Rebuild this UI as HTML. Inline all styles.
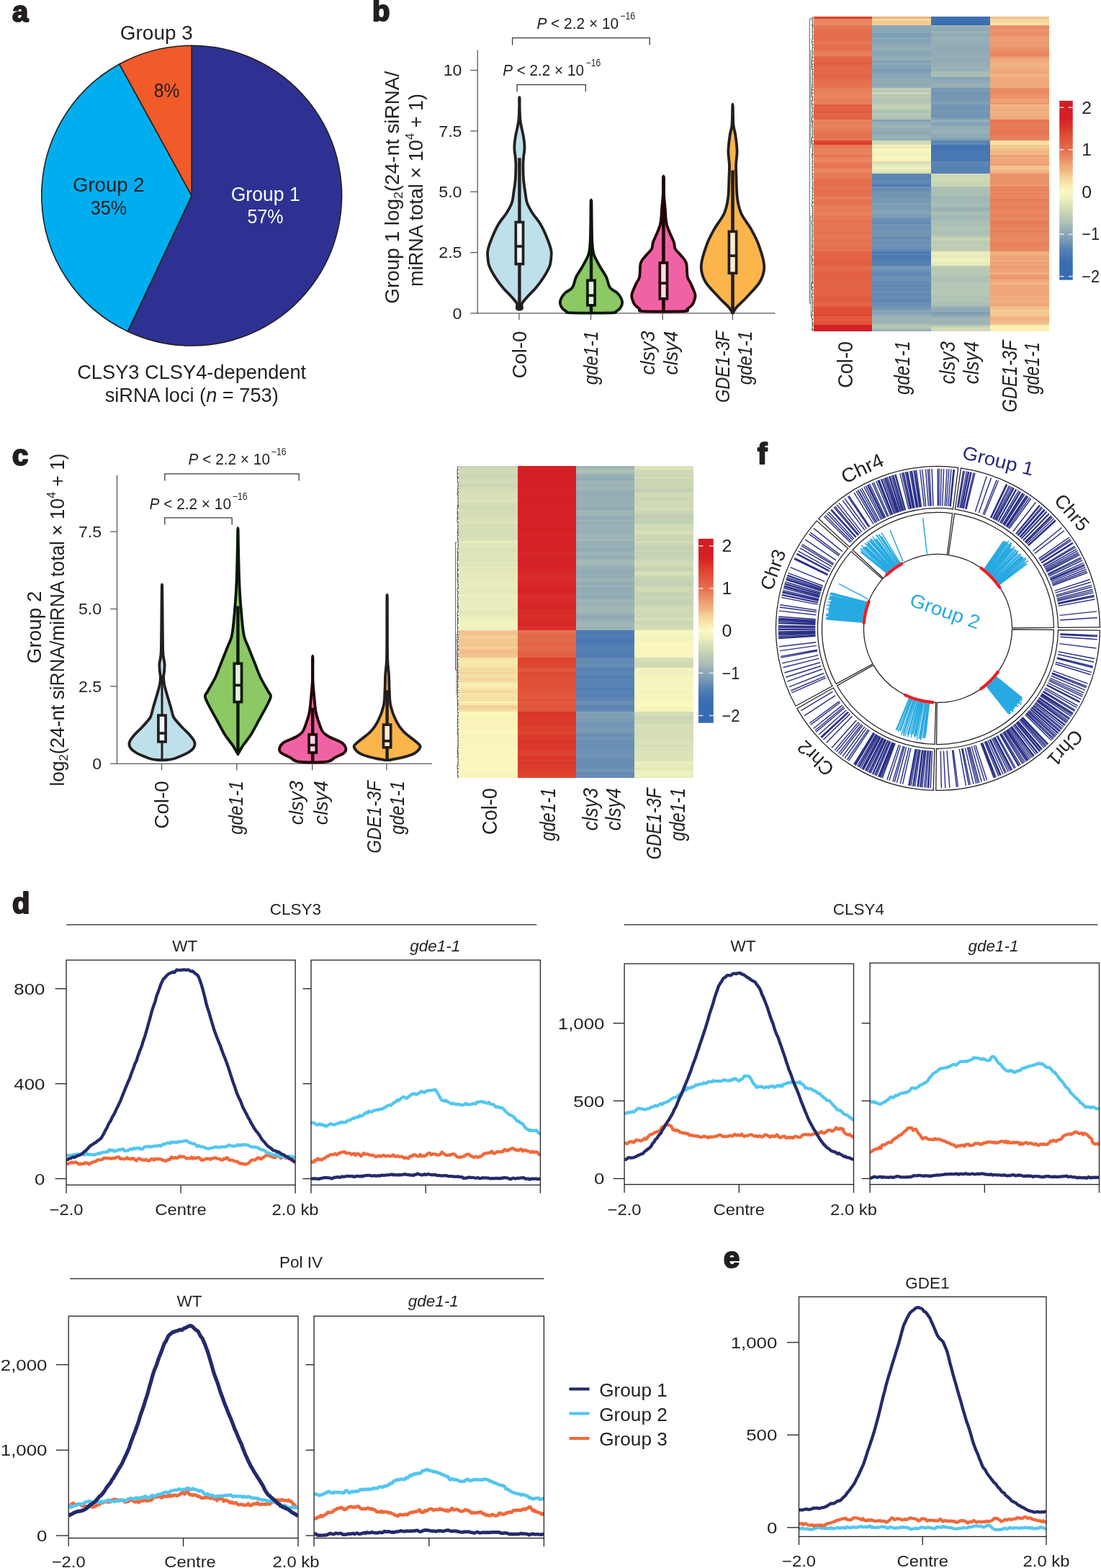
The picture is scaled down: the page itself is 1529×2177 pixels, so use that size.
<!DOCTYPE html>
<html><head><meta charset="utf-8"><title>Figure</title>
<style>
html,body{margin:0;padding:0;background:#fff;}
body{width:1529px;height:2177px;overflow:hidden;}
svg{display:block;}
text{font-family:"Liberation Sans", "DejaVu Sans", sans-serif;}
</style></head><body>
<svg fill="#231f20" width="1529" height="2177" viewBox="0 0 1529 2177">
<rect width="1529" height="2177" fill="#fff"/>
<text x="17" y="29.5" font-size="40" font-weight="bold" stroke="#231f20" stroke-width="2.2" stroke-linejoin="round">a</text>
<text x="517" y="28.5" font-size="40" font-weight="bold" stroke="#231f20" stroke-width="2.2" stroke-linejoin="round">b</text>
<text x="17" y="645.5" font-size="40" font-weight="bold" stroke="#231f20" stroke-width="2.2" stroke-linejoin="round">c</text>
<text x="17" y="1268" font-size="40" font-weight="bold" stroke="#231f20" stroke-width="2.2" stroke-linejoin="round">d</text>
<text x="1005" y="1760" font-size="40" font-weight="bold" stroke="#231f20" stroke-width="2.2" stroke-linejoin="round">e</text>
<text x="1052" y="644" font-size="40" font-weight="bold" stroke="#231f20" stroke-width="2.2" stroke-linejoin="round">f</text>
<path d="M266.2,271.6 L266.2,63.2 A208.4,208.4 0 1 1 177.47,460.17 Z" fill="#2e3192" stroke="#231f20" stroke-width="1.6" stroke-linejoin="round"/>
<path d="M266.2,271.6 L177.47,460.17 A208.4,208.4 0 0 1 165.8,88.98 Z" fill="#00aeef" stroke="#231f20" stroke-width="1.6" stroke-linejoin="round"/>
<path d="M266.2,271.6 L165.8,88.98 A208.4,208.4 0 0 1 266.2,63.2 Z" fill="#f15a29" stroke="#231f20" stroke-width="1.6" stroke-linejoin="round"/>
<text x="217.3" y="54.5" font-size="27" text-anchor="middle" textLength="101" lengthAdjust="spacingAndGlyphs">Group 3</text>
<text x="231.7" y="135.4" font-size="27" text-anchor="middle" textLength="35.7" lengthAdjust="spacingAndGlyphs">8%</text>
<text x="150.8" y="266.3" font-size="27" text-anchor="middle" textLength="99.7" lengthAdjust="spacingAndGlyphs">Group 2</text>
<text x="151" y="298.3" font-size="27" text-anchor="middle" textLength="50.3" lengthAdjust="spacingAndGlyphs">35%</text>
<text x="368.7" y="278.9" font-size="27" text-anchor="middle" fill="#ffffff" textLength="96" lengthAdjust="spacingAndGlyphs">Group 1</text>
<text x="368.5" y="310.2" font-size="27" text-anchor="middle" fill="#ffffff" textLength="50" lengthAdjust="spacingAndGlyphs">57%</text>
<text x="266.2" y="526.2" font-size="27.2" text-anchor="middle" textLength="318" lengthAdjust="spacingAndGlyphs">CLSY3 CLSY4-dependent</text>
<text x="266.2" y="557.8" font-size="27.2" text-anchor="middle">siRNA loci (<tspan font-style="italic">n</tspan> = 753)</text>
<line x1="663.2" y1="69.5" x2="663.2" y2="435.5" stroke="#58595b" stroke-width="1.3" />
<line x1="662.6" y1="434.9" x2="1076.5" y2="434.9" stroke="#58595b" stroke-width="1.3" />
<line x1="653.3" y1="434.9" x2="663.2" y2="434.9" stroke="#58595b" stroke-width="1.3" />
<text x="641.5" y="442.5" font-size="21.5" text-anchor="end" textLength="12.91" lengthAdjust="spacingAndGlyphs">0</text>
<line x1="653.3" y1="350.57" x2="663.2" y2="350.57" stroke="#58595b" stroke-width="1.3" />
<text x="641.5" y="358.18" font-size="21.5" text-anchor="end" textLength="32.28" lengthAdjust="spacingAndGlyphs">2.5</text>
<line x1="653.3" y1="266.25" x2="663.2" y2="266.25" stroke="#58595b" stroke-width="1.3" />
<text x="641.5" y="273.85" font-size="21.5" text-anchor="end" textLength="32.28" lengthAdjust="spacingAndGlyphs">5.0</text>
<line x1="653.3" y1="181.93" x2="663.2" y2="181.93" stroke="#58595b" stroke-width="1.3" />
<text x="641.5" y="189.53" font-size="21.5" text-anchor="end" textLength="32.28" lengthAdjust="spacingAndGlyphs">7.5</text>
<line x1="653.3" y1="97.6" x2="663.2" y2="97.6" stroke="#58595b" stroke-width="1.3" />
<text x="641.5" y="105.2" font-size="21.5" text-anchor="end" textLength="25.82" lengthAdjust="spacingAndGlyphs">10</text>
<line x1="720.9" y1="434.9" x2="720.9" y2="444" stroke="#58595b" stroke-width="1.3" />
<line x1="820.5" y1="434.9" x2="820.5" y2="444" stroke="#58595b" stroke-width="1.3" />
<line x1="920.2" y1="434.9" x2="920.2" y2="444" stroke="#58595b" stroke-width="1.3" />
<line x1="1017.4" y1="434.9" x2="1017.4" y2="444" stroke="#58595b" stroke-width="1.3" />
<path d="M721.65,136.9 C721.74,139.08 721.52,144.73 721.7,150 C721.87,155.27 721.82,161.83 722.7,168.5 C723.58,175.17 726.03,183.88 727,190 C727.97,196.12 728.48,200.53 728.5,205.2 C728.52,209.87 727.45,213.83 727.1,218 C726.75,222.17 726.4,224.87 726.4,230.2 C726.4,235.53 726.6,243.87 727.1,250 C727.6,256.13 728.58,261.72 729.4,267 C730.22,272.28 730.32,276.87 732,281.7 C733.68,286.53 736.43,291.12 739.5,296 C742.57,300.88 747.07,305.33 750.4,311 C753.73,316.67 757,323.87 759.5,330 C762,336.13 764.47,342.8 765.4,347.8 C766.33,352.8 765.47,356.33 765.1,360 C764.73,363.67 764.88,365.63 763.2,369.8 C761.52,373.97 758.12,380.1 755,385 C751.88,389.9 748.25,394.7 744.5,399.2 C740.75,403.7 735.75,408.32 732.5,412 C729.25,415.68 726.3,418.53 725,421.3 C723.7,424.07 725.85,427.38 724.7,428.6 C723.55,429.82 719.25,429.82 718.1,428.6 C716.95,427.38 719.1,424.07 717.8,421.3 C716.5,418.53 713.55,415.68 710.3,412 C707.05,408.32 702.05,403.7 698.3,399.2 C694.55,394.7 690.92,389.9 687.8,385 C684.68,380.1 681.28,373.97 679.6,369.8 C677.92,365.63 678.07,363.67 677.7,360 C677.33,356.33 676.47,352.8 677.4,347.8 C678.33,342.8 680.8,336.13 683.3,330 C685.8,323.87 689.07,316.67 692.4,311 C695.73,305.33 700.23,300.88 703.3,296 C706.37,291.12 709.12,286.53 710.8,281.7 C712.48,276.87 712.58,272.28 713.4,267 C714.22,261.72 715.2,256.13 715.7,250 C716.2,243.87 716.4,235.53 716.4,230.2 C716.4,224.87 716.05,222.17 715.7,218 C715.35,213.83 714.28,209.87 714.3,205.2 C714.32,200.53 714.83,196.12 715.8,190 C716.77,183.88 719.22,175.17 720.1,168.5 C720.98,161.83 720.93,155.27 721.1,150 C721.27,144.73 721.06,139.08 721.15,136.9 C721.24,134.72 721.56,134.72 721.65,136.9 Z" fill="#bee0ea" stroke="#231f20" stroke-width="3.8" stroke-linejoin="round"/>
<line x1="721.4" y1="219.2" x2="721.4" y2="428.6" stroke="#231f20" stroke-width="4.4" stroke-linecap="butt"/>
<rect x="716.3" y="308.45" width="10.2" height="58.1" fill="#f0f9fa" stroke="#231f20" stroke-width="3.7" />
<line x1="716.3" y1="342" x2="726.5" y2="342" stroke="#231f20" stroke-width="3.7" />
<path d="M821.25,280.2 C821.38,283.5 821.36,291.7 821.5,300 C821.64,308.3 821.83,322.5 822.1,330 C822.37,337.5 822.57,340.83 823.1,345 C823.63,349.17 823.63,350.83 825.3,355 C826.97,359.17 830.33,365.08 833.1,370 C835.87,374.92 839.58,379.63 841.9,384.5 C844.22,389.37 844.47,395.52 847,399.2 C849.53,402.88 854.5,404.13 857.1,406.6 C859.7,409.07 861.43,411.55 862.6,414 C863.77,416.45 864.35,418.97 864.1,421.3 C863.85,423.63 862.6,426.12 861.1,428 C859.6,429.88 857.1,431.55 855.1,432.6 C853.1,433.65 859.47,434.02 849.1,434.3 C838.73,434.58 803.27,434.58 792.9,434.3 C782.53,434.02 788.9,433.65 786.9,432.6 C784.9,431.55 782.4,429.88 780.9,428 C779.4,426.12 778.15,423.63 777.9,421.3 C777.65,418.97 778.23,416.45 779.4,414 C780.57,411.55 782.3,409.07 784.9,406.6 C787.5,404.13 792.47,402.88 795,399.2 C797.53,395.52 797.78,389.37 800.1,384.5 C802.42,379.63 806.13,374.92 808.9,370 C811.67,365.08 815.03,359.17 816.7,355 C818.37,350.83 818.37,349.17 818.9,345 C819.43,340.83 819.63,337.5 819.9,330 C820.17,322.5 820.36,308.3 820.5,300 C820.64,291.7 820.62,283.5 820.75,280.2 C820.88,276.9 821.12,276.9 821.25,280.2 Z" fill="#8cc864" stroke="#0b1708" stroke-width="3.8" stroke-linejoin="round"/>
<line x1="821" y1="278" x2="821" y2="434.3" stroke="#0b1708" stroke-width="4.4" stroke-linecap="butt"/>
<rect x="815.9" y="389.35" width="10.2" height="34.5" fill="#e6f3dc" stroke="#0b1708" stroke-width="3.7" />
<line x1="815.9" y1="410.2" x2="826.1" y2="410.2" stroke="#0b1708" stroke-width="3.7" />
<path d="M921.65,247.2 C921.79,251 921.67,263.22 922,270 C922.33,276.78 922.93,280.9 923.6,287.9 C924.27,294.9 923.98,303.98 926,312 C928.02,320.02 933.73,330.38 935.7,336 C937.67,341.62 936.08,342.53 937.8,345.7 C939.52,348.87 943.47,351.78 946,355 C948.53,358.22 951.55,360.12 953,365 C954.45,369.88 953.62,379.47 954.7,384.3 C955.78,389.13 957.73,389.98 959.5,394 C961.27,398.02 964.47,404.73 965.3,408.4 C966.13,412.07 965.13,413.58 964.5,416 C963.87,418.42 963.17,420.73 961.5,422.9 C959.83,425.07 956.5,427.45 954.5,429 C952.5,430.55 959.7,431.67 949.5,432.2 C939.3,432.73 903.5,432.73 893.3,432.2 C883.1,431.67 890.3,430.55 888.3,429 C886.3,427.45 882.97,425.07 881.3,422.9 C879.63,420.73 878.93,418.42 878.3,416 C877.67,413.58 876.67,412.07 877.5,408.4 C878.33,404.73 881.53,398.02 883.3,394 C885.07,389.98 887.02,389.13 888.1,384.3 C889.18,379.47 888.35,369.88 889.8,365 C891.25,360.12 894.27,358.22 896.8,355 C899.33,351.78 903.28,348.87 905,345.7 C906.72,342.53 905.13,341.62 907.1,336 C909.07,330.38 914.78,320.02 916.8,312 C918.82,303.98 918.53,294.9 919.2,287.9 C919.87,280.9 920.47,276.78 920.8,270 C921.12,263.22 921.01,251 921.15,247.2 C921.29,243.4 921.51,243.4 921.65,247.2 Z" fill="#ef63a5" stroke="#220306" stroke-width="3.8" stroke-linejoin="round"/>
<line x1="921.4" y1="245" x2="921.4" y2="432.2" stroke="#220306" stroke-width="4.6" stroke-linecap="butt"/>
<rect x="916.3" y="364.95" width="10.2" height="49.8" fill="#fbdcec" stroke="#220306" stroke-width="3.7" />
<line x1="916.3" y1="393.2" x2="926.5" y2="393.2" stroke="#220306" stroke-width="3.7" />
<path d="M1017.75,147.8 C1017.96,152.07 1017.89,166.72 1018.5,173.4 C1019.11,180.08 1020.55,181.87 1021.4,187.9 C1022.25,193.93 1023.48,202.85 1023.6,209.6 C1023.72,216.35 1022.28,222.37 1022.1,228.4 C1021.92,234.43 1022.2,238.08 1022.5,245.8 C1022.8,253.52 1022.75,266.27 1023.9,274.7 C1025.05,283.13 1026.2,289.15 1029.4,296.4 C1032.6,303.65 1039.07,310.95 1043.1,318.2 C1047.13,325.45 1050.58,331.47 1053.6,339.9 C1056.62,348.33 1060.83,360.37 1061.2,368.8 C1061.57,377.23 1059.78,383.27 1055.8,390.5 C1051.82,397.73 1042.8,406.17 1037.3,412.2 C1031.8,418.23 1025.98,423.07 1022.8,426.7 C1019.62,430.33 1019.2,432.78 1018.2,434 C1017.2,435.22 1017.8,435.22 1016.8,434 C1015.8,432.78 1015.38,430.33 1012.2,426.7 C1009.02,423.07 1003.2,418.23 997.7,412.2 C992.2,406.17 983.18,397.73 979.2,390.5 C975.22,383.27 973.43,377.23 973.8,368.8 C974.17,360.37 978.38,348.33 981.4,339.9 C984.42,331.47 987.87,325.45 991.9,318.2 C995.93,310.95 1002.4,303.65 1005.6,296.4 C1008.8,289.15 1009.95,283.13 1011.1,274.7 C1012.25,266.27 1012.2,253.52 1012.5,245.8 C1012.8,238.08 1013.08,234.43 1012.9,228.4 C1012.72,222.37 1011.28,216.35 1011.4,209.6 C1011.52,202.85 1012.75,193.93 1013.6,187.9 C1014.45,181.87 1015.89,180.08 1016.5,173.4 C1017.11,166.72 1017.04,152.07 1017.25,147.8 C1017.46,143.53 1017.54,143.53 1017.75,147.8 Z" fill="#fbb54b" stroke="#231f20" stroke-width="3.8" stroke-linejoin="round"/>
<line x1="1017.5" y1="236.4" x2="1017.5" y2="434" stroke="#231f20" stroke-width="4.6" stroke-linecap="butt"/>
<rect x="1012.4" y="321.45" width="10.2" height="57.8" fill="#fdecd2" stroke="#231f20" stroke-width="3.7" />
<line x1="1012.4" y1="355.1" x2="1022.6" y2="355.1" stroke="#231f20" stroke-width="3.7" />
<text x="745.4" y="39.8" font-size="22" textLength="113.7" lengthAdjust="spacingAndGlyphs"><tspan font-style="italic">P</tspan> &lt; 2.2 × 10</text>
<text x="861.2" y="27" font-size="14.5" textLength="20.9" lengthAdjust="spacingAndGlyphs">−16</text>
<path d="M711.6,62.5 V52.7 H902.2 V62.5" fill="none" stroke="#3a3a3a" stroke-width="1.3"/>
<text x="698.2" y="104.7" font-size="22" textLength="112.7" lengthAdjust="spacingAndGlyphs"><tspan font-style="italic">P</tspan> &lt; 2.2 × 10</text>
<text x="813.7" y="91.7" font-size="14.5" textLength="20.6" lengthAdjust="spacingAndGlyphs">−16</text>
<path d="M718,127.3 V117.6 H813.3 V127.3" fill="none" stroke="#3a3a3a" stroke-width="1.3"/>
<text transform="translate(553.9 260.3) rotate(-90)" font-size="27" text-anchor="middle" textLength="323" lengthAdjust="spacingAndGlyphs">Group 1 log<tspan font-size="17" dy="5">2</tspan><tspan dy="-5">(24-nt siRNA/</tspan></text>
<text transform="translate(586.9 263.9) rotate(-90)" font-size="27" text-anchor="middle" textLength="268" lengthAdjust="spacingAndGlyphs">miRNA total × 10<tspan font-size="17" dy="-12">4</tspan><tspan dy="12"> + 1)</tspan></text>
<text transform="translate(730.6 459.6) rotate(-90)" font-size="28.5" text-anchor="end" textLength="66" lengthAdjust="spacingAndGlyphs">Col-0</text>
<text transform="translate(829.5 459.6) rotate(-90)" font-size="28" text-anchor="end" font-style="italic" textLength="74.6" lengthAdjust="spacingAndGlyphs">gde1-1</text>
<text transform="translate(908.8 459.6) rotate(-90)" font-size="28" text-anchor="end" font-style="italic" textLength="61" lengthAdjust="spacingAndGlyphs">clsy3</text>
<text transform="translate(940.8 459.6) rotate(-90)" font-size="28" text-anchor="end" font-style="italic" textLength="61" lengthAdjust="spacingAndGlyphs">clsy4</text>
<text transform="translate(1013 459.6) rotate(-90)" font-size="28" text-anchor="end" font-style="italic" textLength="99.4" lengthAdjust="spacingAndGlyphs">GDE1-3F</text>
<text transform="translate(1044.2 459.6) rotate(-90)" font-size="28" text-anchor="end" font-style="italic" textLength="74.6" lengthAdjust="spacingAndGlyphs">gde1-1</text>
<line x1="162.5" y1="659.7" x2="162.5" y2="1060.9" stroke="#58595b" stroke-width="1.3" />
<line x1="161.9" y1="1060.3" x2="600" y2="1060.3" stroke="#58595b" stroke-width="1.3" />
<line x1="153.3" y1="1060.3" x2="162.5" y2="1060.3" stroke="#58595b" stroke-width="1.3" />
<text x="141.2" y="1067.9" font-size="21.5" text-anchor="end" textLength="12.91" lengthAdjust="spacingAndGlyphs">0</text>
<line x1="153.3" y1="952.9" x2="162.5" y2="952.9" stroke="#58595b" stroke-width="1.3" />
<text x="141.2" y="960.5" font-size="21.5" text-anchor="end" textLength="32.28" lengthAdjust="spacingAndGlyphs">2.5</text>
<line x1="153.3" y1="845.5" x2="162.5" y2="845.5" stroke="#58595b" stroke-width="1.3" />
<text x="141.2" y="853.1" font-size="21.5" text-anchor="end" textLength="32.28" lengthAdjust="spacingAndGlyphs">5.0</text>
<line x1="153.3" y1="738.1" x2="162.5" y2="738.1" stroke="#58595b" stroke-width="1.3" />
<text x="141.2" y="745.7" font-size="21.5" text-anchor="end" textLength="32.28" lengthAdjust="spacingAndGlyphs">7.5</text>
<line x1="224.5" y1="1060.3" x2="224.5" y2="1069.5" stroke="#58595b" stroke-width="1.3" />
<line x1="328.9" y1="1060.3" x2="328.9" y2="1069.5" stroke="#58595b" stroke-width="1.3" />
<line x1="433.7" y1="1060.3" x2="433.7" y2="1069.5" stroke="#58595b" stroke-width="1.3" />
<line x1="536.9" y1="1060.3" x2="536.9" y2="1069.5" stroke="#58595b" stroke-width="1.3" />
<path d="M225.25,815.7 C225.39,821.42 225.46,835.95 225.6,850 C225.74,864.05 225.85,889.5 226.1,900 C226.35,910.5 226.68,909.33 227.1,913 C227.52,916.67 228.43,918.83 228.6,922 C228.77,925.17 228.35,929 228.1,932 C227.85,935 227.1,937 227.1,940 C227.1,943 227.27,945.83 228.1,950 C228.93,954.17 230.68,960 232.1,965 C233.52,970 235.27,975.33 236.6,980 C237.93,984.67 239.1,990 240.1,993 C241.1,996 240.43,995.17 242.6,998 C244.77,1000.83 249.68,1006.33 253.1,1010 C256.52,1013.67 260.27,1016.67 263.1,1020 C265.93,1023.33 269.1,1027 270.1,1030 C271.1,1033 270.6,1035.5 269.1,1038 C267.6,1040.5 264.27,1043 261.1,1045 C257.93,1047 253.43,1048.58 250.1,1050 C246.77,1051.42 244.1,1052.67 241.1,1053.5 C238.1,1054.33 235.97,1054.75 232.1,1055 C228.23,1055.25 221.77,1055.25 217.9,1055 C214.03,1054.75 211.9,1054.33 208.9,1053.5 C205.9,1052.67 203.23,1051.42 199.9,1050 C196.57,1048.58 192.07,1047 188.9,1045 C185.73,1043 182.4,1040.5 180.9,1038 C179.4,1035.5 178.9,1033 179.9,1030 C180.9,1027 184.07,1023.33 186.9,1020 C189.73,1016.67 193.48,1013.67 196.9,1010 C200.32,1006.33 205.23,1000.83 207.4,998 C209.57,995.17 208.9,996 209.9,993 C210.9,990 212.07,984.67 213.4,980 C214.73,975.33 216.48,970 217.9,965 C219.32,960 221.07,954.17 221.9,950 C222.73,945.83 222.9,943 222.9,940 C222.9,937 222.15,935 221.9,932 C221.65,929 221.23,925.17 221.4,922 C221.57,918.83 222.48,916.67 222.9,913 C223.32,909.33 223.65,910.5 223.9,900 C224.15,889.5 224.26,864.05 224.4,850 C224.54,835.95 224.61,821.42 224.75,815.7 C224.89,809.98 225.11,809.98 225.25,815.7 Z" fill="#bee0ea" stroke="#231f20" stroke-width="3.8" stroke-linejoin="round"/>
<line x1="225" y1="938" x2="225" y2="1055" stroke="#231f20" stroke-width="3" stroke-linecap="butt"/>
<rect x="219.9" y="993.15" width="10.2" height="36.7" fill="#f0f9fa" stroke="#231f20" stroke-width="3.7" />
<line x1="219.9" y1="1018" x2="230.1" y2="1018" stroke="#231f20" stroke-width="3.7" />
<path d="M330.65,736.1 C330.79,740.08 330.77,749.35 331,760 C331.23,770.65 331.58,788.33 332,800 C332.42,811.67 332.67,818.33 333.5,830 C334.33,841.67 336,860.83 337,870 C338,879.17 338.08,880 339.5,885 C340.92,890 343.17,894.17 345.5,900 C347.83,905.83 350.83,913.33 353.5,920 C356.17,926.67 358.33,933.33 361.5,940 C364.67,946.67 370.08,955.5 372.5,960 C374.92,964.5 376.33,963.67 376,967 C375.67,970.33 373.25,974.5 370.5,980 C367.75,985.5 363.17,993.33 359.5,1000 C355.83,1006.67 352.17,1014.17 348.5,1020 C344.83,1025.83 340.42,1030.67 337.5,1035 C334.58,1039.33 332.28,1044.17 331,1046 C329.72,1047.83 331.08,1047.83 329.8,1046 C328.52,1044.17 326.22,1039.33 323.3,1035 C320.38,1030.67 315.97,1025.83 312.3,1020 C308.63,1014.17 304.97,1006.67 301.3,1000 C297.63,993.33 293.05,985.5 290.3,980 C287.55,974.5 285.13,970.33 284.8,967 C284.47,963.67 285.88,964.5 288.3,960 C290.72,955.5 296.13,946.67 299.3,940 C302.47,933.33 304.63,926.67 307.3,920 C309.97,913.33 312.97,905.83 315.3,900 C317.63,894.17 319.88,890 321.3,885 C322.72,880 322.8,879.17 323.8,870 C324.8,860.83 326.47,841.67 327.3,830 C328.13,818.33 328.38,811.67 328.8,800 C329.22,788.33 329.57,770.65 329.8,760 C330.02,749.35 330.01,740.08 330.15,736.1 C330.29,732.12 330.51,732.12 330.65,736.1 Z" fill="#8cc864" stroke="#0b1708" stroke-width="3.8" stroke-linejoin="round"/>
<line x1="330.4" y1="841.6" x2="330.4" y2="1046" stroke="#0b1708" stroke-width="4.4" stroke-linecap="butt"/>
<rect x="325.3" y="921.25" width="10.2" height="53.3" fill="#e6f3dc" stroke="#0b1708" stroke-width="3.7" />
<line x1="325.3" y1="951.4" x2="335.5" y2="951.4" stroke="#0b1708" stroke-width="3.7" />
<path d="M434.45,914.4 C434.54,919.32 434.32,936.58 434.5,943.9 C434.68,951.22 434.85,951.1 435.5,958.3 C436.15,965.5 437.27,979.92 438.4,987.1 C439.53,994.28 440.68,996.62 442.3,1001.4 C443.92,1006.18 445.63,1012.2 448.1,1015.8 C450.57,1019.4 452.9,1020.6 457.1,1023 C461.3,1025.4 469.52,1027.8 473.3,1030.2 C477.08,1032.6 478.9,1035 479.8,1037.4 C480.7,1039.8 481.12,1042.2 478.7,1044.6 C476.28,1047 469.53,1049.63 465.3,1051.8 C461.07,1053.97 461.67,1056.63 453.3,1057.6 C444.93,1058.57 423.47,1058.57 415.1,1057.6 C406.73,1056.63 407.33,1053.97 403.1,1051.8 C398.87,1049.63 392.12,1047 389.7,1044.6 C387.28,1042.2 387.7,1039.8 388.6,1037.4 C389.5,1035 391.32,1032.6 395.1,1030.2 C398.88,1027.8 407.1,1025.4 411.3,1023 C415.5,1020.6 417.83,1019.4 420.3,1015.8 C422.77,1012.2 424.48,1006.18 426.1,1001.4 C427.72,996.62 428.87,994.28 430,987.1 C431.13,979.92 432.25,965.5 432.9,958.3 C433.55,951.1 433.72,951.22 433.9,943.9 C434.07,936.58 433.86,919.32 433.95,914.4 C434.04,909.48 434.36,909.48 434.45,914.4 Z" fill="#ef63a5" stroke="#220306" stroke-width="3.8" stroke-linejoin="round"/>
<line x1="434.2" y1="982.7" x2="434.2" y2="1057.6" stroke="#220306" stroke-width="4.4" stroke-linecap="butt"/>
<rect x="429.1" y="1019.85" width="10.2" height="25.1" fill="#fbdcec" stroke="#220306" stroke-width="3.7" />
<line x1="429.1" y1="1034.5" x2="439.3" y2="1034.5" stroke="#220306" stroke-width="3.7" />
<path d="M537.85,831 C537.94,837.82 537.84,857.88 537.9,871.9 C537.96,885.92 537.85,904.3 538.2,915.1 C538.55,925.9 539.58,929.5 540,936.7 C540.42,943.9 540.28,951.1 540.7,958.3 C541.12,965.5 540.88,972.72 542.5,979.9 C544.12,987.08 547.4,995.42 550.4,1001.4 C553.4,1007.38 555.88,1011 560.5,1015.8 C565.12,1020.6 574.27,1026.6 578.1,1030.2 C581.93,1033.8 584.45,1034.52 583.5,1037.4 C582.55,1040.28 579.03,1044.62 572.4,1047.5 C565.77,1050.38 550.52,1053.5 543.7,1054.7 C536.88,1055.9 538.32,1055.9 531.5,1054.7 C524.68,1053.5 509.43,1050.38 502.8,1047.5 C496.17,1044.62 492.65,1040.28 491.7,1037.4 C490.75,1034.52 493.27,1033.8 497.1,1030.2 C500.93,1026.6 510.08,1020.6 514.7,1015.8 C519.32,1011 521.8,1007.38 524.8,1001.4 C527.8,995.42 531.08,987.08 532.7,979.9 C534.32,972.72 534.08,965.5 534.5,958.3 C534.92,951.1 534.78,943.9 535.2,936.7 C535.62,929.5 536.65,925.9 537,915.1 C537.35,904.3 537.24,885.92 537.3,871.9 C537.36,857.88 537.26,837.82 537.35,831 C537.44,824.18 537.76,824.18 537.85,831 Z" fill="#fbb54b" stroke="#231f20" stroke-width="3.8" stroke-linejoin="round"/>
<line x1="537.6" y1="958.3" x2="537.6" y2="1054.7" stroke="#231f20" stroke-width="4.4" stroke-linecap="butt"/>
<rect x="532.5" y="1006.15" width="10.2" height="31.6" fill="#fdecd2" stroke="#231f20" stroke-width="3.7" />
<line x1="532.5" y1="1028.8" x2="542.7" y2="1028.8" stroke="#231f20" stroke-width="3.7" />
<text x="261.5" y="644.5" font-size="22" textLength="113.5" lengthAdjust="spacingAndGlyphs"><tspan font-style="italic">P</tspan> &lt; 2.2 × 10</text>
<text x="376.8" y="631.5" font-size="14.5" textLength="20.7" lengthAdjust="spacingAndGlyphs">−16</text>
<path d="M228.8,667.5 V657.8 H415.2 V667.5" fill="none" stroke="#3a3a3a" stroke-width="1.3"/>
<text x="207.5" y="706.5" font-size="22" textLength="113.5" lengthAdjust="spacingAndGlyphs"><tspan font-style="italic">P</tspan> &lt; 2.2 × 10</text>
<text x="322.8" y="693.5" font-size="14.5" textLength="20.7" lengthAdjust="spacingAndGlyphs">−16</text>
<path d="M228.8,728.5 V718.8 H322.2 V728.5" fill="none" stroke="#3a3a3a" stroke-width="1.3"/>
<text transform="translate(56.5 870.9) rotate(-90)" font-size="27" text-anchor="middle" textLength="100.6" lengthAdjust="spacingAndGlyphs">Group 2</text>
<text transform="translate(89.4 860.5) rotate(-90)" font-size="27" text-anchor="middle" textLength="462" lengthAdjust="spacingAndGlyphs">log<tspan font-size="17" dy="5">2</tspan><tspan dy="-5">(24-nt siRNA/miRNA total × 10</tspan><tspan font-size="17" dy="-12">4</tspan><tspan dy="12"> + 1)</tspan></text>
<text transform="translate(233.9 1084.2) rotate(-90)" font-size="28.5" text-anchor="end" textLength="66.5" lengthAdjust="spacingAndGlyphs">Col-0</text>
<text transform="translate(337.3 1084.2) rotate(-90)" font-size="28" text-anchor="end" font-style="italic" textLength="74.5" lengthAdjust="spacingAndGlyphs">gde1-1</text>
<text transform="translate(421 1084.2) rotate(-90)" font-size="28" text-anchor="end" font-style="italic" textLength="61" lengthAdjust="spacingAndGlyphs">clsy3</text>
<text transform="translate(455 1084.2) rotate(-90)" font-size="28" text-anchor="end" font-style="italic" textLength="61" lengthAdjust="spacingAndGlyphs">clsy4</text>
<text transform="translate(529.3 1084.2) rotate(-90)" font-size="28" text-anchor="end" font-style="italic" textLength="100.5" lengthAdjust="spacingAndGlyphs">GDE1-3F</text>
<text transform="translate(561 1084.2) rotate(-90)" font-size="28" text-anchor="end" font-style="italic" textLength="74.5" lengthAdjust="spacingAndGlyphs">gde1-1</text>
<g shape-rendering="crispEdges">
<rect x="1129.5" y="23" width="81.7" height="3.31" fill="#dd412e"/>
<rect x="1129.5" y="25.91" width="81.7" height="3.31" fill="#e9845f"/>
<rect x="1129.5" y="28.82" width="81.7" height="3.31" fill="#e98762"/>
<rect x="1129.5" y="31.73" width="81.7" height="3.31" fill="#ea8963"/>
<rect x="1129.5" y="34.64" width="81.7" height="3.31" fill="#e67856"/>
<rect x="1129.5" y="37.55" width="81.7" height="3.31" fill="#e67655"/>
<rect x="1129.5" y="40.46" width="81.7" height="3.31" fill="#e56e4f"/>
<rect x="1129.5" y="43.37" width="81.7" height="3.31" fill="#e46d4e"/>
<rect x="1129.5" y="46.29" width="81.7" height="3.31" fill="#e46a4c"/>
<rect x="1129.5" y="49.2" width="81.7" height="3.31" fill="#e46c4d"/>
<rect x="1129.5" y="52.11" width="81.7" height="3.31" fill="#e46d4e"/>
<rect x="1129.5" y="55.02" width="81.7" height="3.31" fill="#e46e4e"/>
<rect x="1129.5" y="57.93" width="81.7" height="3.31" fill="#e67957"/>
<rect x="1129.5" y="60.84" width="81.7" height="3.31" fill="#e57050"/>
<rect x="1129.5" y="63.75" width="81.7" height="3.31" fill="#e56e4f"/>
<rect x="1129.5" y="66.66" width="81.7" height="3.31" fill="#e46d4e"/>
<rect x="1129.5" y="69.57" width="81.7" height="3.31" fill="#e67857"/>
<rect x="1129.5" y="72.48" width="81.7" height="3.31" fill="#e87f5c"/>
<rect x="1129.5" y="75.39" width="81.7" height="3.31" fill="#e87e5b"/>
<rect x="1129.5" y="78.3" width="81.7" height="3.31" fill="#e4684a"/>
<rect x="1129.5" y="81.21" width="81.7" height="3.31" fill="#e36446"/>
<rect x="1129.5" y="84.12" width="81.7" height="3.31" fill="#e36346"/>
<rect x="1129.5" y="87.03" width="81.7" height="3.31" fill="#e25f43"/>
<rect x="1129.5" y="89.95" width="81.7" height="3.31" fill="#e36346"/>
<rect x="1129.5" y="92.86" width="81.7" height="3.31" fill="#e4684a"/>
<rect x="1129.5" y="95.77" width="81.7" height="3.31" fill="#e36749"/>
<rect x="1129.5" y="98.68" width="81.7" height="3.31" fill="#e46a4c"/>
<rect x="1129.5" y="101.59" width="81.7" height="6.22" fill="#e36245"/>
<rect x="1129.5" y="107.41" width="81.7" height="3.31" fill="#e36648"/>
<rect x="1129.5" y="110.32" width="81.7" height="3.31" fill="#e46d4e"/>
<rect x="1129.5" y="113.23" width="81.7" height="3.31" fill="#e57151"/>
<rect x="1129.5" y="116.14" width="81.7" height="3.31" fill="#e57252"/>
<rect x="1129.5" y="119.05" width="81.7" height="3.31" fill="#e57151"/>
<rect x="1129.5" y="121.96" width="81.7" height="6.22" fill="#e77d5a"/>
<rect x="1129.5" y="127.78" width="81.7" height="3.31" fill="#e8805d"/>
<rect x="1129.5" y="130.69" width="81.7" height="6.22" fill="#e98661"/>
<rect x="1129.5" y="136.52" width="81.7" height="3.31" fill="#e77c59"/>
<rect x="1129.5" y="139.43" width="81.7" height="3.31" fill="#e8825e"/>
<rect x="1129.5" y="142.34" width="81.7" height="3.31" fill="#e87f5c"/>
<rect x="1129.5" y="145.25" width="81.7" height="3.31" fill="#e25d41"/>
<rect x="1129.5" y="148.16" width="81.7" height="3.31" fill="#e36447"/>
<rect x="1129.5" y="151.07" width="81.7" height="3.31" fill="#e26245"/>
<rect x="1129.5" y="153.98" width="81.7" height="3.31" fill="#e15a3f"/>
<rect x="1129.5" y="156.89" width="81.7" height="3.31" fill="#e36548"/>
<rect x="1129.5" y="159.8" width="81.7" height="3.31" fill="#e36447"/>
<rect x="1129.5" y="162.71" width="81.7" height="3.31" fill="#e36245"/>
<rect x="1129.5" y="165.62" width="81.7" height="3.31" fill="#e9845f"/>
<rect x="1129.5" y="168.53" width="81.7" height="6.22" fill="#e77d5b"/>
<rect x="1129.5" y="174.35" width="81.7" height="3.31" fill="#e98661"/>
<rect x="1129.5" y="177.27" width="81.7" height="3.31" fill="#e77d5a"/>
<rect x="1129.5" y="180.18" width="81.7" height="3.31" fill="#e67957"/>
<rect x="1129.5" y="183.09" width="81.7" height="3.31" fill="#e67554"/>
<rect x="1129.5" y="186" width="81.7" height="3.31" fill="#e57050"/>
<rect x="1129.5" y="188.91" width="81.7" height="3.31" fill="#e57353"/>
<rect x="1129.5" y="191.82" width="81.7" height="3.31" fill="#e67755"/>
<rect x="1129.5" y="194.73" width="81.7" height="3.31" fill="#dd442e"/>
<rect x="1129.5" y="197.64" width="81.7" height="3.31" fill="#dc3f2d"/>
<rect x="1129.5" y="200.55" width="81.7" height="3.31" fill="#e77b59"/>
<rect x="1129.5" y="203.46" width="81.7" height="3.31" fill="#e77c5a"/>
<rect x="1129.5" y="206.37" width="81.7" height="3.31" fill="#e8825e"/>
<rect x="1129.5" y="209.28" width="81.7" height="3.31" fill="#e9835f"/>
<rect x="1129.5" y="212.19" width="81.7" height="3.31" fill="#e8815e"/>
<rect x="1129.5" y="215.1" width="81.7" height="3.31" fill="#e67655"/>
<rect x="1129.5" y="218.01" width="81.7" height="3.31" fill="#e8835f"/>
<rect x="1129.5" y="220.93" width="81.7" height="3.31" fill="#e98762"/>
<rect x="1129.5" y="223.84" width="81.7" height="3.31" fill="#e87f5c"/>
<rect x="1129.5" y="226.75" width="81.7" height="3.31" fill="#e57353"/>
<rect x="1129.5" y="229.66" width="81.7" height="3.31" fill="#e57252"/>
<rect x="1129.5" y="232.57" width="81.7" height="3.31" fill="#e8805d"/>
<rect x="1129.5" y="235.48" width="81.7" height="3.31" fill="#ea8b65"/>
<rect x="1129.5" y="238.39" width="81.7" height="3.31" fill="#e8815d"/>
<rect x="1129.5" y="241.3" width="81.7" height="3.31" fill="#e77a58"/>
<rect x="1129.5" y="244.21" width="81.7" height="3.31" fill="#e77d5a"/>
<rect x="1129.5" y="247.12" width="81.7" height="3.31" fill="#e57251"/>
<rect x="1129.5" y="250.03" width="81.7" height="3.31" fill="#e46c4d"/>
<rect x="1129.5" y="252.94" width="81.7" height="3.31" fill="#e46e4e"/>
<rect x="1129.5" y="255.85" width="81.7" height="3.31" fill="#e56e4f"/>
<rect x="1129.5" y="258.76" width="81.7" height="3.31" fill="#e67454"/>
<rect x="1129.5" y="261.67" width="81.7" height="3.31" fill="#e56f4f"/>
<rect x="1129.5" y="264.59" width="81.7" height="3.31" fill="#e57050"/>
<rect x="1129.5" y="267.5" width="81.7" height="3.31" fill="#e57151"/>
<rect x="1129.5" y="270.41" width="81.7" height="3.31" fill="#e57252"/>
<rect x="1129.5" y="273.32" width="81.7" height="3.31" fill="#e77c5a"/>
<rect x="1129.5" y="276.23" width="81.7" height="3.31" fill="#e67453"/>
<rect x="1129.5" y="279.14" width="81.7" height="3.31" fill="#e57151"/>
<rect x="1129.5" y="282.05" width="81.7" height="3.31" fill="#e57252"/>
<rect x="1129.5" y="284.96" width="81.7" height="6.22" fill="#e87e5b"/>
<rect x="1129.5" y="290.78" width="81.7" height="3.31" fill="#e67856"/>
<rect x="1129.5" y="293.69" width="81.7" height="3.31" fill="#e8805d"/>
<rect x="1129.5" y="296.6" width="81.7" height="3.31" fill="#e77e5b"/>
<rect x="1129.5" y="299.51" width="81.7" height="3.31" fill="#e67655"/>
<rect x="1129.5" y="302.42" width="81.7" height="3.31" fill="#e77d5b"/>
<rect x="1129.5" y="305.33" width="81.7" height="3.31" fill="#e57353"/>
<rect x="1129.5" y="308.25" width="81.7" height="3.31" fill="#e57352"/>
<rect x="1129.5" y="311.16" width="81.7" height="3.31" fill="#e67655"/>
<rect x="1129.5" y="314.07" width="81.7" height="3.31" fill="#e67554"/>
<rect x="1129.5" y="316.98" width="81.7" height="3.31" fill="#e57453"/>
<rect x="1129.5" y="319.89" width="81.7" height="3.31" fill="#e67554"/>
<rect x="1129.5" y="322.8" width="81.7" height="3.31" fill="#e57151"/>
<rect x="1129.5" y="325.71" width="81.7" height="3.31" fill="#e67756"/>
<rect x="1129.5" y="328.62" width="81.7" height="3.31" fill="#e67755"/>
<rect x="1129.5" y="331.53" width="81.7" height="3.31" fill="#e57151"/>
<rect x="1129.5" y="334.44" width="81.7" height="3.31" fill="#e57352"/>
<rect x="1129.5" y="337.35" width="81.7" height="3.31" fill="#e67857"/>
<rect x="1129.5" y="340.26" width="81.7" height="3.31" fill="#e57252"/>
<rect x="1129.5" y="343.17" width="81.7" height="3.31" fill="#e46e4e"/>
<rect x="1129.5" y="346.08" width="81.7" height="3.31" fill="#e57352"/>
<rect x="1129.5" y="348.99" width="81.7" height="3.31" fill="#e36547"/>
<rect x="1129.5" y="351.91" width="81.7" height="9.13" fill="#e36346"/>
<rect x="1129.5" y="360.64" width="81.7" height="3.31" fill="#e25d41"/>
<rect x="1129.5" y="363.55" width="81.7" height="3.31" fill="#e36245"/>
<rect x="1129.5" y="366.46" width="81.7" height="3.31" fill="#e25d41"/>
<rect x="1129.5" y="369.37" width="81.7" height="3.31" fill="#e4694b"/>
<rect x="1129.5" y="372.28" width="81.7" height="3.31" fill="#e46c4d"/>
<rect x="1129.5" y="375.19" width="81.7" height="3.31" fill="#e36649"/>
<rect x="1129.5" y="378.1" width="81.7" height="3.31" fill="#e26145"/>
<rect x="1129.5" y="381.01" width="81.7" height="3.31" fill="#e26043"/>
<rect x="1129.5" y="383.92" width="81.7" height="3.31" fill="#e26144"/>
<rect x="1129.5" y="386.83" width="81.7" height="3.31" fill="#e36346"/>
<rect x="1129.5" y="389.74" width="81.7" height="3.31" fill="#e36446"/>
<rect x="1129.5" y="392.65" width="81.7" height="3.31" fill="#e36245"/>
<rect x="1129.5" y="395.57" width="81.7" height="3.31" fill="#e36547"/>
<rect x="1129.5" y="398.48" width="81.7" height="3.31" fill="#e36447"/>
<rect x="1129.5" y="401.39" width="81.7" height="3.31" fill="#e36346"/>
<rect x="1129.5" y="404.3" width="81.7" height="3.31" fill="#e36447"/>
<rect x="1129.5" y="407.21" width="81.7" height="3.31" fill="#e36245"/>
<rect x="1129.5" y="410.12" width="81.7" height="3.31" fill="#e26145"/>
<rect x="1129.5" y="413.03" width="81.7" height="3.31" fill="#e15a3f"/>
<rect x="1129.5" y="415.94" width="81.7" height="3.31" fill="#e25e42"/>
<rect x="1129.5" y="418.85" width="81.7" height="3.31" fill="#e36447"/>
<rect x="1129.5" y="421.76" width="81.7" height="3.31" fill="#e36749"/>
<rect x="1129.5" y="424.67" width="81.7" height="3.31" fill="#e05138"/>
<rect x="1129.5" y="427.58" width="81.7" height="3.31" fill="#df4c34"/>
<rect x="1129.5" y="430.49" width="81.7" height="3.31" fill="#e05037"/>
<rect x="1129.5" y="433.4" width="81.7" height="3.31" fill="#df4e35"/>
<rect x="1129.5" y="436.31" width="81.7" height="3.31" fill="#de452f"/>
<rect x="1129.5" y="439.23" width="81.7" height="3.31" fill="#e1583e"/>
<rect x="1129.5" y="442.14" width="81.7" height="3.31" fill="#e15b40"/>
<rect x="1129.5" y="445.05" width="81.7" height="3.31" fill="#e0553b"/>
<rect x="1129.5" y="447.96" width="81.7" height="3.31" fill="#e05138"/>
<rect x="1129.5" y="450.87" width="81.7" height="3.31" fill="#d52026"/>
<rect x="1129.5" y="453.78" width="81.7" height="3.31" fill="#d52126"/>
<rect x="1129.5" y="456.69" width="81.7" height="2.91" fill="#d52026"/>
<rect x="1210.8" y="23" width="82.4" height="3.31" fill="#f1b081"/>
<rect x="1210.8" y="25.91" width="82.4" height="3.31" fill="#f6da9e"/>
<rect x="1210.8" y="28.82" width="82.4" height="3.31" fill="#f4c790"/>
<rect x="1210.8" y="31.73" width="82.4" height="3.31" fill="#f4cc94"/>
<rect x="1210.8" y="34.64" width="82.4" height="3.31" fill="#8ea9b6"/>
<rect x="1210.8" y="37.55" width="82.4" height="3.31" fill="#8ca8b6"/>
<rect x="1210.8" y="40.46" width="82.4" height="6.22" fill="#8ba7b6"/>
<rect x="1210.8" y="46.29" width="82.4" height="3.31" fill="#7a9bb5"/>
<rect x="1210.8" y="49.2" width="82.4" height="3.31" fill="#7f9fb5"/>
<rect x="1210.8" y="52.11" width="82.4" height="3.31" fill="#8ba7b6"/>
<rect x="1210.8" y="55.02" width="82.4" height="3.31" fill="#84a2b6"/>
<rect x="1210.8" y="57.93" width="82.4" height="3.31" fill="#87a5b6"/>
<rect x="1210.8" y="60.84" width="82.4" height="3.31" fill="#8faab6"/>
<rect x="1210.8" y="63.75" width="82.4" height="3.31" fill="#92acb6"/>
<rect x="1210.8" y="66.66" width="82.4" height="3.31" fill="#97b0b6"/>
<rect x="1210.8" y="69.57" width="82.4" height="3.31" fill="#89a6b6"/>
<rect x="1210.8" y="72.48" width="82.4" height="6.22" fill="#88a5b6"/>
<rect x="1210.8" y="78.3" width="82.4" height="3.31" fill="#90abb6"/>
<rect x="1210.8" y="81.21" width="82.4" height="3.31" fill="#95aeb6"/>
<rect x="1210.8" y="84.12" width="82.4" height="3.31" fill="#82a1b6"/>
<rect x="1210.8" y="87.03" width="82.4" height="3.31" fill="#8eaab6"/>
<rect x="1210.8" y="89.95" width="82.4" height="3.31" fill="#86a4b6"/>
<rect x="1210.8" y="92.86" width="82.4" height="3.31" fill="#84a2b6"/>
<rect x="1210.8" y="95.77" width="82.4" height="3.31" fill="#7b9bb5"/>
<rect x="1210.8" y="98.68" width="82.4" height="3.31" fill="#809fb5"/>
<rect x="1210.8" y="101.59" width="82.4" height="3.31" fill="#8aa6b6"/>
<rect x="1210.8" y="104.5" width="82.4" height="3.31" fill="#86a4b6"/>
<rect x="1210.8" y="107.41" width="82.4" height="3.31" fill="#8ea9b6"/>
<rect x="1210.8" y="110.32" width="82.4" height="3.31" fill="#91acb6"/>
<rect x="1210.8" y="113.23" width="82.4" height="3.31" fill="#8fabb6"/>
<rect x="1210.8" y="116.14" width="82.4" height="3.31" fill="#8da9b6"/>
<rect x="1210.8" y="119.05" width="82.4" height="3.31" fill="#94aeb6"/>
<rect x="1210.8" y="121.96" width="82.4" height="3.31" fill="#c0ceb4"/>
<rect x="1210.8" y="124.87" width="82.4" height="3.31" fill="#b6c7b5"/>
<rect x="1210.8" y="127.78" width="82.4" height="3.31" fill="#c9d5b4"/>
<rect x="1210.8" y="130.69" width="82.4" height="3.31" fill="#b5c6b5"/>
<rect x="1210.8" y="133.61" width="82.4" height="3.31" fill="#bacab4"/>
<rect x="1210.8" y="136.52" width="82.4" height="6.22" fill="#b3c5b5"/>
<rect x="1210.8" y="142.34" width="82.4" height="3.31" fill="#b7c8b5"/>
<rect x="1210.8" y="145.25" width="82.4" height="3.31" fill="#c2cfb4"/>
<rect x="1210.8" y="148.16" width="82.4" height="3.31" fill="#c4d1b4"/>
<rect x="1210.8" y="151.07" width="82.4" height="3.31" fill="#b4c6b5"/>
<rect x="1210.8" y="153.98" width="82.4" height="3.31" fill="#acbfb5"/>
<rect x="1210.8" y="156.89" width="82.4" height="3.31" fill="#b8c8b5"/>
<rect x="1210.8" y="159.8" width="82.4" height="3.31" fill="#b2c4b5"/>
<rect x="1210.8" y="162.71" width="82.4" height="3.31" fill="#aec1b5"/>
<rect x="1210.8" y="165.62" width="82.4" height="3.31" fill="#84a2b6"/>
<rect x="1210.8" y="168.53" width="82.4" height="3.31" fill="#92acb6"/>
<rect x="1210.8" y="171.44" width="82.4" height="3.31" fill="#96afb6"/>
<rect x="1210.8" y="174.35" width="82.4" height="3.31" fill="#9bb3b5"/>
<rect x="1210.8" y="177.27" width="82.4" height="6.22" fill="#92adb6"/>
<rect x="1210.8" y="183.09" width="82.4" height="3.31" fill="#8ca8b6"/>
<rect x="1210.8" y="186" width="82.4" height="3.31" fill="#93adb6"/>
<rect x="1210.8" y="188.91" width="82.4" height="3.31" fill="#9ab3b6"/>
<rect x="1210.8" y="191.82" width="82.4" height="3.31" fill="#92adb6"/>
<rect x="1210.8" y="194.73" width="82.4" height="3.31" fill="#cfd9b6"/>
<rect x="1210.8" y="197.64" width="82.4" height="3.31" fill="#d0dab6"/>
<rect x="1210.8" y="200.55" width="82.4" height="3.31" fill="#fbf8be"/>
<rect x="1210.8" y="203.46" width="82.4" height="3.31" fill="#e9ecbd"/>
<rect x="1210.8" y="206.37" width="82.4" height="3.31" fill="#f9f7be"/>
<rect x="1210.8" y="209.28" width="82.4" height="3.31" fill="#f7f5be"/>
<rect x="1210.8" y="212.19" width="82.4" height="3.31" fill="#f1f2be"/>
<rect x="1210.8" y="215.1" width="82.4" height="3.31" fill="#f6f5be"/>
<rect x="1210.8" y="218.01" width="82.4" height="3.31" fill="#f8f6be"/>
<rect x="1210.8" y="220.93" width="82.4" height="3.31" fill="#faf0b5"/>
<rect x="1210.8" y="223.84" width="82.4" height="3.31" fill="#d8e0b8"/>
<rect x="1210.8" y="226.75" width="82.4" height="3.31" fill="#e2e7bb"/>
<rect x="1210.8" y="229.66" width="82.4" height="3.31" fill="#ebeebd"/>
<rect x="1210.8" y="232.57" width="82.4" height="3.31" fill="#f0f1be"/>
<rect x="1210.8" y="235.48" width="82.4" height="3.31" fill="#e4e8bb"/>
<rect x="1210.8" y="238.39" width="82.4" height="3.31" fill="#d8e0b8"/>
<rect x="1210.8" y="241.3" width="82.4" height="3.31" fill="#5e86b4"/>
<rect x="1210.8" y="244.21" width="82.4" height="3.31" fill="#5c85b4"/>
<rect x="1210.8" y="247.12" width="82.4" height="3.31" fill="#5b85b4"/>
<rect x="1210.8" y="250.03" width="82.4" height="3.31" fill="#6289b4"/>
<rect x="1210.8" y="252.94" width="82.4" height="3.31" fill="#5c85b4"/>
<rect x="1210.8" y="255.85" width="82.4" height="3.31" fill="#4f7cb3"/>
<rect x="1210.8" y="258.76" width="82.4" height="3.31" fill="#6c91b5"/>
<rect x="1210.8" y="261.67" width="82.4" height="3.31" fill="#658bb4"/>
<rect x="1210.8" y="264.59" width="82.4" height="3.31" fill="#7195b5"/>
<rect x="1210.8" y="267.5" width="82.4" height="3.31" fill="#7597b5"/>
<rect x="1210.8" y="270.41" width="82.4" height="3.31" fill="#7295b5"/>
<rect x="1210.8" y="273.32" width="82.4" height="3.31" fill="#7396b5"/>
<rect x="1210.8" y="276.23" width="82.4" height="3.31" fill="#799ab5"/>
<rect x="1210.8" y="279.14" width="82.4" height="3.31" fill="#7899b5"/>
<rect x="1210.8" y="282.05" width="82.4" height="3.31" fill="#7f9fb5"/>
<rect x="1210.8" y="284.96" width="82.4" height="3.31" fill="#7a9bb5"/>
<rect x="1210.8" y="287.87" width="82.4" height="3.31" fill="#7f9eb5"/>
<rect x="1210.8" y="290.78" width="82.4" height="3.31" fill="#84a2b6"/>
<rect x="1210.8" y="293.69" width="82.4" height="3.31" fill="#88a5b6"/>
<rect x="1210.8" y="296.6" width="82.4" height="3.31" fill="#7b9cb5"/>
<rect x="1210.8" y="299.51" width="82.4" height="3.31" fill="#7e9eb5"/>
<rect x="1210.8" y="302.42" width="82.4" height="3.31" fill="#6f92b5"/>
<rect x="1210.8" y="305.33" width="82.4" height="3.31" fill="#6b90b5"/>
<rect x="1210.8" y="308.25" width="82.4" height="3.31" fill="#638ab4"/>
<rect x="1210.8" y="311.16" width="82.4" height="3.31" fill="#7295b5"/>
<rect x="1210.8" y="314.07" width="82.4" height="3.31" fill="#6c91b5"/>
<rect x="1210.8" y="316.98" width="82.4" height="3.31" fill="#7094b5"/>
<rect x="1210.8" y="319.89" width="82.4" height="3.31" fill="#7194b5"/>
<rect x="1210.8" y="322.8" width="82.4" height="3.31" fill="#7396b5"/>
<rect x="1210.8" y="325.71" width="82.4" height="3.31" fill="#7094b5"/>
<rect x="1210.8" y="328.62" width="82.4" height="3.31" fill="#658cb4"/>
<rect x="1210.8" y="331.53" width="82.4" height="3.31" fill="#7194b5"/>
<rect x="1210.8" y="334.44" width="82.4" height="6.22" fill="#6d91b5"/>
<rect x="1210.8" y="340.26" width="82.4" height="3.31" fill="#7094b5"/>
<rect x="1210.8" y="343.17" width="82.4" height="3.31" fill="#6b90b5"/>
<rect x="1210.8" y="346.08" width="82.4" height="3.31" fill="#6188b4"/>
<rect x="1210.8" y="348.99" width="82.4" height="3.31" fill="#4d7bb3"/>
<rect x="1210.8" y="351.91" width="82.4" height="3.31" fill="#5580b3"/>
<rect x="1210.8" y="354.82" width="82.4" height="6.22" fill="#4c7ab3"/>
<rect x="1210.8" y="360.64" width="82.4" height="3.31" fill="#5480b3"/>
<rect x="1210.8" y="363.55" width="82.4" height="3.31" fill="#5782b4"/>
<rect x="1210.8" y="366.46" width="82.4" height="3.31" fill="#5580b3"/>
<rect x="1210.8" y="369.37" width="82.4" height="3.31" fill="#7597b5"/>
<rect x="1210.8" y="372.28" width="82.4" height="3.31" fill="#7396b5"/>
<rect x="1210.8" y="375.19" width="82.4" height="3.31" fill="#698fb4"/>
<rect x="1210.8" y="378.1" width="82.4" height="3.31" fill="#6289b4"/>
<rect x="1210.8" y="381.01" width="82.4" height="3.31" fill="#638ab4"/>
<rect x="1210.8" y="383.92" width="82.4" height="3.31" fill="#6e92b5"/>
<rect x="1210.8" y="386.83" width="82.4" height="3.31" fill="#6a8fb5"/>
<rect x="1210.8" y="389.74" width="82.4" height="3.31" fill="#668cb4"/>
<rect x="1210.8" y="392.65" width="82.4" height="3.31" fill="#658bb4"/>
<rect x="1210.8" y="395.57" width="82.4" height="3.31" fill="#5f87b4"/>
<rect x="1210.8" y="398.48" width="82.4" height="3.31" fill="#658cb4"/>
<rect x="1210.8" y="401.39" width="82.4" height="3.31" fill="#6289b4"/>
<rect x="1210.8" y="404.3" width="82.4" height="3.31" fill="#6a8fb4"/>
<rect x="1210.8" y="407.21" width="82.4" height="3.31" fill="#5d86b4"/>
<rect x="1210.8" y="410.12" width="82.4" height="3.31" fill="#678db4"/>
<rect x="1210.8" y="413.03" width="82.4" height="3.31" fill="#668cb4"/>
<rect x="1210.8" y="415.94" width="82.4" height="3.31" fill="#5e86b4"/>
<rect x="1210.8" y="418.85" width="82.4" height="3.31" fill="#698fb4"/>
<rect x="1210.8" y="421.76" width="82.4" height="3.31" fill="#6a8fb4"/>
<rect x="1210.8" y="424.67" width="82.4" height="3.31" fill="#7396b5"/>
<rect x="1210.8" y="427.58" width="82.4" height="3.31" fill="#7798b5"/>
<rect x="1210.8" y="430.49" width="82.4" height="3.31" fill="#87a5b6"/>
<rect x="1210.8" y="433.4" width="82.4" height="3.31" fill="#87a4b6"/>
<rect x="1210.8" y="436.31" width="82.4" height="3.31" fill="#94aeb6"/>
<rect x="1210.8" y="439.23" width="82.4" height="3.31" fill="#9bb3b6"/>
<rect x="1210.8" y="442.14" width="82.4" height="3.31" fill="#9eb5b5"/>
<rect x="1210.8" y="445.05" width="82.4" height="3.31" fill="#9cb3b5"/>
<rect x="1210.8" y="447.96" width="82.4" height="3.31" fill="#a5bab5"/>
<rect x="1210.8" y="450.87" width="82.4" height="3.31" fill="#b5c6b5"/>
<rect x="1210.8" y="453.78" width="82.4" height="3.31" fill="#b2c4b5"/>
<rect x="1210.8" y="456.69" width="82.4" height="2.91" fill="#97b0b6"/>
<rect x="1292.8" y="23" width="82.3" height="3.31" fill="#3f71b2"/>
<rect x="1292.8" y="25.91" width="82.3" height="3.31" fill="#4072b2"/>
<rect x="1292.8" y="28.82" width="82.3" height="3.31" fill="#3c6fb2"/>
<rect x="1292.8" y="31.73" width="82.3" height="3.31" fill="#3a6eb2"/>
<rect x="1292.8" y="34.64" width="82.3" height="3.31" fill="#97b0b6"/>
<rect x="1292.8" y="37.55" width="82.3" height="3.31" fill="#8da9b6"/>
<rect x="1292.8" y="40.46" width="82.3" height="3.31" fill="#90abb6"/>
<rect x="1292.8" y="43.37" width="82.3" height="3.31" fill="#99b2b6"/>
<rect x="1292.8" y="46.29" width="82.3" height="3.31" fill="#91acb6"/>
<rect x="1292.8" y="49.2" width="82.3" height="3.31" fill="#93adb6"/>
<rect x="1292.8" y="52.11" width="82.3" height="3.31" fill="#99b2b6"/>
<rect x="1292.8" y="55.02" width="82.3" height="6.22" fill="#94aeb6"/>
<rect x="1292.8" y="60.84" width="82.3" height="3.31" fill="#96afb6"/>
<rect x="1292.8" y="63.75" width="82.3" height="3.31" fill="#8fabb6"/>
<rect x="1292.8" y="66.66" width="82.3" height="3.31" fill="#8faab6"/>
<rect x="1292.8" y="69.57" width="82.3" height="3.31" fill="#91abb6"/>
<rect x="1292.8" y="72.48" width="82.3" height="3.31" fill="#93adb6"/>
<rect x="1292.8" y="75.39" width="82.3" height="3.31" fill="#92acb6"/>
<rect x="1292.8" y="78.3" width="82.3" height="3.31" fill="#96afb6"/>
<rect x="1292.8" y="81.21" width="82.3" height="6.22" fill="#92acb6"/>
<rect x="1292.8" y="87.03" width="82.3" height="6.22" fill="#97b0b6"/>
<rect x="1292.8" y="92.86" width="82.3" height="3.31" fill="#9bb3b6"/>
<rect x="1292.8" y="95.77" width="82.3" height="3.31" fill="#98b1b6"/>
<rect x="1292.8" y="98.68" width="82.3" height="3.31" fill="#a8bdb5"/>
<rect x="1292.8" y="101.59" width="82.3" height="3.31" fill="#a9bdb5"/>
<rect x="1292.8" y="104.5" width="82.3" height="3.31" fill="#a7bcb5"/>
<rect x="1292.8" y="107.41" width="82.3" height="3.31" fill="#85a3b6"/>
<rect x="1292.8" y="110.32" width="82.3" height="3.31" fill="#8da9b6"/>
<rect x="1292.8" y="113.23" width="82.3" height="3.31" fill="#90abb6"/>
<rect x="1292.8" y="116.14" width="82.3" height="3.31" fill="#98b1b6"/>
<rect x="1292.8" y="119.05" width="82.3" height="3.31" fill="#96afb6"/>
<rect x="1292.8" y="121.96" width="82.3" height="3.31" fill="#799ab5"/>
<rect x="1292.8" y="124.87" width="82.3" height="3.31" fill="#7a9bb5"/>
<rect x="1292.8" y="127.78" width="82.3" height="3.31" fill="#6e92b5"/>
<rect x="1292.8" y="130.69" width="82.3" height="3.31" fill="#7798b5"/>
<rect x="1292.8" y="133.61" width="82.3" height="3.31" fill="#7899b5"/>
<rect x="1292.8" y="136.52" width="82.3" height="3.31" fill="#7396b5"/>
<rect x="1292.8" y="139.43" width="82.3" height="3.31" fill="#7b9bb5"/>
<rect x="1292.8" y="142.34" width="82.3" height="3.31" fill="#82a0b6"/>
<rect x="1292.8" y="145.25" width="82.3" height="3.31" fill="#7597b5"/>
<rect x="1292.8" y="148.16" width="82.3" height="3.31" fill="#7194b5"/>
<rect x="1292.8" y="151.07" width="82.3" height="3.31" fill="#7597b5"/>
<rect x="1292.8" y="153.98" width="82.3" height="3.31" fill="#7698b5"/>
<rect x="1292.8" y="156.89" width="82.3" height="3.31" fill="#7396b5"/>
<rect x="1292.8" y="159.8" width="82.3" height="3.31" fill="#6e92b5"/>
<rect x="1292.8" y="162.71" width="82.3" height="3.31" fill="#7f9eb5"/>
<rect x="1292.8" y="165.62" width="82.3" height="3.31" fill="#95afb6"/>
<rect x="1292.8" y="168.53" width="82.3" height="3.31" fill="#8ba7b6"/>
<rect x="1292.8" y="171.44" width="82.3" height="3.31" fill="#83a1b6"/>
<rect x="1292.8" y="174.35" width="82.3" height="3.31" fill="#91abb6"/>
<rect x="1292.8" y="177.27" width="82.3" height="3.31" fill="#93adb6"/>
<rect x="1292.8" y="180.18" width="82.3" height="3.31" fill="#99b2b6"/>
<rect x="1292.8" y="183.09" width="82.3" height="3.31" fill="#97b0b6"/>
<rect x="1292.8" y="186" width="82.3" height="3.31" fill="#8ea9b6"/>
<rect x="1292.8" y="188.91" width="82.3" height="3.31" fill="#8eaab6"/>
<rect x="1292.8" y="191.82" width="82.3" height="3.31" fill="#809fb5"/>
<rect x="1292.8" y="194.73" width="82.3" height="3.31" fill="#5c85b4"/>
<rect x="1292.8" y="197.64" width="82.3" height="3.31" fill="#6088b4"/>
<rect x="1292.8" y="200.55" width="82.3" height="3.31" fill="#4676b3"/>
<rect x="1292.8" y="203.46" width="82.3" height="3.31" fill="#4274b2"/>
<rect x="1292.8" y="206.37" width="82.3" height="3.31" fill="#4474b3"/>
<rect x="1292.8" y="209.28" width="82.3" height="3.31" fill="#4777b3"/>
<rect x="1292.8" y="212.19" width="82.3" height="3.31" fill="#4978b3"/>
<rect x="1292.8" y="215.1" width="82.3" height="3.31" fill="#4b79b3"/>
<rect x="1292.8" y="218.01" width="82.3" height="3.31" fill="#4a79b3"/>
<rect x="1292.8" y="220.93" width="82.3" height="3.31" fill="#4777b3"/>
<rect x="1292.8" y="223.84" width="82.3" height="3.31" fill="#5d86b4"/>
<rect x="1292.8" y="226.75" width="82.3" height="3.31" fill="#5b85b4"/>
<rect x="1292.8" y="229.66" width="82.3" height="3.31" fill="#5681b4"/>
<rect x="1292.8" y="232.57" width="82.3" height="3.31" fill="#5480b3"/>
<rect x="1292.8" y="235.48" width="82.3" height="3.31" fill="#5681b4"/>
<rect x="1292.8" y="238.39" width="82.3" height="3.31" fill="#5781b4"/>
<rect x="1292.8" y="241.3" width="82.3" height="6.22" fill="#cdd8b5"/>
<rect x="1292.8" y="247.12" width="82.3" height="3.31" fill="#ced9b6"/>
<rect x="1292.8" y="250.03" width="82.3" height="3.31" fill="#cdd8b5"/>
<rect x="1292.8" y="252.94" width="82.3" height="3.31" fill="#c8d4b4"/>
<rect x="1292.8" y="255.85" width="82.3" height="3.31" fill="#ccd7b5"/>
<rect x="1292.8" y="258.76" width="82.3" height="3.31" fill="#aec1b5"/>
<rect x="1292.8" y="261.67" width="82.3" height="3.31" fill="#afc1b5"/>
<rect x="1292.8" y="264.59" width="82.3" height="3.31" fill="#acbfb5"/>
<rect x="1292.8" y="267.5" width="82.3" height="3.31" fill="#adc0b5"/>
<rect x="1292.8" y="270.41" width="82.3" height="3.31" fill="#a7bcb5"/>
<rect x="1292.8" y="273.32" width="82.3" height="3.31" fill="#9fb6b5"/>
<rect x="1292.8" y="276.23" width="82.3" height="3.31" fill="#a4bab5"/>
<rect x="1292.8" y="279.14" width="82.3" height="3.31" fill="#a2b8b5"/>
<rect x="1292.8" y="282.05" width="82.3" height="3.31" fill="#a9beb5"/>
<rect x="1292.8" y="284.96" width="82.3" height="3.31" fill="#a4bab5"/>
<rect x="1292.8" y="287.87" width="82.3" height="3.31" fill="#9ab2b6"/>
<rect x="1292.8" y="290.78" width="82.3" height="3.31" fill="#9cb4b5"/>
<rect x="1292.8" y="293.69" width="82.3" height="3.31" fill="#aabeb5"/>
<rect x="1292.8" y="296.6" width="82.3" height="3.31" fill="#a8bdb5"/>
<rect x="1292.8" y="299.51" width="82.3" height="6.22" fill="#a2b8b5"/>
<rect x="1292.8" y="305.33" width="82.3" height="3.31" fill="#a8bdb5"/>
<rect x="1292.8" y="308.25" width="82.3" height="3.31" fill="#abbfb5"/>
<rect x="1292.8" y="311.16" width="82.3" height="3.31" fill="#acbfb5"/>
<rect x="1292.8" y="314.07" width="82.3" height="6.22" fill="#b2c4b5"/>
<rect x="1292.8" y="319.89" width="82.3" height="3.31" fill="#aec1b5"/>
<rect x="1292.8" y="322.8" width="82.3" height="3.31" fill="#afc2b5"/>
<rect x="1292.8" y="325.71" width="82.3" height="3.31" fill="#b5c6b5"/>
<rect x="1292.8" y="328.62" width="82.3" height="6.22" fill="#c7d3b4"/>
<rect x="1292.8" y="334.44" width="82.3" height="3.31" fill="#bdccb4"/>
<rect x="1292.8" y="337.35" width="82.3" height="3.31" fill="#bccbb4"/>
<rect x="1292.8" y="340.26" width="82.3" height="3.31" fill="#bfceb4"/>
<rect x="1292.8" y="343.17" width="82.3" height="3.31" fill="#bcccb4"/>
<rect x="1292.8" y="346.08" width="82.3" height="3.31" fill="#c2cfb4"/>
<rect x="1292.8" y="348.99" width="82.3" height="3.31" fill="#e9ecbd"/>
<rect x="1292.8" y="351.91" width="82.3" height="3.31" fill="#eaedbd"/>
<rect x="1292.8" y="354.82" width="82.3" height="3.31" fill="#e6eabc"/>
<rect x="1292.8" y="357.73" width="82.3" height="6.22" fill="#f0f1be"/>
<rect x="1292.8" y="363.55" width="82.3" height="3.31" fill="#e9ecbd"/>
<rect x="1292.8" y="366.46" width="82.3" height="3.31" fill="#e7ebbc"/>
<rect x="1292.8" y="369.37" width="82.3" height="3.31" fill="#bfceb4"/>
<rect x="1292.8" y="372.28" width="82.3" height="3.31" fill="#b7c7b5"/>
<rect x="1292.8" y="375.19" width="82.3" height="3.31" fill="#b8c8b5"/>
<rect x="1292.8" y="378.1" width="82.3" height="3.31" fill="#b9c9b4"/>
<rect x="1292.8" y="381.01" width="82.3" height="3.31" fill="#b5c6b5"/>
<rect x="1292.8" y="383.92" width="82.3" height="3.31" fill="#adc0b5"/>
<rect x="1292.8" y="386.83" width="82.3" height="3.31" fill="#afc2b5"/>
<rect x="1292.8" y="389.74" width="82.3" height="3.31" fill="#b1c3b5"/>
<rect x="1292.8" y="392.65" width="82.3" height="3.31" fill="#b6c7b5"/>
<rect x="1292.8" y="395.57" width="82.3" height="3.31" fill="#b7c8b5"/>
<rect x="1292.8" y="398.48" width="82.3" height="3.31" fill="#b4c5b5"/>
<rect x="1292.8" y="401.39" width="82.3" height="3.31" fill="#b7c7b5"/>
<rect x="1292.8" y="404.3" width="82.3" height="3.31" fill="#b6c7b5"/>
<rect x="1292.8" y="407.21" width="82.3" height="3.31" fill="#b5c6b5"/>
<rect x="1292.8" y="410.12" width="82.3" height="3.31" fill="#b3c4b5"/>
<rect x="1292.8" y="413.03" width="82.3" height="3.31" fill="#b0c3b5"/>
<rect x="1292.8" y="415.94" width="82.3" height="3.31" fill="#b4c5b5"/>
<rect x="1292.8" y="418.85" width="82.3" height="3.31" fill="#adc0b5"/>
<rect x="1292.8" y="421.76" width="82.3" height="3.31" fill="#abbfb5"/>
<rect x="1292.8" y="424.67" width="82.3" height="3.31" fill="#99b1b6"/>
<rect x="1292.8" y="427.58" width="82.3" height="3.31" fill="#8ca8b6"/>
<rect x="1292.8" y="430.49" width="82.3" height="3.31" fill="#90abb6"/>
<rect x="1292.8" y="433.4" width="82.3" height="3.31" fill="#809fb5"/>
<rect x="1292.8" y="436.31" width="82.3" height="3.31" fill="#87a4b6"/>
<rect x="1292.8" y="439.23" width="82.3" height="3.31" fill="#98b0b6"/>
<rect x="1292.8" y="442.14" width="82.3" height="3.31" fill="#a0b7b5"/>
<rect x="1292.8" y="445.05" width="82.3" height="3.31" fill="#9fb6b5"/>
<rect x="1292.8" y="447.96" width="82.3" height="3.31" fill="#9cb4b5"/>
<rect x="1292.8" y="450.87" width="82.3" height="3.31" fill="#b9c9b5"/>
<rect x="1292.8" y="453.78" width="82.3" height="3.31" fill="#d1dbb6"/>
<rect x="1292.8" y="456.69" width="82.3" height="2.91" fill="#d2dbb7"/>
<rect x="1374.7" y="23" width="82.2" height="3.31" fill="#f3c28d"/>
<rect x="1374.7" y="25.91" width="82.2" height="6.22" fill="#f6d89c"/>
<rect x="1374.7" y="31.73" width="82.2" height="3.31" fill="#f8e4a9"/>
<rect x="1374.7" y="34.64" width="82.2" height="3.31" fill="#eb8f68"/>
<rect x="1374.7" y="37.55" width="82.2" height="3.31" fill="#ea8964"/>
<rect x="1374.7" y="40.46" width="82.2" height="3.31" fill="#ec966e"/>
<rect x="1374.7" y="43.37" width="82.2" height="3.31" fill="#eb936b"/>
<rect x="1374.7" y="46.29" width="82.2" height="3.31" fill="#ea8d66"/>
<rect x="1374.7" y="49.2" width="82.2" height="3.31" fill="#ec976f"/>
<rect x="1374.7" y="52.11" width="82.2" height="3.31" fill="#ee9e74"/>
<rect x="1374.7" y="55.02" width="82.2" height="3.31" fill="#ed9d73"/>
<rect x="1374.7" y="57.93" width="82.2" height="3.31" fill="#ed9a70"/>
<rect x="1374.7" y="60.84" width="82.2" height="3.31" fill="#ed9d73"/>
<rect x="1374.7" y="63.75" width="82.2" height="3.31" fill="#ec966d"/>
<rect x="1374.7" y="66.66" width="82.2" height="3.31" fill="#eb9069"/>
<rect x="1374.7" y="69.57" width="82.2" height="3.31" fill="#ea8b65"/>
<rect x="1374.7" y="72.48" width="82.2" height="3.31" fill="#e98863"/>
<rect x="1374.7" y="75.39" width="82.2" height="3.31" fill="#e8825e"/>
<rect x="1374.7" y="78.3" width="82.2" height="3.31" fill="#ed9a70"/>
<rect x="1374.7" y="81.21" width="82.2" height="3.31" fill="#f0a87b"/>
<rect x="1374.7" y="84.12" width="82.2" height="3.31" fill="#f0aa7d"/>
<rect x="1374.7" y="87.03" width="82.2" height="3.31" fill="#f1b081"/>
<rect x="1374.7" y="89.95" width="82.2" height="3.31" fill="#f1b383"/>
<rect x="1374.7" y="92.86" width="82.2" height="3.31" fill="#f1ae80"/>
<rect x="1374.7" y="95.77" width="82.2" height="3.31" fill="#f0ab7d"/>
<rect x="1374.7" y="98.68" width="82.2" height="3.31" fill="#efa67a"/>
<rect x="1374.7" y="101.59" width="82.2" height="3.31" fill="#f1b181"/>
<rect x="1374.7" y="104.5" width="82.2" height="3.31" fill="#f1b484"/>
<rect x="1374.7" y="107.41" width="82.2" height="3.31" fill="#f0ab7e"/>
<rect x="1374.7" y="110.32" width="82.2" height="6.22" fill="#f0a97c"/>
<rect x="1374.7" y="116.14" width="82.2" height="3.31" fill="#efa77b"/>
<rect x="1374.7" y="119.05" width="82.2" height="3.31" fill="#f0aa7d"/>
<rect x="1374.7" y="121.96" width="82.2" height="3.31" fill="#ea8d66"/>
<rect x="1374.7" y="124.87" width="82.2" height="3.31" fill="#ea8a65"/>
<rect x="1374.7" y="127.78" width="82.2" height="3.31" fill="#ea8c66"/>
<rect x="1374.7" y="130.69" width="82.2" height="3.31" fill="#eb926a"/>
<rect x="1374.7" y="133.61" width="82.2" height="3.31" fill="#eb916a"/>
<rect x="1374.7" y="136.52" width="82.2" height="3.31" fill="#efa378"/>
<rect x="1374.7" y="139.43" width="82.2" height="3.31" fill="#eea075"/>
<rect x="1374.7" y="142.34" width="82.2" height="3.31" fill="#ec986f"/>
<rect x="1374.7" y="145.25" width="82.2" height="3.31" fill="#f2b887"/>
<rect x="1374.7" y="148.16" width="82.2" height="3.31" fill="#f1af80"/>
<rect x="1374.7" y="151.07" width="82.2" height="3.31" fill="#f0aa7d"/>
<rect x="1374.7" y="153.98" width="82.2" height="3.31" fill="#f1b383"/>
<rect x="1374.7" y="156.89" width="82.2" height="3.31" fill="#f1b081"/>
<rect x="1374.7" y="159.8" width="82.2" height="3.31" fill="#f1ae80"/>
<rect x="1374.7" y="162.71" width="82.2" height="3.31" fill="#f0a87b"/>
<rect x="1374.7" y="165.62" width="82.2" height="3.31" fill="#e67554"/>
<rect x="1374.7" y="168.53" width="82.2" height="3.31" fill="#e67655"/>
<rect x="1374.7" y="171.44" width="82.2" height="3.31" fill="#e77c5a"/>
<rect x="1374.7" y="174.35" width="82.2" height="3.31" fill="#e77b59"/>
<rect x="1374.7" y="177.27" width="82.2" height="3.31" fill="#e77a58"/>
<rect x="1374.7" y="180.18" width="82.2" height="6.22" fill="#e67554"/>
<rect x="1374.7" y="186" width="82.2" height="3.31" fill="#e77a58"/>
<rect x="1374.7" y="188.91" width="82.2" height="3.31" fill="#e8815e"/>
<rect x="1374.7" y="191.82" width="82.2" height="3.31" fill="#e87f5c"/>
<rect x="1374.7" y="194.73" width="82.2" height="3.31" fill="#f7dea3"/>
<rect x="1374.7" y="197.64" width="82.2" height="3.31" fill="#f7e0a5"/>
<rect x="1374.7" y="200.55" width="82.2" height="6.22" fill="#f4c891"/>
<rect x="1374.7" y="206.37" width="82.2" height="3.31" fill="#f3c08c"/>
<rect x="1374.7" y="209.28" width="82.2" height="3.31" fill="#f2b685"/>
<rect x="1374.7" y="212.19" width="82.2" height="3.31" fill="#f2bd8a"/>
<rect x="1374.7" y="215.1" width="82.2" height="3.31" fill="#ee9e74"/>
<rect x="1374.7" y="218.01" width="82.2" height="3.31" fill="#f1ae80"/>
<rect x="1374.7" y="220.93" width="82.2" height="6.22" fill="#efa579"/>
<rect x="1374.7" y="226.75" width="82.2" height="3.31" fill="#ee9d73"/>
<rect x="1374.7" y="229.66" width="82.2" height="3.31" fill="#f3c48f"/>
<rect x="1374.7" y="232.57" width="82.2" height="3.31" fill="#f4c690"/>
<rect x="1374.7" y="235.48" width="82.2" height="3.31" fill="#f2b987"/>
<rect x="1374.7" y="238.39" width="82.2" height="3.31" fill="#f1ae80"/>
<rect x="1374.7" y="241.3" width="82.2" height="3.31" fill="#eb9069"/>
<rect x="1374.7" y="244.21" width="82.2" height="3.31" fill="#ec956c"/>
<rect x="1374.7" y="247.12" width="82.2" height="3.31" fill="#eb916a"/>
<rect x="1374.7" y="250.03" width="82.2" height="3.31" fill="#ec936b"/>
<rect x="1374.7" y="252.94" width="82.2" height="3.31" fill="#eb926b"/>
<rect x="1374.7" y="255.85" width="82.2" height="3.31" fill="#ec956d"/>
<rect x="1374.7" y="258.76" width="82.2" height="3.31" fill="#e8835f"/>
<rect x="1374.7" y="261.67" width="82.2" height="3.31" fill="#e8825e"/>
<rect x="1374.7" y="264.59" width="82.2" height="3.31" fill="#ea8964"/>
<rect x="1374.7" y="267.5" width="82.2" height="3.31" fill="#e8825e"/>
<rect x="1374.7" y="270.41" width="82.2" height="3.31" fill="#ea8963"/>
<rect x="1374.7" y="273.32" width="82.2" height="3.31" fill="#e98762"/>
<rect x="1374.7" y="276.23" width="82.2" height="3.31" fill="#e77c5a"/>
<rect x="1374.7" y="279.14" width="82.2" height="3.31" fill="#e8825e"/>
<rect x="1374.7" y="282.05" width="82.2" height="3.31" fill="#e98460"/>
<rect x="1374.7" y="284.96" width="82.2" height="3.31" fill="#e87f5c"/>
<rect x="1374.7" y="287.87" width="82.2" height="3.31" fill="#e8825e"/>
<rect x="1374.7" y="290.78" width="82.2" height="3.31" fill="#e98863"/>
<rect x="1374.7" y="293.69" width="82.2" height="3.31" fill="#e98661"/>
<rect x="1374.7" y="296.6" width="82.2" height="3.31" fill="#e9835f"/>
<rect x="1374.7" y="299.51" width="82.2" height="3.31" fill="#e8815e"/>
<rect x="1374.7" y="302.42" width="82.2" height="3.31" fill="#e98762"/>
<rect x="1374.7" y="305.33" width="82.2" height="3.31" fill="#e87f5b"/>
<rect x="1374.7" y="308.25" width="82.2" height="3.31" fill="#e77a58"/>
<rect x="1374.7" y="311.16" width="82.2" height="3.31" fill="#e8805c"/>
<rect x="1374.7" y="314.07" width="82.2" height="3.31" fill="#e8815e"/>
<rect x="1374.7" y="316.98" width="82.2" height="3.31" fill="#e98661"/>
<rect x="1374.7" y="319.89" width="82.2" height="3.31" fill="#e87f5c"/>
<rect x="1374.7" y="322.8" width="82.2" height="3.31" fill="#e98661"/>
<rect x="1374.7" y="325.71" width="82.2" height="3.31" fill="#e8835f"/>
<rect x="1374.7" y="328.62" width="82.2" height="3.31" fill="#e98762"/>
<rect x="1374.7" y="331.53" width="82.2" height="3.31" fill="#ea8a64"/>
<rect x="1374.7" y="334.44" width="82.2" height="3.31" fill="#e98560"/>
<rect x="1374.7" y="337.35" width="82.2" height="3.31" fill="#e87f5c"/>
<rect x="1374.7" y="340.26" width="82.2" height="3.31" fill="#e8825e"/>
<rect x="1374.7" y="343.17" width="82.2" height="3.31" fill="#e98762"/>
<rect x="1374.7" y="346.08" width="82.2" height="3.31" fill="#e8835f"/>
<rect x="1374.7" y="348.99" width="82.2" height="3.31" fill="#f1af80"/>
<rect x="1374.7" y="351.91" width="82.2" height="3.31" fill="#f1ae80"/>
<rect x="1374.7" y="354.82" width="82.2" height="3.31" fill="#efa479"/>
<rect x="1374.7" y="357.73" width="82.2" height="3.31" fill="#eea277"/>
<rect x="1374.7" y="360.64" width="82.2" height="3.31" fill="#f0ad7f"/>
<rect x="1374.7" y="363.55" width="82.2" height="3.31" fill="#ee9e74"/>
<rect x="1374.7" y="366.46" width="82.2" height="3.31" fill="#efa77a"/>
<rect x="1374.7" y="369.37" width="82.2" height="3.31" fill="#ec986f"/>
<rect x="1374.7" y="372.28" width="82.2" height="3.31" fill="#eea176"/>
<rect x="1374.7" y="375.19" width="82.2" height="3.31" fill="#efa277"/>
<rect x="1374.7" y="378.1" width="82.2" height="3.31" fill="#f1af81"/>
<rect x="1374.7" y="381.01" width="82.2" height="3.31" fill="#ed9d73"/>
<rect x="1374.7" y="383.92" width="82.2" height="3.31" fill="#ec966d"/>
<rect x="1374.7" y="386.83" width="82.2" height="3.31" fill="#efa479"/>
<rect x="1374.7" y="389.74" width="82.2" height="3.31" fill="#f1af80"/>
<rect x="1374.7" y="392.65" width="82.2" height="3.31" fill="#f2b685"/>
<rect x="1374.7" y="395.57" width="82.2" height="3.31" fill="#efa479"/>
<rect x="1374.7" y="398.48" width="82.2" height="3.31" fill="#efa77b"/>
<rect x="1374.7" y="401.39" width="82.2" height="3.31" fill="#efa67a"/>
<rect x="1374.7" y="404.3" width="82.2" height="3.31" fill="#efa77a"/>
<rect x="1374.7" y="407.21" width="82.2" height="3.31" fill="#efa67a"/>
<rect x="1374.7" y="410.12" width="82.2" height="3.31" fill="#f0ac7f"/>
<rect x="1374.7" y="413.03" width="82.2" height="3.31" fill="#f0a87b"/>
<rect x="1374.7" y="415.94" width="82.2" height="3.31" fill="#f1b081"/>
<rect x="1374.7" y="418.85" width="82.2" height="3.31" fill="#f0ab7d"/>
<rect x="1374.7" y="421.76" width="82.2" height="3.31" fill="#efa579"/>
<rect x="1374.7" y="424.67" width="82.2" height="3.31" fill="#f3be8a"/>
<rect x="1374.7" y="427.58" width="82.2" height="3.31" fill="#f3c28d"/>
<rect x="1374.7" y="430.49" width="82.2" height="3.31" fill="#f4cb93"/>
<rect x="1374.7" y="433.4" width="82.2" height="3.31" fill="#f3c58f"/>
<rect x="1374.7" y="436.31" width="82.2" height="3.31" fill="#f4c891"/>
<rect x="1374.7" y="439.23" width="82.2" height="3.31" fill="#f1b584"/>
<rect x="1374.7" y="442.14" width="82.2" height="3.31" fill="#f1b283"/>
<rect x="1374.7" y="445.05" width="82.2" height="3.31" fill="#f2ba88"/>
<rect x="1374.7" y="447.96" width="82.2" height="3.31" fill="#f3c28d"/>
<rect x="1374.7" y="450.87" width="82.2" height="3.31" fill="#f9ecb1"/>
<rect x="1374.7" y="453.78" width="82.2" height="3.31" fill="#faefb5"/>
<rect x="1374.7" y="456.69" width="82.2" height="2.91" fill="#f9eeb3"/>
</g>
<linearGradient id="cbg1" x1="0" y1="0" x2="0" y2="1"><stop offset="0" stop-color="#d41d26"/><stop offset="0.03" stop-color="#d41e26"/><stop offset="0.05" stop-color="#d51e26"/><stop offset="0.07" stop-color="#d51f26"/><stop offset="0.1" stop-color="#d52026"/><stop offset="0.12" stop-color="#d72928"/><stop offset="0.15" stop-color="#da372b"/><stop offset="0.17" stop-color="#de442f"/><stop offset="0.2" stop-color="#e05037"/><stop offset="0.23" stop-color="#e15b40"/><stop offset="0.25" stop-color="#e36649"/><stop offset="0.28" stop-color="#e57252"/><stop offset="0.3" stop-color="#e8815e"/><stop offset="0.33" stop-color="#eb9069"/><stop offset="0.35" stop-color="#ee9f75"/><stop offset="0.38" stop-color="#f1af80"/><stop offset="0.4" stop-color="#f3bf8b"/><stop offset="0.42" stop-color="#f5cf96"/><stop offset="0.45" stop-color="#f7dda2"/><stop offset="0.47" stop-color="#f9e9ae"/><stop offset="0.5" stop-color="#faf4ba"/><stop offset="0.53" stop-color="#f5f4be"/><stop offset="0.55" stop-color="#ebeebd"/><stop offset="0.57" stop-color="#e0e6ba"/><stop offset="0.6" stop-color="#d4ddb7"/><stop offset="0.62" stop-color="#c9d5b4"/><stop offset="0.65" stop-color="#bccbb4"/><stop offset="0.68" stop-color="#afc2b5"/><stop offset="0.7" stop-color="#a3b9b5"/><stop offset="0.72" stop-color="#96afb6"/><stop offset="0.75" stop-color="#89a5b6"/><stop offset="0.78" stop-color="#799ab5"/><stop offset="0.8" stop-color="#698eb4"/><stop offset="0.82" stop-color="#5a84b4"/><stop offset="0.85" stop-color="#4d7bb3"/><stop offset="0.88" stop-color="#4072b2"/><stop offset="0.9" stop-color="#396db2"/><stop offset="0.93" stop-color="#396db2"/><stop offset="0.95" stop-color="#386cb1"/><stop offset="0.97" stop-color="#376bb1"/><stop offset="1" stop-color="#366ab1"/></linearGradient>
<rect x="1471.2" y="139.9" width="18.6" height="248.8" fill="url(#cbg1)"/>
<line x1="1471.5" y1="149.2" x2="1489.8" y2="149.2" stroke="#ffffff" stroke-opacity="0.8" stroke-width="1.5" stroke-dasharray="6 6.3"/>
<text x="1502.2" y="157.5" font-size="23" textLength="13.81" lengthAdjust="spacingAndGlyphs">2</text>
<line x1="1471.5" y1="207.85" x2="1489.8" y2="207.85" stroke="#ffffff" stroke-opacity="0.8" stroke-width="1.5" stroke-dasharray="6 6.3"/>
<text x="1502.2" y="216.15" font-size="23" textLength="13.81" lengthAdjust="spacingAndGlyphs">1</text>
<line x1="1471.5" y1="266.5" x2="1489.8" y2="266.5" stroke="#ffffff" stroke-opacity="0.8" stroke-width="1.5" stroke-dasharray="6 6.3"/>
<text x="1502.2" y="274.8" font-size="23" textLength="13.81" lengthAdjust="spacingAndGlyphs">0</text>
<line x1="1471.5" y1="325.15" x2="1489.8" y2="325.15" stroke="#ffffff" stroke-opacity="0.8" stroke-width="1.5" stroke-dasharray="6 6.3"/>
<text x="1502.2" y="333.45" font-size="23" textLength="24.91" lengthAdjust="spacingAndGlyphs">−1</text>
<line x1="1471.5" y1="383.8" x2="1489.8" y2="383.8" stroke="#ffffff" stroke-opacity="0.8" stroke-width="1.5" stroke-dasharray="6 6.3"/>
<text x="1502.2" y="392.1" font-size="23" textLength="24.91" lengthAdjust="spacingAndGlyphs">−2</text>
<g shape-rendering="crispEdges">
<rect x="637" y="647.2" width="82.2" height="3.29" fill="#c9d5b4"/>
<rect x="637" y="650.09" width="82.2" height="3.29" fill="#cdd8b5"/>
<rect x="637" y="652.98" width="82.2" height="3.29" fill="#d1dbb6"/>
<rect x="637" y="655.86" width="82.2" height="3.29" fill="#cfd9b6"/>
<rect x="637" y="658.75" width="82.2" height="3.29" fill="#cad6b5"/>
<rect x="637" y="661.64" width="82.2" height="3.29" fill="#cdd7b5"/>
<rect x="637" y="664.53" width="82.2" height="3.29" fill="#d0dab6"/>
<rect x="637" y="667.42" width="82.2" height="3.29" fill="#d4ddb7"/>
<rect x="637" y="670.3" width="82.2" height="3.29" fill="#cfd9b6"/>
<rect x="637" y="673.19" width="82.2" height="3.29" fill="#cbd6b5"/>
<rect x="637" y="676.08" width="82.2" height="3.29" fill="#d1dab6"/>
<rect x="637" y="678.97" width="82.2" height="3.29" fill="#d3dcb7"/>
<rect x="637" y="681.86" width="82.2" height="3.29" fill="#d9e0b8"/>
<rect x="637" y="684.74" width="82.2" height="3.29" fill="#dae1b9"/>
<rect x="637" y="687.63" width="82.2" height="3.29" fill="#d7dfb8"/>
<rect x="637" y="690.52" width="82.2" height="3.29" fill="#d4ddb7"/>
<rect x="637" y="693.41" width="82.2" height="3.29" fill="#dee4ba"/>
<rect x="637" y="696.3" width="82.2" height="3.29" fill="#d9e0b8"/>
<rect x="637" y="699.18" width="82.2" height="3.29" fill="#d4ddb7"/>
<rect x="637" y="702.07" width="82.2" height="3.29" fill="#d1dab6"/>
<rect x="637" y="704.96" width="82.2" height="3.29" fill="#d3dcb7"/>
<rect x="637" y="707.85" width="82.2" height="3.29" fill="#d5deb7"/>
<rect x="637" y="710.74" width="82.2" height="3.29" fill="#d5ddb7"/>
<rect x="637" y="713.62" width="82.2" height="3.29" fill="#d5deb8"/>
<rect x="637" y="716.51" width="82.2" height="3.29" fill="#d7dfb8"/>
<rect x="637" y="719.4" width="82.2" height="3.29" fill="#dae1b9"/>
<rect x="637" y="722.29" width="82.2" height="3.29" fill="#dde4ba"/>
<rect x="637" y="725.18" width="82.2" height="3.29" fill="#dce3b9"/>
<rect x="637" y="728.06" width="82.2" height="3.29" fill="#d4ddb7"/>
<rect x="637" y="730.95" width="82.2" height="3.29" fill="#d9e1b8"/>
<rect x="637" y="733.84" width="82.2" height="3.29" fill="#d4ddb7"/>
<rect x="637" y="736.73" width="82.2" height="3.29" fill="#d6deb8"/>
<rect x="637" y="739.62" width="82.2" height="3.29" fill="#d3dcb7"/>
<rect x="637" y="742.5" width="82.2" height="3.29" fill="#d6dfb8"/>
<rect x="637" y="745.39" width="82.2" height="3.29" fill="#d6deb8"/>
<rect x="637" y="748.28" width="82.2" height="3.29" fill="#d9e1b9"/>
<rect x="637" y="751.17" width="82.2" height="3.29" fill="#e6eabc"/>
<rect x="637" y="754.06" width="82.2" height="3.29" fill="#e2e7bb"/>
<rect x="637" y="756.94" width="82.2" height="3.29" fill="#e3e8bb"/>
<rect x="637" y="759.83" width="82.2" height="6.18" fill="#dbe2b9"/>
<rect x="637" y="765.61" width="82.2" height="3.29" fill="#dfe5ba"/>
<rect x="637" y="768.5" width="82.2" height="3.29" fill="#dee4ba"/>
<rect x="637" y="771.38" width="82.2" height="6.18" fill="#e0e6ba"/>
<rect x="637" y="777.16" width="82.2" height="3.29" fill="#dce3b9"/>
<rect x="637" y="780.05" width="82.2" height="3.29" fill="#e0e6ba"/>
<rect x="637" y="782.94" width="82.2" height="3.29" fill="#dde4ba"/>
<rect x="637" y="785.82" width="82.2" height="3.29" fill="#e5eabc"/>
<rect x="637" y="788.71" width="82.2" height="3.29" fill="#e2e7bb"/>
<rect x="637" y="791.6" width="82.2" height="3.29" fill="#e4e9bb"/>
<rect x="637" y="794.49" width="82.2" height="3.29" fill="#e3e8bb"/>
<rect x="637" y="797.38" width="82.2" height="3.29" fill="#e6eabc"/>
<rect x="637" y="800.26" width="82.2" height="3.29" fill="#e2e7bb"/>
<rect x="637" y="803.15" width="82.2" height="3.29" fill="#e6eabc"/>
<rect x="637" y="806.04" width="82.2" height="3.29" fill="#e5e9bc"/>
<rect x="637" y="808.93" width="82.2" height="6.18" fill="#e9ecbd"/>
<rect x="637" y="814.7" width="82.2" height="3.29" fill="#e7ebbc"/>
<rect x="637" y="817.59" width="82.2" height="3.29" fill="#e4e8bb"/>
<rect x="637" y="820.48" width="82.2" height="3.29" fill="#e7ebbc"/>
<rect x="637" y="823.37" width="82.2" height="3.29" fill="#e8ecbc"/>
<rect x="637" y="826.26" width="82.2" height="3.29" fill="#edefbe"/>
<rect x="637" y="829.14" width="82.2" height="3.29" fill="#e9ecbd"/>
<rect x="637" y="832.03" width="82.2" height="3.29" fill="#eaedbd"/>
<rect x="637" y="834.92" width="82.2" height="3.29" fill="#ebedbd"/>
<rect x="637" y="837.81" width="82.2" height="9.06" fill="#eaedbd"/>
<rect x="637" y="846.47" width="82.2" height="3.29" fill="#e7ebbc"/>
<rect x="637" y="849.36" width="82.2" height="3.29" fill="#e4e9bb"/>
<rect x="637" y="852.25" width="82.2" height="3.29" fill="#e5eabc"/>
<rect x="637" y="855.14" width="82.2" height="3.29" fill="#eaedbd"/>
<rect x="637" y="858.02" width="82.2" height="3.29" fill="#eff1be"/>
<rect x="637" y="860.91" width="82.2" height="3.29" fill="#f0f1be"/>
<rect x="637" y="863.8" width="82.2" height="9.06" fill="#f1f2be"/>
<rect x="637" y="872.46" width="82.2" height="3.29" fill="#f0f1be"/>
<rect x="637" y="875.35" width="82.2" height="3.29" fill="#f4c791"/>
<rect x="637" y="878.24" width="82.2" height="3.29" fill="#f3c08c"/>
<rect x="637" y="881.13" width="82.2" height="3.29" fill="#f4c992"/>
<rect x="637" y="884.02" width="82.2" height="3.29" fill="#f5d197"/>
<rect x="637" y="886.9" width="82.2" height="3.29" fill="#f3c48f"/>
<rect x="637" y="889.79" width="82.2" height="3.29" fill="#f4c891"/>
<rect x="637" y="892.68" width="82.2" height="3.29" fill="#f4c690"/>
<rect x="637" y="895.57" width="82.2" height="3.29" fill="#f3c58f"/>
<rect x="637" y="898.46" width="82.2" height="3.29" fill="#f5d197"/>
<rect x="637" y="901.34" width="82.2" height="3.29" fill="#f3c18d"/>
<rect x="637" y="904.23" width="82.2" height="3.29" fill="#f2bd8a"/>
<rect x="637" y="907.12" width="82.2" height="3.29" fill="#f3c48f"/>
<rect x="637" y="910.01" width="82.2" height="3.29" fill="#f4c58f"/>
<rect x="637" y="912.9" width="82.2" height="3.29" fill="#f8e4a9"/>
<rect x="637" y="915.78" width="82.2" height="6.18" fill="#f9e9ae"/>
<rect x="637" y="921.56" width="82.2" height="3.29" fill="#f8e7ac"/>
<rect x="637" y="924.45" width="82.2" height="3.29" fill="#f8e4a8"/>
<rect x="637" y="927.34" width="82.2" height="3.29" fill="#f6d99d"/>
<rect x="637" y="930.22" width="82.2" height="3.29" fill="#f7dda1"/>
<rect x="637" y="933.11" width="82.2" height="3.29" fill="#f6d59a"/>
<rect x="637" y="936" width="82.2" height="3.29" fill="#f7e1a6"/>
<rect x="637" y="938.89" width="82.2" height="3.29" fill="#f7dca0"/>
<rect x="637" y="941.78" width="82.2" height="3.29" fill="#f6d79b"/>
<rect x="637" y="944.66" width="82.2" height="3.29" fill="#f7dea3"/>
<rect x="637" y="947.55" width="82.2" height="3.29" fill="#f9edb2"/>
<rect x="637" y="950.44" width="82.2" height="3.29" fill="#faefb4"/>
<rect x="637" y="953.33" width="82.2" height="3.29" fill="#f8e8ad"/>
<rect x="637" y="956.22" width="82.2" height="3.29" fill="#f8e2a6"/>
<rect x="637" y="959.1" width="82.2" height="3.29" fill="#f6d79b"/>
<rect x="637" y="961.99" width="82.2" height="6.18" fill="#f8e3a8"/>
<rect x="637" y="967.77" width="82.2" height="3.29" fill="#f7dea3"/>
<rect x="637" y="970.66" width="82.2" height="3.29" fill="#f7e1a6"/>
<rect x="637" y="973.54" width="82.2" height="3.29" fill="#faf3b9"/>
<rect x="637" y="976.43" width="82.2" height="3.29" fill="#f8e6ab"/>
<rect x="637" y="979.32" width="82.2" height="3.29" fill="#f5d298"/>
<rect x="637" y="982.21" width="82.2" height="3.29" fill="#f5d198"/>
<rect x="637" y="985.1" width="82.2" height="3.29" fill="#f7e1a5"/>
<rect x="637" y="987.98" width="82.2" height="3.29" fill="#faf8be"/>
<rect x="637" y="990.87" width="82.2" height="3.29" fill="#fbf8be"/>
<rect x="637" y="993.76" width="82.2" height="3.29" fill="#faf1b7"/>
<rect x="637" y="996.65" width="82.2" height="3.29" fill="#faf3b8"/>
<rect x="637" y="999.54" width="82.2" height="3.29" fill="#faf5bb"/>
<rect x="637" y="1002.42" width="82.2" height="3.29" fill="#faf2b8"/>
<rect x="637" y="1005.31" width="82.2" height="3.29" fill="#fbf5bb"/>
<rect x="637" y="1008.2" width="82.2" height="3.29" fill="#faf1b7"/>
<rect x="637" y="1011.09" width="82.2" height="3.29" fill="#fbf6bc"/>
<rect x="637" y="1013.98" width="82.2" height="3.29" fill="#fbf8be"/>
<rect x="637" y="1016.86" width="82.2" height="3.29" fill="#fbf6bc"/>
<rect x="637" y="1019.75" width="82.2" height="3.29" fill="#faf3b9"/>
<rect x="637" y="1022.64" width="82.2" height="3.29" fill="#faf4b9"/>
<rect x="637" y="1025.53" width="82.2" height="3.29" fill="#faf5bb"/>
<rect x="637" y="1028.42" width="82.2" height="11.95" fill="#f8f6be"/>
<rect x="637" y="1039.97" width="82.2" height="3.29" fill="#fbf8be"/>
<rect x="637" y="1042.86" width="82.2" height="3.29" fill="#faf7be"/>
<rect x="637" y="1045.74" width="82.2" height="3.29" fill="#fbf6bc"/>
<rect x="637" y="1048.63" width="82.2" height="3.29" fill="#fbf7bd"/>
<rect x="637" y="1051.52" width="82.2" height="6.18" fill="#fbf8be"/>
<rect x="637" y="1057.3" width="82.2" height="3.29" fill="#fbf7bd"/>
<rect x="637" y="1060.18" width="82.2" height="3.29" fill="#fbf5bb"/>
<rect x="637" y="1063.07" width="82.2" height="6.18" fill="#fbf8be"/>
<rect x="637" y="1068.85" width="82.2" height="3.29" fill="#f8f6be"/>
<rect x="637" y="1071.74" width="82.2" height="3.29" fill="#fbf6bc"/>
<rect x="637" y="1074.62" width="82.2" height="3.29" fill="#faf3b9"/>
<rect x="637" y="1077.51" width="82.2" height="2.89" fill="#fbf6bc"/>
<rect x="718.8" y="647.2" width="81.6" height="3.29" fill="#d51f26"/>
<rect x="718.8" y="650.09" width="81.6" height="3.29" fill="#d52026"/>
<rect x="718.8" y="652.98" width="81.6" height="14.84" fill="#d51f26"/>
<rect x="718.8" y="667.42" width="81.6" height="3.29" fill="#d52026"/>
<rect x="718.8" y="670.3" width="81.6" height="6.18" fill="#d51f26"/>
<rect x="718.8" y="676.08" width="81.6" height="9.06" fill="#d52026"/>
<rect x="718.8" y="684.74" width="81.6" height="11.95" fill="#d51f26"/>
<rect x="718.8" y="696.3" width="81.6" height="11.95" fill="#d52026"/>
<rect x="718.8" y="707.85" width="81.6" height="6.18" fill="#d52226"/>
<rect x="718.8" y="713.62" width="81.6" height="3.29" fill="#d52026"/>
<rect x="718.8" y="716.51" width="81.6" height="3.29" fill="#d51f26"/>
<rect x="718.8" y="719.4" width="81.6" height="3.29" fill="#d52026"/>
<rect x="718.8" y="722.29" width="81.6" height="3.29" fill="#d52126"/>
<rect x="718.8" y="725.18" width="81.6" height="11.95" fill="#d52026"/>
<rect x="718.8" y="736.73" width="81.6" height="3.29" fill="#d52126"/>
<rect x="718.8" y="739.62" width="81.6" height="6.18" fill="#d62427"/>
<rect x="718.8" y="745.39" width="81.6" height="14.84" fill="#d52026"/>
<rect x="718.8" y="759.83" width="81.6" height="3.29" fill="#d62227"/>
<rect x="718.8" y="762.72" width="81.6" height="3.29" fill="#d52226"/>
<rect x="718.8" y="765.61" width="81.6" height="3.29" fill="#d62627"/>
<rect x="718.8" y="768.5" width="81.6" height="3.29" fill="#d72928"/>
<rect x="718.8" y="771.38" width="81.6" height="3.29" fill="#d62427"/>
<rect x="718.8" y="774.27" width="81.6" height="11.95" fill="#d52026"/>
<rect x="718.8" y="785.82" width="81.6" height="6.18" fill="#d62327"/>
<rect x="718.8" y="791.6" width="81.6" height="3.29" fill="#d62527"/>
<rect x="718.8" y="794.49" width="81.6" height="3.29" fill="#d72828"/>
<rect x="718.8" y="797.38" width="81.6" height="3.29" fill="#d82c29"/>
<rect x="718.8" y="800.26" width="81.6" height="3.29" fill="#d82d29"/>
<rect x="718.8" y="803.15" width="81.6" height="3.29" fill="#d72a28"/>
<rect x="718.8" y="806.04" width="81.6" height="3.29" fill="#d72728"/>
<rect x="718.8" y="808.93" width="81.6" height="3.29" fill="#d72828"/>
<rect x="718.8" y="811.82" width="81.6" height="3.29" fill="#d62327"/>
<rect x="718.8" y="814.7" width="81.6" height="3.29" fill="#d62427"/>
<rect x="718.8" y="817.59" width="81.6" height="3.29" fill="#d62327"/>
<rect x="718.8" y="820.48" width="81.6" height="3.29" fill="#d52126"/>
<rect x="718.8" y="823.37" width="81.6" height="3.29" fill="#d72728"/>
<rect x="718.8" y="826.26" width="81.6" height="3.29" fill="#d82d29"/>
<rect x="718.8" y="829.14" width="81.6" height="3.29" fill="#d72928"/>
<rect x="718.8" y="832.03" width="81.6" height="3.29" fill="#d82b29"/>
<rect x="718.8" y="834.92" width="81.6" height="6.18" fill="#d62627"/>
<rect x="718.8" y="840.7" width="81.6" height="3.29" fill="#d62527"/>
<rect x="718.8" y="843.58" width="81.6" height="3.29" fill="#d62427"/>
<rect x="718.8" y="846.47" width="81.6" height="3.29" fill="#d82e29"/>
<rect x="718.8" y="849.36" width="81.6" height="3.29" fill="#d72a28"/>
<rect x="718.8" y="852.25" width="81.6" height="3.29" fill="#d82c29"/>
<rect x="718.8" y="855.14" width="81.6" height="6.18" fill="#d82e29"/>
<rect x="718.8" y="860.91" width="81.6" height="3.29" fill="#d82b29"/>
<rect x="718.8" y="863.8" width="81.6" height="3.29" fill="#d72928"/>
<rect x="718.8" y="866.69" width="81.6" height="3.29" fill="#d72728"/>
<rect x="718.8" y="869.58" width="81.6" height="3.29" fill="#d92f2a"/>
<rect x="718.8" y="872.46" width="81.6" height="3.29" fill="#d9302a"/>
<rect x="718.8" y="875.35" width="81.6" height="3.29" fill="#e67454"/>
<rect x="718.8" y="878.24" width="81.6" height="3.29" fill="#e56e4f"/>
<rect x="718.8" y="881.13" width="81.6" height="3.29" fill="#e4684a"/>
<rect x="718.8" y="884.02" width="81.6" height="3.29" fill="#e46b4c"/>
<rect x="718.8" y="886.9" width="81.6" height="3.29" fill="#e36849"/>
<rect x="718.8" y="889.79" width="81.6" height="3.29" fill="#e36648"/>
<rect x="718.8" y="892.68" width="81.6" height="3.29" fill="#e26245"/>
<rect x="718.8" y="895.57" width="81.6" height="3.29" fill="#e36749"/>
<rect x="718.8" y="898.46" width="81.6" height="3.29" fill="#e46b4c"/>
<rect x="718.8" y="901.34" width="81.6" height="3.29" fill="#e46c4d"/>
<rect x="718.8" y="904.23" width="81.6" height="3.29" fill="#e26245"/>
<rect x="718.8" y="907.12" width="81.6" height="3.29" fill="#e25f43"/>
<rect x="718.8" y="910.01" width="81.6" height="3.29" fill="#e36346"/>
<rect x="718.8" y="912.9" width="81.6" height="3.29" fill="#dd432e"/>
<rect x="718.8" y="915.78" width="81.6" height="6.18" fill="#de442f"/>
<rect x="718.8" y="921.56" width="81.6" height="3.29" fill="#de462f"/>
<rect x="718.8" y="924.45" width="81.6" height="3.29" fill="#de4730"/>
<rect x="718.8" y="927.34" width="81.6" height="6.18" fill="#e1573d"/>
<rect x="718.8" y="933.11" width="81.6" height="3.29" fill="#df4d34"/>
<rect x="718.8" y="936" width="81.6" height="3.29" fill="#df4c34"/>
<rect x="718.8" y="938.89" width="81.6" height="3.29" fill="#df4e35"/>
<rect x="718.8" y="941.78" width="81.6" height="6.18" fill="#e05037"/>
<rect x="718.8" y="947.55" width="81.6" height="3.29" fill="#df4f36"/>
<rect x="718.8" y="950.44" width="81.6" height="3.29" fill="#e05339"/>
<rect x="718.8" y="953.33" width="81.6" height="3.29" fill="#e05138"/>
<rect x="718.8" y="956.22" width="81.6" height="3.29" fill="#e05037"/>
<rect x="718.8" y="959.1" width="81.6" height="3.29" fill="#e0543a"/>
<rect x="718.8" y="961.99" width="81.6" height="3.29" fill="#e1563c"/>
<rect x="718.8" y="964.88" width="81.6" height="3.29" fill="#e1583d"/>
<rect x="718.8" y="967.77" width="81.6" height="3.29" fill="#e15a3e"/>
<rect x="718.8" y="970.66" width="81.6" height="3.29" fill="#e05238"/>
<rect x="718.8" y="973.54" width="81.6" height="3.29" fill="#e25c40"/>
<rect x="718.8" y="976.43" width="81.6" height="3.29" fill="#e1583d"/>
<rect x="718.8" y="979.32" width="81.6" height="6.18" fill="#e1573d"/>
<rect x="718.8" y="985.1" width="81.6" height="3.29" fill="#e0543a"/>
<rect x="718.8" y="987.98" width="81.6" height="3.29" fill="#da362b"/>
<rect x="718.8" y="990.87" width="81.6" height="3.29" fill="#db372c"/>
<rect x="718.8" y="993.76" width="81.6" height="3.29" fill="#db392c"/>
<rect x="718.8" y="996.65" width="81.6" height="3.29" fill="#dc3c2d"/>
<rect x="718.8" y="999.54" width="81.6" height="3.29" fill="#db3b2c"/>
<rect x="718.8" y="1002.42" width="81.6" height="3.29" fill="#da362b"/>
<rect x="718.8" y="1005.31" width="81.6" height="3.29" fill="#db392c"/>
<rect x="718.8" y="1008.2" width="81.6" height="3.29" fill="#dc3e2d"/>
<rect x="718.8" y="1011.09" width="81.6" height="3.29" fill="#dd412e"/>
<rect x="718.8" y="1013.98" width="81.6" height="3.29" fill="#dd422e"/>
<rect x="718.8" y="1016.86" width="81.6" height="3.29" fill="#de442f"/>
<rect x="718.8" y="1019.75" width="81.6" height="3.29" fill="#db3b2c"/>
<rect x="718.8" y="1022.64" width="81.6" height="3.29" fill="#db392c"/>
<rect x="718.8" y="1025.53" width="81.6" height="3.29" fill="#db3a2c"/>
<rect x="718.8" y="1028.42" width="81.6" height="3.29" fill="#da332b"/>
<rect x="718.8" y="1031.3" width="81.6" height="3.29" fill="#db392c"/>
<rect x="718.8" y="1034.19" width="81.6" height="3.29" fill="#da362b"/>
<rect x="718.8" y="1037.08" width="81.6" height="3.29" fill="#da342b"/>
<rect x="718.8" y="1039.97" width="81.6" height="3.29" fill="#dc3d2d"/>
<rect x="718.8" y="1042.86" width="81.6" height="6.18" fill="#dd422e"/>
<rect x="718.8" y="1048.63" width="81.6" height="3.29" fill="#db3a2c"/>
<rect x="718.8" y="1051.52" width="81.6" height="3.29" fill="#da342b"/>
<rect x="718.8" y="1054.41" width="81.6" height="3.29" fill="#dc3c2d"/>
<rect x="718.8" y="1057.3" width="81.6" height="3.29" fill="#da362b"/>
<rect x="718.8" y="1060.18" width="81.6" height="3.29" fill="#db392c"/>
<rect x="718.8" y="1063.07" width="81.6" height="3.29" fill="#db3b2c"/>
<rect x="718.8" y="1065.96" width="81.6" height="3.29" fill="#dc3d2d"/>
<rect x="718.8" y="1068.85" width="81.6" height="3.29" fill="#dc3c2d"/>
<rect x="718.8" y="1071.74" width="81.6" height="6.18" fill="#dd432e"/>
<rect x="718.8" y="1077.51" width="81.6" height="2.89" fill="#dd442e"/>
<rect x="800" y="647.2" width="81.7" height="3.29" fill="#9bb3b6"/>
<rect x="800" y="650.09" width="81.7" height="3.29" fill="#a6bbb5"/>
<rect x="800" y="652.98" width="81.7" height="3.29" fill="#b0c3b5"/>
<rect x="800" y="655.86" width="81.7" height="3.29" fill="#a3b9b5"/>
<rect x="800" y="658.75" width="81.7" height="3.29" fill="#94aeb6"/>
<rect x="800" y="661.64" width="81.7" height="3.29" fill="#93adb6"/>
<rect x="800" y="664.53" width="81.7" height="3.29" fill="#90abb6"/>
<rect x="800" y="667.42" width="81.7" height="6.18" fill="#9fb6b5"/>
<rect x="800" y="673.19" width="81.7" height="3.29" fill="#98b1b6"/>
<rect x="800" y="676.08" width="81.7" height="3.29" fill="#9db5b5"/>
<rect x="800" y="678.97" width="81.7" height="3.29" fill="#9eb5b5"/>
<rect x="800" y="681.86" width="81.7" height="3.29" fill="#92acb6"/>
<rect x="800" y="684.74" width="81.7" height="3.29" fill="#91acb6"/>
<rect x="800" y="687.63" width="81.7" height="3.29" fill="#93adb6"/>
<rect x="800" y="690.52" width="81.7" height="3.29" fill="#95afb6"/>
<rect x="800" y="693.41" width="81.7" height="3.29" fill="#97b0b6"/>
<rect x="800" y="696.3" width="81.7" height="3.29" fill="#96afb6"/>
<rect x="800" y="699.18" width="81.7" height="3.29" fill="#98b1b6"/>
<rect x="800" y="702.07" width="81.7" height="3.29" fill="#94aeb6"/>
<rect x="800" y="704.96" width="81.7" height="3.29" fill="#91abb6"/>
<rect x="800" y="707.85" width="81.7" height="3.29" fill="#9db5b5"/>
<rect x="800" y="710.74" width="81.7" height="3.29" fill="#9db4b5"/>
<rect x="800" y="713.62" width="81.7" height="3.29" fill="#9db5b5"/>
<rect x="800" y="716.51" width="81.7" height="3.29" fill="#91acb6"/>
<rect x="800" y="719.4" width="81.7" height="3.29" fill="#93adb6"/>
<rect x="800" y="722.29" width="81.7" height="3.29" fill="#9ab3b6"/>
<rect x="800" y="725.18" width="81.7" height="3.29" fill="#92acb6"/>
<rect x="800" y="728.06" width="81.7" height="3.29" fill="#9bb3b5"/>
<rect x="800" y="730.95" width="81.7" height="3.29" fill="#97b0b6"/>
<rect x="800" y="733.84" width="81.7" height="3.29" fill="#9ab2b6"/>
<rect x="800" y="736.73" width="81.7" height="3.29" fill="#98b1b6"/>
<rect x="800" y="739.62" width="81.7" height="3.29" fill="#99b2b6"/>
<rect x="800" y="742.5" width="81.7" height="3.29" fill="#a0b7b5"/>
<rect x="800" y="745.39" width="81.7" height="3.29" fill="#9ab2b6"/>
<rect x="800" y="748.28" width="81.7" height="3.29" fill="#a3b9b5"/>
<rect x="800" y="751.17" width="81.7" height="3.29" fill="#99b2b6"/>
<rect x="800" y="754.06" width="81.7" height="3.29" fill="#93adb6"/>
<rect x="800" y="756.94" width="81.7" height="3.29" fill="#9ab2b6"/>
<rect x="800" y="759.83" width="81.7" height="3.29" fill="#92adb6"/>
<rect x="800" y="762.72" width="81.7" height="3.29" fill="#93adb6"/>
<rect x="800" y="765.61" width="81.7" height="3.29" fill="#9bb3b6"/>
<rect x="800" y="768.5" width="81.7" height="3.29" fill="#a1b7b5"/>
<rect x="800" y="771.38" width="81.7" height="3.29" fill="#92acb6"/>
<rect x="800" y="774.27" width="81.7" height="3.29" fill="#98b1b6"/>
<rect x="800" y="777.16" width="81.7" height="3.29" fill="#a3b9b5"/>
<rect x="800" y="780.05" width="81.7" height="3.29" fill="#a5bbb5"/>
<rect x="800" y="782.94" width="81.7" height="3.29" fill="#9eb5b5"/>
<rect x="800" y="785.82" width="81.7" height="3.29" fill="#98b1b6"/>
<rect x="800" y="788.71" width="81.7" height="3.29" fill="#96afb6"/>
<rect x="800" y="791.6" width="81.7" height="3.29" fill="#90abb6"/>
<rect x="800" y="794.49" width="81.7" height="3.29" fill="#92acb6"/>
<rect x="800" y="797.38" width="81.7" height="3.29" fill="#94aeb6"/>
<rect x="800" y="800.26" width="81.7" height="3.29" fill="#95aeb6"/>
<rect x="800" y="803.15" width="81.7" height="3.29" fill="#9db5b5"/>
<rect x="800" y="806.04" width="81.7" height="3.29" fill="#9ab2b6"/>
<rect x="800" y="808.93" width="81.7" height="3.29" fill="#90abb6"/>
<rect x="800" y="811.82" width="81.7" height="3.29" fill="#9ab2b6"/>
<rect x="800" y="814.7" width="81.7" height="3.29" fill="#93adb6"/>
<rect x="800" y="817.59" width="81.7" height="3.29" fill="#92adb6"/>
<rect x="800" y="820.48" width="81.7" height="6.18" fill="#94aeb6"/>
<rect x="800" y="826.26" width="81.7" height="3.29" fill="#90abb6"/>
<rect x="800" y="829.14" width="81.7" height="3.29" fill="#92acb6"/>
<rect x="800" y="832.03" width="81.7" height="3.29" fill="#a2b8b5"/>
<rect x="800" y="834.92" width="81.7" height="3.29" fill="#9ab2b6"/>
<rect x="800" y="837.81" width="81.7" height="3.29" fill="#98b1b6"/>
<rect x="800" y="840.7" width="81.7" height="3.29" fill="#9fb6b5"/>
<rect x="800" y="843.58" width="81.7" height="3.29" fill="#a0b7b5"/>
<rect x="800" y="846.47" width="81.7" height="3.29" fill="#a1b7b5"/>
<rect x="800" y="849.36" width="81.7" height="3.29" fill="#a2b8b5"/>
<rect x="800" y="852.25" width="81.7" height="3.29" fill="#92acb6"/>
<rect x="800" y="855.14" width="81.7" height="3.29" fill="#8faab6"/>
<rect x="800" y="858.02" width="81.7" height="3.29" fill="#94aeb6"/>
<rect x="800" y="860.91" width="81.7" height="3.29" fill="#99b1b6"/>
<rect x="800" y="863.8" width="81.7" height="3.29" fill="#a0b7b5"/>
<rect x="800" y="866.69" width="81.7" height="3.29" fill="#9fb6b5"/>
<rect x="800" y="869.58" width="81.7" height="3.29" fill="#9bb3b6"/>
<rect x="800" y="872.46" width="81.7" height="3.29" fill="#9ab2b6"/>
<rect x="800" y="875.35" width="81.7" height="3.29" fill="#4c7ab3"/>
<rect x="800" y="878.24" width="81.7" height="3.29" fill="#4d7bb3"/>
<rect x="800" y="881.13" width="81.7" height="3.29" fill="#507db3"/>
<rect x="800" y="884.02" width="81.7" height="3.29" fill="#4d7bb3"/>
<rect x="800" y="886.9" width="81.7" height="3.29" fill="#4978b3"/>
<rect x="800" y="889.79" width="81.7" height="3.29" fill="#4777b3"/>
<rect x="800" y="892.68" width="81.7" height="3.29" fill="#4e7cb3"/>
<rect x="800" y="895.57" width="81.7" height="3.29" fill="#537fb3"/>
<rect x="800" y="898.46" width="81.7" height="9.06" fill="#5480b3"/>
<rect x="800" y="907.12" width="81.7" height="3.29" fill="#517db3"/>
<rect x="800" y="910.01" width="81.7" height="3.29" fill="#527eb3"/>
<rect x="800" y="912.9" width="81.7" height="3.29" fill="#658bb4"/>
<rect x="800" y="915.78" width="81.7" height="3.29" fill="#648bb4"/>
<rect x="800" y="918.67" width="81.7" height="3.29" fill="#6289b4"/>
<rect x="800" y="921.56" width="81.7" height="3.29" fill="#678db4"/>
<rect x="800" y="924.45" width="81.7" height="3.29" fill="#648bb4"/>
<rect x="800" y="927.34" width="81.7" height="3.29" fill="#5782b4"/>
<rect x="800" y="930.22" width="81.7" height="3.29" fill="#5a83b4"/>
<rect x="800" y="933.11" width="81.7" height="3.29" fill="#5f87b4"/>
<rect x="800" y="936" width="81.7" height="3.29" fill="#5983b4"/>
<rect x="800" y="938.89" width="81.7" height="3.29" fill="#5580b3"/>
<rect x="800" y="941.78" width="81.7" height="3.29" fill="#5a84b4"/>
<rect x="800" y="944.66" width="81.7" height="3.29" fill="#5580b3"/>
<rect x="800" y="947.55" width="81.7" height="3.29" fill="#5983b4"/>
<rect x="800" y="950.44" width="81.7" height="3.29" fill="#5681b4"/>
<rect x="800" y="953.33" width="81.7" height="3.29" fill="#5782b4"/>
<rect x="800" y="956.22" width="81.7" height="3.29" fill="#507db3"/>
<rect x="800" y="959.1" width="81.7" height="3.29" fill="#5782b4"/>
<rect x="800" y="961.99" width="81.7" height="3.29" fill="#5681b4"/>
<rect x="800" y="964.88" width="81.7" height="3.29" fill="#537fb3"/>
<rect x="800" y="967.77" width="81.7" height="3.29" fill="#5e87b4"/>
<rect x="800" y="970.66" width="81.7" height="3.29" fill="#5f87b4"/>
<rect x="800" y="973.54" width="81.7" height="3.29" fill="#6d91b5"/>
<rect x="800" y="976.43" width="81.7" height="3.29" fill="#658cb4"/>
<rect x="800" y="979.32" width="81.7" height="3.29" fill="#5e86b4"/>
<rect x="800" y="982.21" width="81.7" height="3.29" fill="#5c85b4"/>
<rect x="800" y="985.1" width="81.7" height="3.29" fill="#6289b4"/>
<rect x="800" y="987.98" width="81.7" height="3.29" fill="#82a1b6"/>
<rect x="800" y="990.87" width="81.7" height="6.18" fill="#81a0b6"/>
<rect x="800" y="996.65" width="81.7" height="3.29" fill="#799ab5"/>
<rect x="800" y="999.54" width="81.7" height="3.29" fill="#7a9bb5"/>
<rect x="800" y="1002.42" width="81.7" height="3.29" fill="#7798b5"/>
<rect x="800" y="1005.31" width="81.7" height="3.29" fill="#7194b5"/>
<rect x="800" y="1008.2" width="81.7" height="3.29" fill="#7899b5"/>
<rect x="800" y="1011.09" width="81.7" height="3.29" fill="#7b9bb5"/>
<rect x="800" y="1013.98" width="81.7" height="3.29" fill="#799ab5"/>
<rect x="800" y="1016.86" width="81.7" height="3.29" fill="#7295b5"/>
<rect x="800" y="1019.75" width="81.7" height="3.29" fill="#698eb4"/>
<rect x="800" y="1022.64" width="81.7" height="3.29" fill="#7094b5"/>
<rect x="800" y="1025.53" width="81.7" height="3.29" fill="#7194b5"/>
<rect x="800" y="1028.42" width="81.7" height="3.29" fill="#698eb4"/>
<rect x="800" y="1031.3" width="81.7" height="3.29" fill="#6c91b5"/>
<rect x="800" y="1034.19" width="81.7" height="3.29" fill="#678db4"/>
<rect x="800" y="1037.08" width="81.7" height="3.29" fill="#6b90b5"/>
<rect x="800" y="1039.97" width="81.7" height="3.29" fill="#6d92b5"/>
<rect x="800" y="1042.86" width="81.7" height="9.06" fill="#7093b5"/>
<rect x="800" y="1051.52" width="81.7" height="6.18" fill="#688eb4"/>
<rect x="800" y="1057.3" width="81.7" height="6.18" fill="#678db4"/>
<rect x="800" y="1063.07" width="81.7" height="3.29" fill="#6a8fb4"/>
<rect x="800" y="1065.96" width="81.7" height="3.29" fill="#6c91b5"/>
<rect x="800" y="1068.85" width="81.7" height="3.29" fill="#7395b5"/>
<rect x="800" y="1071.74" width="81.7" height="3.29" fill="#6188b4"/>
<rect x="800" y="1074.62" width="81.7" height="3.29" fill="#658cb4"/>
<rect x="800" y="1077.51" width="81.7" height="2.89" fill="#658bb4"/>
<rect x="881.3" y="647.2" width="81.2" height="3.29" fill="#dae1b9"/>
<rect x="881.3" y="650.09" width="81.2" height="3.29" fill="#d9e1b9"/>
<rect x="881.3" y="652.98" width="81.2" height="3.29" fill="#cbd6b5"/>
<rect x="881.3" y="655.86" width="81.2" height="3.29" fill="#ced9b6"/>
<rect x="881.3" y="658.75" width="81.2" height="3.29" fill="#cbd6b5"/>
<rect x="881.3" y="661.64" width="81.2" height="3.29" fill="#d2dbb7"/>
<rect x="881.3" y="664.53" width="81.2" height="3.29" fill="#cad5b5"/>
<rect x="881.3" y="667.42" width="81.2" height="6.18" fill="#cbd6b5"/>
<rect x="881.3" y="673.19" width="81.2" height="3.29" fill="#ccd7b5"/>
<rect x="881.3" y="676.08" width="81.2" height="3.29" fill="#c9d5b4"/>
<rect x="881.3" y="678.97" width="81.2" height="3.29" fill="#c0ceb4"/>
<rect x="881.3" y="681.86" width="81.2" height="3.29" fill="#c9d5b4"/>
<rect x="881.3" y="684.74" width="81.2" height="3.29" fill="#d1dab6"/>
<rect x="881.3" y="687.63" width="81.2" height="3.29" fill="#cfd9b6"/>
<rect x="881.3" y="690.52" width="81.2" height="3.29" fill="#c9d4b4"/>
<rect x="881.3" y="693.41" width="81.2" height="3.29" fill="#ccd7b5"/>
<rect x="881.3" y="696.3" width="81.2" height="3.29" fill="#d0dab6"/>
<rect x="881.3" y="699.18" width="81.2" height="6.18" fill="#ced8b5"/>
<rect x="881.3" y="704.96" width="81.2" height="3.29" fill="#d5deb7"/>
<rect x="881.3" y="707.85" width="81.2" height="3.29" fill="#ccd7b5"/>
<rect x="881.3" y="710.74" width="81.2" height="3.29" fill="#c9d5b4"/>
<rect x="881.3" y="713.62" width="81.2" height="3.29" fill="#c0ceb4"/>
<rect x="881.3" y="716.51" width="81.2" height="3.29" fill="#c2d0b4"/>
<rect x="881.3" y="719.4" width="81.2" height="3.29" fill="#c3d0b4"/>
<rect x="881.3" y="722.29" width="81.2" height="3.29" fill="#c2d0b4"/>
<rect x="881.3" y="725.18" width="81.2" height="3.29" fill="#c3d1b4"/>
<rect x="881.3" y="728.06" width="81.2" height="3.29" fill="#d2dbb7"/>
<rect x="881.3" y="730.95" width="81.2" height="3.29" fill="#cfd9b6"/>
<rect x="881.3" y="733.84" width="81.2" height="3.29" fill="#ced8b5"/>
<rect x="881.3" y="736.73" width="81.2" height="3.29" fill="#d9e1b9"/>
<rect x="881.3" y="739.62" width="81.2" height="3.29" fill="#d4ddb7"/>
<rect x="881.3" y="742.5" width="81.2" height="3.29" fill="#c7d4b4"/>
<rect x="881.3" y="745.39" width="81.2" height="3.29" fill="#ccd7b5"/>
<rect x="881.3" y="748.28" width="81.2" height="3.29" fill="#c8d4b4"/>
<rect x="881.3" y="751.17" width="81.2" height="3.29" fill="#d3dcb7"/>
<rect x="881.3" y="754.06" width="81.2" height="3.29" fill="#cad5b4"/>
<rect x="881.3" y="756.94" width="81.2" height="3.29" fill="#c8d4b4"/>
<rect x="881.3" y="759.83" width="81.2" height="3.29" fill="#c1cfb4"/>
<rect x="881.3" y="762.72" width="81.2" height="3.29" fill="#c8d4b4"/>
<rect x="881.3" y="765.61" width="81.2" height="3.29" fill="#c4d1b4"/>
<rect x="881.3" y="768.5" width="81.2" height="3.29" fill="#c8d4b4"/>
<rect x="881.3" y="771.38" width="81.2" height="3.29" fill="#c9d4b4"/>
<rect x="881.3" y="774.27" width="81.2" height="3.29" fill="#c7d4b4"/>
<rect x="881.3" y="777.16" width="81.2" height="3.29" fill="#cfd9b6"/>
<rect x="881.3" y="780.05" width="81.2" height="3.29" fill="#d4dcb7"/>
<rect x="881.3" y="782.94" width="81.2" height="3.29" fill="#d1dbb6"/>
<rect x="881.3" y="785.82" width="81.2" height="3.29" fill="#cbd6b5"/>
<rect x="881.3" y="788.71" width="81.2" height="3.29" fill="#c6d2b4"/>
<rect x="881.3" y="791.6" width="81.2" height="3.29" fill="#cbd6b5"/>
<rect x="881.3" y="794.49" width="81.2" height="3.29" fill="#d9e1b8"/>
<rect x="881.3" y="797.38" width="81.2" height="3.29" fill="#d1dbb6"/>
<rect x="881.3" y="800.26" width="81.2" height="3.29" fill="#cbd6b5"/>
<rect x="881.3" y="803.15" width="81.2" height="3.29" fill="#c8d4b4"/>
<rect x="881.3" y="806.04" width="81.2" height="3.29" fill="#c4d1b4"/>
<rect x="881.3" y="808.93" width="81.2" height="3.29" fill="#c3d0b4"/>
<rect x="881.3" y="811.82" width="81.2" height="3.29" fill="#c7d3b4"/>
<rect x="881.3" y="814.7" width="81.2" height="3.29" fill="#d2dbb7"/>
<rect x="881.3" y="817.59" width="81.2" height="3.29" fill="#d0dab6"/>
<rect x="881.3" y="820.48" width="81.2" height="3.29" fill="#ccd7b5"/>
<rect x="881.3" y="823.37" width="81.2" height="3.29" fill="#c3d1b4"/>
<rect x="881.3" y="826.26" width="81.2" height="3.29" fill="#c9d5b4"/>
<rect x="881.3" y="829.14" width="81.2" height="3.29" fill="#cbd6b5"/>
<rect x="881.3" y="832.03" width="81.2" height="3.29" fill="#c5d2b4"/>
<rect x="881.3" y="834.92" width="81.2" height="3.29" fill="#c3d0b4"/>
<rect x="881.3" y="837.81" width="81.2" height="3.29" fill="#c7d4b4"/>
<rect x="881.3" y="840.7" width="81.2" height="3.29" fill="#d0dab6"/>
<rect x="881.3" y="843.58" width="81.2" height="3.29" fill="#d2dbb7"/>
<rect x="881.3" y="846.47" width="81.2" height="3.29" fill="#d1dbb6"/>
<rect x="881.3" y="849.36" width="81.2" height="3.29" fill="#ced8b5"/>
<rect x="881.3" y="852.25" width="81.2" height="3.29" fill="#cfd9b6"/>
<rect x="881.3" y="855.14" width="81.2" height="3.29" fill="#ced9b6"/>
<rect x="881.3" y="858.02" width="81.2" height="3.29" fill="#dae1b9"/>
<rect x="881.3" y="860.91" width="81.2" height="3.29" fill="#ced8b6"/>
<rect x="881.3" y="863.8" width="81.2" height="3.29" fill="#ccd7b5"/>
<rect x="881.3" y="866.69" width="81.2" height="3.29" fill="#d3dcb7"/>
<rect x="881.3" y="869.58" width="81.2" height="3.29" fill="#cfd9b6"/>
<rect x="881.3" y="872.46" width="81.2" height="3.29" fill="#d6deb8"/>
<rect x="881.3" y="875.35" width="81.2" height="3.29" fill="#f9f7be"/>
<rect x="881.3" y="878.24" width="81.2" height="3.29" fill="#f8f6be"/>
<rect x="881.3" y="881.13" width="81.2" height="3.29" fill="#f7f5be"/>
<rect x="881.3" y="884.02" width="81.2" height="3.29" fill="#f3f3be"/>
<rect x="881.3" y="886.9" width="81.2" height="3.29" fill="#f2f2be"/>
<rect x="881.3" y="889.79" width="81.2" height="3.29" fill="#faf8be"/>
<rect x="881.3" y="892.68" width="81.2" height="6.18" fill="#fbf8be"/>
<rect x="881.3" y="898.46" width="81.2" height="3.29" fill="#fbf7bd"/>
<rect x="881.3" y="901.34" width="81.2" height="3.29" fill="#fbf8be"/>
<rect x="881.3" y="904.23" width="81.2" height="3.29" fill="#fbf7bd"/>
<rect x="881.3" y="907.12" width="81.2" height="3.29" fill="#f9f7be"/>
<rect x="881.3" y="910.01" width="81.2" height="3.29" fill="#f7f6be"/>
<rect x="881.3" y="912.9" width="81.2" height="3.29" fill="#d7dfb8"/>
<rect x="881.3" y="915.78" width="81.2" height="3.29" fill="#d4ddb7"/>
<rect x="881.3" y="918.67" width="81.2" height="3.29" fill="#cfd9b6"/>
<rect x="881.3" y="921.56" width="81.2" height="3.29" fill="#d0dab6"/>
<rect x="881.3" y="924.45" width="81.2" height="3.29" fill="#cfd9b6"/>
<rect x="881.3" y="927.34" width="81.2" height="3.29" fill="#f4f4be"/>
<rect x="881.3" y="930.22" width="81.2" height="3.29" fill="#f2f2be"/>
<rect x="881.3" y="933.11" width="81.2" height="3.29" fill="#f0f1be"/>
<rect x="881.3" y="936" width="81.2" height="3.29" fill="#f1f2be"/>
<rect x="881.3" y="938.89" width="81.2" height="3.29" fill="#f7f5be"/>
<rect x="881.3" y="941.78" width="81.2" height="3.29" fill="#f5f5be"/>
<rect x="881.3" y="944.66" width="81.2" height="9.06" fill="#f5f4be"/>
<rect x="881.3" y="953.33" width="81.2" height="3.29" fill="#f7f6be"/>
<rect x="881.3" y="956.22" width="81.2" height="3.29" fill="#faf7be"/>
<rect x="881.3" y="959.1" width="81.2" height="3.29" fill="#f3f3be"/>
<rect x="881.3" y="961.99" width="81.2" height="3.29" fill="#f7f6be"/>
<rect x="881.3" y="964.88" width="81.2" height="3.29" fill="#f6f5be"/>
<rect x="881.3" y="967.77" width="81.2" height="3.29" fill="#f4f4be"/>
<rect x="881.3" y="970.66" width="81.2" height="3.29" fill="#fbf8be"/>
<rect x="881.3" y="973.54" width="81.2" height="3.29" fill="#f7f6be"/>
<rect x="881.3" y="976.43" width="81.2" height="3.29" fill="#fbf7bd"/>
<rect x="881.3" y="979.32" width="81.2" height="3.29" fill="#fbf8be"/>
<rect x="881.3" y="982.21" width="81.2" height="3.29" fill="#f5f4be"/>
<rect x="881.3" y="985.1" width="81.2" height="3.29" fill="#f6f5be"/>
<rect x="881.3" y="987.98" width="81.2" height="3.29" fill="#d6deb8"/>
<rect x="881.3" y="990.87" width="81.2" height="3.29" fill="#d4ddb7"/>
<rect x="881.3" y="993.76" width="81.2" height="3.29" fill="#c9d5b4"/>
<rect x="881.3" y="996.65" width="81.2" height="3.29" fill="#ccd7b5"/>
<rect x="881.3" y="999.54" width="81.2" height="3.29" fill="#cfd9b6"/>
<rect x="881.3" y="1002.42" width="81.2" height="3.29" fill="#cdd8b5"/>
<rect x="881.3" y="1005.31" width="81.2" height="3.29" fill="#dae1b9"/>
<rect x="881.3" y="1008.2" width="81.2" height="3.29" fill="#d7dfb8"/>
<rect x="881.3" y="1011.09" width="81.2" height="6.18" fill="#d6deb8"/>
<rect x="881.3" y="1016.86" width="81.2" height="3.29" fill="#d4ddb7"/>
<rect x="881.3" y="1019.75" width="81.2" height="3.29" fill="#d3dcb7"/>
<rect x="881.3" y="1022.64" width="81.2" height="3.29" fill="#d7dfb8"/>
<rect x="881.3" y="1025.53" width="81.2" height="3.29" fill="#dae2b9"/>
<rect x="881.3" y="1028.42" width="81.2" height="3.29" fill="#d9e1b8"/>
<rect x="881.3" y="1031.3" width="81.2" height="3.29" fill="#dae2b9"/>
<rect x="881.3" y="1034.19" width="81.2" height="3.29" fill="#d6deb8"/>
<rect x="881.3" y="1037.08" width="81.2" height="3.29" fill="#dce3b9"/>
<rect x="881.3" y="1039.97" width="81.2" height="3.29" fill="#dae1b9"/>
<rect x="881.3" y="1042.86" width="81.2" height="3.29" fill="#dee4ba"/>
<rect x="881.3" y="1045.74" width="81.2" height="3.29" fill="#dbe2b9"/>
<rect x="881.3" y="1048.63" width="81.2" height="3.29" fill="#dce2b9"/>
<rect x="881.3" y="1051.52" width="81.2" height="3.29" fill="#e0e5ba"/>
<rect x="881.3" y="1054.41" width="81.2" height="3.29" fill="#dce3b9"/>
<rect x="881.3" y="1057.3" width="81.2" height="3.29" fill="#ebedbd"/>
<rect x="881.3" y="1060.18" width="81.2" height="3.29" fill="#e8ebbc"/>
<rect x="881.3" y="1063.07" width="81.2" height="3.29" fill="#e6eabc"/>
<rect x="881.3" y="1065.96" width="81.2" height="3.29" fill="#e3e8bb"/>
<rect x="881.3" y="1068.85" width="81.2" height="3.29" fill="#eceebd"/>
<rect x="881.3" y="1071.74" width="81.2" height="3.29" fill="#f0f1be"/>
<rect x="881.3" y="1074.62" width="81.2" height="3.29" fill="#eef0be"/>
<rect x="881.3" y="1077.51" width="81.2" height="2.89" fill="#e6eabc"/>
</g>
<linearGradient id="cbg2" x1="0" y1="0" x2="0" y2="1"><stop offset="0" stop-color="#d41d26"/><stop offset="0.03" stop-color="#d41e26"/><stop offset="0.05" stop-color="#d51e26"/><stop offset="0.07" stop-color="#d51f26"/><stop offset="0.1" stop-color="#d52026"/><stop offset="0.12" stop-color="#d72928"/><stop offset="0.15" stop-color="#da372b"/><stop offset="0.17" stop-color="#de452f"/><stop offset="0.2" stop-color="#e05137"/><stop offset="0.23" stop-color="#e25c41"/><stop offset="0.25" stop-color="#e4684a"/><stop offset="0.28" stop-color="#e67454"/><stop offset="0.3" stop-color="#e98460"/><stop offset="0.33" stop-color="#ec936c"/><stop offset="0.35" stop-color="#efa378"/><stop offset="0.38" stop-color="#f1b383"/><stop offset="0.4" stop-color="#f3c48e"/><stop offset="0.42" stop-color="#f6d49a"/><stop offset="0.45" stop-color="#f7e1a6"/><stop offset="0.47" stop-color="#f9edb2"/><stop offset="0.5" stop-color="#fbf8be"/><stop offset="0.53" stop-color="#f1f2be"/><stop offset="0.55" stop-color="#e7eabc"/><stop offset="0.57" stop-color="#dbe2b9"/><stop offset="0.6" stop-color="#cfd9b6"/><stop offset="0.62" stop-color="#c3d0b4"/><stop offset="0.65" stop-color="#b6c7b5"/><stop offset="0.68" stop-color="#a9bdb5"/><stop offset="0.7" stop-color="#9cb3b5"/><stop offset="0.72" stop-color="#8faab6"/><stop offset="0.75" stop-color="#7f9eb5"/><stop offset="0.78" stop-color="#6f92b5"/><stop offset="0.8" stop-color="#5e87b4"/><stop offset="0.82" stop-color="#517eb3"/><stop offset="0.85" stop-color="#4475b3"/><stop offset="0.88" stop-color="#3a6eb2"/><stop offset="0.9" stop-color="#396db2"/><stop offset="0.93" stop-color="#386cb1"/><stop offset="0.95" stop-color="#376bb1"/><stop offset="0.97" stop-color="#366ab1"/><stop offset="1" stop-color="#3569b0"/></linearGradient>
<rect x="970" y="748" width="20.8" height="255.7" fill="url(#cbg2)"/>
<line x1="970.3" y1="758" x2="990.8" y2="758" stroke="#ffffff" stroke-opacity="0.8" stroke-width="1.5" stroke-dasharray="6 8.5"/>
<text x="1002.5" y="766.3" font-size="23" textLength="13.81" lengthAdjust="spacingAndGlyphs">2</text>
<line x1="970.3" y1="816.88" x2="990.8" y2="816.88" stroke="#ffffff" stroke-opacity="0.8" stroke-width="1.5" stroke-dasharray="6 8.5"/>
<text x="1002.5" y="825.17" font-size="23" textLength="13.81" lengthAdjust="spacingAndGlyphs">1</text>
<line x1="970.3" y1="875.75" x2="990.8" y2="875.75" stroke="#ffffff" stroke-opacity="0.8" stroke-width="1.5" stroke-dasharray="6 8.5"/>
<text x="1002.5" y="884.05" font-size="23" textLength="13.81" lengthAdjust="spacingAndGlyphs">0</text>
<line x1="970.3" y1="934.62" x2="990.8" y2="934.62" stroke="#ffffff" stroke-opacity="0.8" stroke-width="1.5" stroke-dasharray="6 8.5"/>
<text x="1002.5" y="942.92" font-size="23" textLength="24.91" lengthAdjust="spacingAndGlyphs">−1</text>
<line x1="970.3" y1="993.5" x2="990.8" y2="993.5" stroke="#ffffff" stroke-opacity="0.8" stroke-width="1.5" stroke-dasharray="6 8.5"/>
<text x="1002.5" y="1001.8" font-size="23" textLength="24.91" lengthAdjust="spacingAndGlyphs">−2</text>
<path d="M1129.3,24 H1128.05 V26.57 H1129.3 M1129.3,26.57 H1127.98 V29.74 H1129.3 M1129.3,29.74 H1128.62 V34.05 H1129.3 M1129.3,34.05 H1127.7 V35.61 H1129.3 M1129.3,35.61 H1128.42 V38.28 H1129.3 M1129.3,38.28 H1128.14 V44.26 H1129.3 M1129.3,44.26 H1128.13 V49.52 H1129.3 M1129.3,49.52 H1128.52 V53.9 H1129.3 M1129.3,53.9 H1127.66 V58.25 H1129.3 M1129.3,58.25 H1127.81 V62.11 H1129.3 M1129.3,62.11 H1128.62 V66.63 H1129.3 M1129.3,66.63 H1127.99 V71.54 H1129.3 M1129.3,71.54 H1128.66 V74.4 H1129.3 M1129.3,74.4 H1128.13 V79.79 H1129.3 M1129.3,79.79 H1127.65 V84.53 H1129.3 M1129.3,84.53 H1127.59 V89.24 H1129.3 M1129.3,89.24 H1127.74 V92.52 H1129.3 M1129.3,92.52 H1127.58 V96.02 H1129.3 M1129.3,96.02 H1128.58 V101.47 H1129.3 M1129.3,101.47 H1128.44 V103.59 H1129.3 M1129.3,103.59 H1128.18 V109.43 H1129.3 M1129.3,109.43 H1128.34 V113.75 H1129.3 M1129.3,113.75 H1128.24 V117.53 H1129.3 M1129.3,117.53 H1128 V120.61 H1129.3 M1129.3,120.61 H1127.61 V124.74 H1129.3 M1129.3,124.74 H1127.59 V129.31 H1129.3 M1129.3,129.31 H1127.51 V134.66 H1129.3 M1129.3,134.66 H1128.5 V139.19 H1129.3 M1129.3,139.19 H1127.54 V144.56 H1129.3 M1129.3,144.56 H1128.02 V150.13 H1129.3 M1129.3,150.13 H1128.45 V154.84 H1129.3 M1129.3,154.84 H1128.01 V160.08 H1129.3 M1129.3,160.08 H1128.62 V162.87 H1129.3 M1129.3,162.87 H1127.51 V168.21 H1129.3 M1129.3,168.21 H1127.74 V170.11 H1129.3 M1129.3,170.11 H1128.52 V173.45 H1129.3 M1129.3,173.45 H1127.78 V176.28 H1129.3 M1129.3,176.28 H1128.65 V181.7 H1129.3 M1129.3,181.7 H1128.65 V185.97 H1129.3 M1129.3,185.97 H1128.3 V190.7 H1129.3 M1129.3,190.7 H1127.52 V196.17 H1129.3 M1129.3,196.17 H1127.5 V199.94 H1129.3 M1129.3,199.94 H1128.61 V202.83 H1129.3 M1129.3,202.83 H1128.66 V207.03 H1129.3 M1129.3,207.03 H1128.21 V209.42 H1129.3 M1129.3,209.42 H1128.51 V213.67 H1129.3 M1129.3,213.67 H1127.66 V215.36 H1129.3 M1129.3,215.36 H1127.55 V218.27 H1129.3 M1129.3,218.27 H1128.25 V223.81 H1129.3 M1129.3,223.81 H1128.08 V227.38 H1129.3 M1129.3,227.38 H1127.99 V231.78 H1129.3 M1129.3,231.78 H1127.96 V235.79 H1129.3 M1129.3,235.79 H1128.09 V241.53 H1129.3 M1129.3,241.53 H1127.84 V244.97 H1129.3 M1129.3,244.97 H1128.34 V247.54 H1129.3 M1129.3,247.54 H1128.07 V253.44 H1129.3 M1129.3,253.44 H1128.69 V257.4 H1129.3 M1129.3,257.4 H1128 V260.77 H1129.3 M1129.3,260.77 H1127.96 V262.36 H1129.3 M1129.3,262.36 H1128.63 V266.71 H1129.3 M1129.3,266.71 H1128.14 V271.03 H1129.3 M1129.3,271.03 H1128.28 V275.59 H1129.3 M1129.3,275.59 H1127.81 V280.27 H1129.3 M1129.3,280.27 H1128.63 V281.87 H1129.3 M1129.3,281.87 H1127.54 V286.41 H1129.3 M1129.3,286.41 H1128.15 V289.04 H1129.3 M1129.3,289.04 H1128.32 V293.21 H1129.3 M1129.3,293.21 H1128.32 V296.34 H1129.3 M1129.3,296.34 H1127.99 V299.51 H1129.3 M1129.3,299.51 H1128.25 V302.36 H1129.3 M1129.3,302.36 H1128.67 V307.33 H1129.3 M1129.3,307.33 H1127.82 V311.39 H1129.3 M1129.3,311.39 H1128.43 V314.29 H1129.3 M1129.3,314.29 H1128.41 V319.41 H1129.3 M1129.3,319.41 H1128.18 V321.75 H1129.3 M1129.3,321.75 H1128.58 V326.39 H1129.3 M1129.3,326.39 H1128.3 V329.34 H1129.3 M1129.3,329.34 H1128.17 V334.59 H1129.3 M1129.3,334.59 H1128.5 V339.94 H1129.3 M1129.3,339.94 H1127.92 V342.96 H1129.3 M1129.3,342.96 H1128.16 V348.44 H1129.3 M1129.3,348.44 H1128.55 V350.95 H1129.3 M1129.3,350.95 H1128.47 V354.83 H1129.3 M1129.3,354.83 H1127.69 V359.96 H1129.3 M1129.3,359.96 H1128.37 V362.29 H1129.3 M1129.3,362.29 H1127.93 V367.42 H1129.3 M1129.3,367.42 H1128.29 V372.55 H1129.3 M1129.3,372.55 H1128.35 V374.64 H1129.3 M1129.3,374.64 H1128.37 V379.71 H1129.3 M1129.3,379.71 H1128.2 V382.77 H1129.3 M1129.3,382.77 H1128.21 V386.16 H1129.3 M1129.3,386.16 H1128.51 V391.8 H1129.3 M1129.3,391.8 H1127.57 V393.32 H1129.3 M1129.3,393.32 H1127.52 V398.78 H1129.3 M1129.3,398.78 H1127.56 V402.23 H1129.3 M1129.3,402.23 H1128.43 V407.91 H1129.3 M1129.3,407.91 H1127.7 V412.76 H1129.3 M1129.3,412.76 H1128.08 V417.24 H1129.3 M1129.3,417.24 H1128.29 V420.05 H1129.3 M1129.3,420.05 H1128.62 V422.57 H1129.3 M1129.3,422.57 H1128.36 V426.72 H1129.3 M1129.3,426.72 H1128.65 V431.86 H1129.3 M1129.3,431.86 H1127.87 V437.43 H1129.3 M1129.3,437.43 H1127.62 V443.09 H1129.3 M1129.3,443.09 H1128.01 V448.64 H1129.3 M1129.3,448.64 H1127.81 V450.2 H1129.3 M1129.3,450.2 H1128.34 V452.47 H1129.3 M1129.3,452.47 H1128.07 V456.95 H1129.3 M1129.3,456.95 H1127.57 V459 H1129.3" fill="none" stroke="#2a2a2a" stroke-width="0.8"/>
<path d="M1127.3,26 H1124.4 V421 H1127.3" fill="none" stroke="#555" stroke-width="0.9"/>
<path d="M1127.3,70 H1126 V205 H1127.3" fill="none" stroke="#777" stroke-width="0.9"/>
<path d="M1127.3,300 H1126.2 V440 H1127.3" fill="none" stroke="#777" stroke-width="0.9"/>
<path d="M636.8,648 H635.31 V652.3 H636.8 M636.8,652.3 H635.07 V657.38 H636.8 M636.8,657.38 H635.09 V662.21 H636.8 M636.8,662.21 H635.64 V663.84 H636.8 M636.8,663.84 H635.42 V669.59 H636.8 M636.8,669.59 H636.06 V675.14 H636.8 M636.8,675.14 H635.9 V678.75 H636.8 M636.8,678.75 H635.51 V682.7 H636.8 M636.8,682.7 H635.94 V684.26 H636.8 M636.8,684.26 H635.1 V687.02 H636.8 M636.8,687.02 H636.01 V691.96 H636.8 M636.8,691.96 H636.03 V697.05 H636.8 M636.8,697.05 H636.05 V701.33 H636.8 M636.8,701.33 H635.15 V702.83 H636.8 M636.8,702.83 H635.94 V705.28 H636.8 M636.8,705.28 H635.15 V711.2 H636.8 M636.8,711.2 H635.05 V714 H636.8 M636.8,714 H635.39 V717.93 H636.8 M636.8,717.93 H635.07 V720.35 H636.8 M636.8,720.35 H635.04 V724.96 H636.8 M636.8,724.96 H635.84 V730.48 H636.8 M636.8,730.48 H636 V733.6 H636.8 M636.8,733.6 H636.12 V735.76 H636.8 M636.8,735.76 H635.48 V738.61 H636.8 M636.8,738.61 H635.39 V740.13 H636.8 M636.8,740.13 H635.83 V743.15 H636.8 M636.8,743.15 H635.62 V748.33 H636.8 M636.8,748.33 H635.62 V751.25 H636.8 M636.8,751.25 H636.13 V755.93 H636.8 M636.8,755.93 H636.17 V761.81 H636.8 M636.8,761.81 H635.19 V766.69 H636.8 M636.8,766.69 H635.25 V768.27 H636.8 M636.8,768.27 H635.51 V771.42 H636.8 M636.8,771.42 H636.14 V772.96 H636.8 M636.8,772.96 H635.05 V775.27 H636.8 M636.8,775.27 H635.29 V777.66 H636.8 M636.8,777.66 H635.07 V783.34 H636.8 M636.8,783.34 H635.77 V786.39 H636.8 M636.8,786.39 H635.27 V790.25 H636.8 M636.8,790.25 H635.3 V792.24 H636.8 M636.8,792.24 H635.17 V797.32 H636.8 M636.8,797.32 H635.07 V798.99 H636.8 M636.8,798.99 H635.79 V800.9 H636.8 M636.8,800.9 H635.1 V805.15 H636.8 M636.8,805.15 H635.09 V808.18 H636.8 M636.8,808.18 H635.83 V812.13 H636.8 M636.8,812.13 H635.99 V815.06 H636.8 M636.8,815.06 H636.02 V816.91 H636.8 M636.8,816.91 H635 V821.51 H636.8 M636.8,821.51 H636.14 V823.74 H636.8 M636.8,823.74 H635.56 V829.68 H636.8 M636.8,829.68 H635.92 V833 H636.8 M636.8,833 H635.21 V837.18 H636.8 M636.8,837.18 H635.69 V840.73 H636.8 M636.8,840.73 H635.1 V842.48 H636.8 M636.8,842.48 H635.61 V844.12 H636.8 M636.8,844.12 H636.04 V849.4 H636.8 M636.8,849.4 H635.06 V854.19 H636.8 M636.8,854.19 H635.25 V858.53 H636.8 M636.8,858.53 H635.68 V860.51 H636.8 M636.8,860.51 H635.19 V862.68 H636.8 M636.8,862.68 H635.66 V865.51 H636.8 M636.8,865.51 H635.18 V871.5 H636.8 M636.8,871.5 H635.66 V877.39 H636.8 M636.8,877.39 H635.32 V881.09 H636.8 M636.8,881.09 H635.85 V884.75 H636.8 M636.8,884.75 H636.02 V888.06 H636.8 M636.8,888.06 H635.01 V891.26 H636.8 M636.8,891.26 H635.45 V897.08 H636.8 M636.8,897.08 H635.79 V900.83 H636.8 M636.8,900.83 H635.87 V902.73 H636.8 M636.8,902.73 H635.16 V907.75 H636.8 M636.8,907.75 H635.26 V910.87 H636.8 M636.8,910.87 H635.37 V915.86 H636.8 M636.8,915.86 H635.29 V920.35 H636.8 M636.8,920.35 H635.35 V923.48 H636.8 M636.8,923.48 H635.62 V926.25 H636.8 M636.8,926.25 H635.37 V931.21 H636.8 M636.8,931.21 H635.07 V934.03 H636.8 M636.8,934.03 H635.5 V938.46 H636.8 M636.8,938.46 H635.54 V940.01 H636.8 M636.8,940.01 H635.39 V942.64 H636.8 M636.8,942.64 H635.22 V946.22 H636.8 M636.8,946.22 H635.24 V950.63 H636.8 M636.8,950.63 H635.43 V953.7 H636.8 M636.8,953.7 H635.21 V958.52 H636.8 M636.8,958.52 H635.19 V961.59 H636.8 M636.8,961.59 H635.37 V967.01 H636.8 M636.8,967.01 H635.05 V972.9 H636.8 M636.8,972.9 H635.56 V976.73 H636.8 M636.8,976.73 H635.2 V978.98 H636.8 M636.8,978.98 H635.63 V984.7 H636.8 M636.8,984.7 H635.34 V989.31 H636.8 M636.8,989.31 H635.99 V994.1 H636.8 M636.8,994.1 H635.5 V999.11 H636.8 M636.8,999.11 H635.7 V1003.6 H636.8 M636.8,1003.6 H635.27 V1007.91 H636.8 M636.8,1007.91 H635.34 V1012.28 H636.8 M636.8,1012.28 H636.01 V1013.9 H636.8 M636.8,1013.9 H635.42 V1017.39 H636.8 M636.8,1017.39 H635.38 V1019.87 H636.8 M636.8,1019.87 H636.15 V1024.21 H636.8 M636.8,1024.21 H635.93 V1027.83 H636.8 M636.8,1027.83 H636.04 V1029.58 H636.8 M636.8,1029.58 H635.98 V1032.5 H636.8 M636.8,1032.5 H636.16 V1034.87 H636.8 M636.8,1034.87 H635.74 V1038.47 H636.8 M636.8,1038.47 H635.49 V1042.72 H636.8 M636.8,1042.72 H635.12 V1045.29 H636.8 M636.8,1045.29 H635.71 V1046.79 H636.8 M636.8,1046.79 H635.71 V1049.55 H636.8 M636.8,1049.55 H635.2 V1051.57 H636.8 M636.8,1051.57 H636.16 V1054.75 H636.8 M636.8,1054.75 H636.09 V1059.01 H636.8 M636.8,1059.01 H635.79 V1062.96 H636.8 M636.8,1062.96 H635.05 V1067.08 H636.8 M636.8,1067.08 H635.7 V1072.26 H636.8 M636.8,1072.26 H635.43 V1077.42 H636.8 M636.8,1077.42 H636.03 V1080 H636.8" fill="none" stroke="#2a2a2a" stroke-width="0.8"/>
<path d="M634.8,753 H632.5 V930 H634.8" fill="none" stroke="#555" stroke-width="0.9"/>
<path d="M634.8,880 H634 V965 H634.8" fill="none" stroke="#777" stroke-width="0.9"/>
<text transform="translate(1183.6 474) rotate(-90)" font-size="29" text-anchor="end" textLength="64.8" lengthAdjust="spacingAndGlyphs">Col-0</text>
<text transform="translate(1263.4 473.4) rotate(-90)" font-size="29.5" text-anchor="end" font-style="italic" textLength="74.5" lengthAdjust="spacingAndGlyphs">gde1-1</text>
<text transform="translate(1325.6 474.2) rotate(-90)" font-size="29.5" text-anchor="end" font-style="italic" textLength="59" lengthAdjust="spacingAndGlyphs">clsy3</text>
<text transform="translate(1359 474.2) rotate(-90)" font-size="29.5" text-anchor="end" font-style="italic" textLength="59" lengthAdjust="spacingAndGlyphs">clsy4</text>
<text transform="translate(1411.6 472.5) rotate(-90)" font-size="29.5" text-anchor="end" font-style="italic" textLength="100" lengthAdjust="spacingAndGlyphs">GDE1-3F</text>
<text transform="translate(1443 475) rotate(-90)" font-size="29.5" text-anchor="end" font-style="italic" textLength="72.5" lengthAdjust="spacingAndGlyphs">gde1-1</text>
<text transform="translate(689.6 1094.2) rotate(-90)" font-size="29" text-anchor="end" textLength="64.8" lengthAdjust="spacingAndGlyphs">Col-0</text>
<text transform="translate(770.5 1094.2) rotate(-90)" font-size="29.5" text-anchor="end" font-style="italic" textLength="73.5" lengthAdjust="spacingAndGlyphs">gde1-1</text>
<text transform="translate(830 1094.2) rotate(-90)" font-size="29.5" text-anchor="end" font-style="italic" textLength="59" lengthAdjust="spacingAndGlyphs">clsy3</text>
<text transform="translate(862 1094.2) rotate(-90)" font-size="29.5" text-anchor="end" font-style="italic" textLength="59" lengthAdjust="spacingAndGlyphs">clsy4</text>
<text transform="translate(918 1094.2) rotate(-90)" font-size="29.5" text-anchor="end" font-style="italic" textLength="99" lengthAdjust="spacingAndGlyphs">GDE1-3F</text>
<text transform="translate(950.5 1094.2) rotate(-90)" font-size="29.5" text-anchor="end" font-style="italic" textLength="73.5" lengthAdjust="spacingAndGlyphs">gde1-1</text>
<path d="M1472.54,879.95 L1524.09,882.21 M1472.48,881.21 L1524.01,883.85 M1472.3,884.18 L1523.78,887.71 M1471.38,893.65 L1522.58,900.07 M1469.62,904.74 L1520.28,914.51 M1468.86,908.43 L1519.3,919.33 M1467.82,912.96 L1517.94,925.22 M1467.48,914.33 L1517.5,927.01 M1466.17,919.18 L1515.8,933.33 M1465.41,921.78 L1514.8,936.73 M1462.2,931.35 L1510.62,949.19 M1461.12,934.2 L1509.21,952.9 M1460.56,935.62 L1508.48,954.75 M1459.5,938.22 L1507.1,958.15 M1458.17,941.32 L1505.36,962.18 M1457.24,943.39 L1504.15,964.88 M1456.46,945.05 L1503.14,967.04 M1455.07,947.94 L1501.32,970.81 M1453.76,950.53 L1499.61,974.19 M1453.35,951.32 L1499.08,975.22 M1451.43,954.89 L1496.58,979.87 M1450.32,956.87 L1495.13,982.44 M1448.84,959.41 L1493.2,985.76 M1448.11,960.62 L1492.25,987.34 M1446.68,962.94 L1490.4,990.36 M1446.24,963.65 L1489.82,991.28 M1445.52,964.77 L1488.88,992.74 M1444.61,966.16 L1487.7,994.56 M1443.14,968.36 L1485.77,997.43 M1442.38,969.46 L1484.79,998.86 M1441.27,971.04 L1483.35,1000.91 M1440.37,972.3 L1482.17,1002.56 M1439.54,973.43 L1481.09,1004.03 M1438.2,975.22 L1479.35,1006.37 M1437.68,975.92 L1478.66,1007.27 M1436.52,977.41 L1477.16,1009.21 M1435.27,978.99 L1475.52,1011.28 M1434.4,980.06 L1474.39,1012.68 M1433.14,981.59 L1472.75,1014.66 M1432.32,982.57 L1471.67,1015.94 M1431.13,983.96 L1470.13,1017.75 M1430.62,984.55 L1469.46,1018.52 M1429.36,985.97 L1467.82,1020.37 M1428.19,987.26 L1466.3,1022.05 M1427.26,988.27 L1465.08,1023.37 M1425.99,989.63 L1463.42,1025.14 M1424.96,990.7 L1462.09,1026.53 M1423.64,992.05 L1460.37,1028.3 M1420.03,995.61 L1455.66,1032.93 M1419.12,996.47 L1454.48,1034.05 M1417.94,997.56 L1452.94,1035.48 M1416.92,998.5 L1451.6,1036.71 M1415.67,999.62 L1449.98,1038.16 M1413.83,1001.24 L1447.58,1040.27 M1412.89,1002.04 L1446.36,1041.32 M1411.71,1003.04 L1444.82,1042.62 M1410.91,1003.71 L1443.78,1043.49 M1409.12,1005.17 L1441.44,1045.39 M1408.43,1005.72 L1440.55,1046.1 M1406.96,1006.88 L1438.63,1047.61 M1405.07,1008.32 L1436.16,1049.5 M1404.15,1009.01 L1434.96,1050.4 M1402.94,1009.9 L1433.4,1051.56 M1401.52,1010.93 L1431.53,1052.9 M1400.04,1011.97 L1429.62,1054.26 M1398.8,1012.84 L1427.99,1055.38 M1398.06,1013.34 L1427.03,1056.04 M1396.94,1014.1 L1425.57,1057.02 M1395.3,1015.18 L1423.43,1058.43 M1394.01,1016.01 L1421.75,1059.52 M1392.72,1016.82 L1420.07,1060.58 M1390.55,1018.15 L1417.25,1062.31 M1389.26,1018.93 L1415.56,1063.32 M1388.5,1019.38 L1414.57,1063.91 M1385.29,1021.21 L1410.38,1066.29 M1383.98,1021.93 L1408.68,1067.23 M1381.63,1023.18 L1405.62,1068.87 M1380.57,1023.74 L1404.24,1069.59 M1379.16,1024.46 L1402.4,1070.53 M1377.5,1025.29 L1400.24,1071.61 M1375.38,1026.31 L1397.47,1072.94 M1374.08,1026.92 L1395.78,1073.73 M1371.93,1027.9 L1392.98,1075.01 M1369.77,1028.84 L1390.17,1076.24 M1368.73,1029.28 L1388.81,1076.82 M1367.25,1029.9 L1386.87,1077.62 M1364.41,1031.04 L1383.18,1079.11 M1363.34,1031.45 L1381.79,1079.64 M1362.17,1031.9 L1380.26,1080.22 M1354.78,1034.47 L1370.63,1083.58 M1352.4,1035.22 L1367.53,1084.55 M1349.18,1036.17 L1363.33,1085.79 M1346.59,1036.89 L1359.95,1086.73 M1344.97,1037.32 L1357.85,1087.28 M1343.33,1037.73 L1355.7,1087.82 M1340.43,1038.42 L1351.93,1088.72 M1336.96,1039.17 L1347.41,1089.71 M1335.5,1039.47 L1345.51,1090.09 M1332.34,1040.06 L1341.39,1090.86 M1323.94,1041.34 L1330.45,1092.53 M1322.43,1041.53 L1328.47,1092.77 M1315.02,1042.24 L1318.81,1093.7 M1310.42,1042.52 L1312.82,1094.06 M1306.22,1042.66 L1307.35,1094.25 M1294.58,1042.52 L1292.18,1094.06 M1292.53,1042.41 L1289.51,1093.92 M1291.63,1042.35 L1288.33,1093.85 M1289.64,1042.21 L1285.75,1093.67 M1288.05,1042.09 L1283.67,1093.5 M1285.85,1041.88 L1280.8,1093.24 M1284.38,1041.73 L1278.88,1093.04 M1283.58,1041.64 L1277.84,1092.92 M1281.71,1041.43 L1275.41,1092.64 M1280.55,1041.28 L1273.89,1092.45 M1278.07,1040.94 L1270.66,1092 M1276.56,1040.71 L1268.69,1091.71 M1275.71,1040.58 L1267.59,1091.54 M1273.73,1040.25 L1265.01,1091.11 M1272.22,1039.98 L1263.03,1090.76 M1271.23,1039.8 L1261.75,1090.52 M1264.91,1038.5 L1253.51,1088.82 M1262.36,1037.9 L1250.19,1088.04 M1258.69,1036.96 L1245.4,1086.82 M1256.23,1036.29 L1242.2,1085.95 M1254.46,1035.78 L1239.9,1085.28 M1250.63,1034.6 L1234.91,1083.75 M1248.35,1033.86 L1231.93,1082.77 M1243.2,1032.04 L1225.23,1080.4 M1241.97,1031.57 L1223.62,1079.8 M1240.74,1031.1 L1222.02,1079.18 M1240,1030.81 L1221.05,1078.8 M1238.98,1030.4 L1219.72,1078.27 M1236.88,1029.54 L1216.98,1077.15 M1235.55,1028.98 L1215.25,1076.42 M1235.15,1028.81 L1214.74,1076.2 M1233.5,1028.08 L1212.58,1075.25 M1232.66,1027.71 L1211.49,1074.77 M1230.73,1026.83 L1208.97,1073.61 M1229.48,1026.24 L1207.34,1072.85 M1228.87,1025.95 L1206.55,1072.47 M1227.3,1025.18 L1204.5,1071.47 M1226,1024.54 L1202.8,1070.63 M1225.05,1024.06 L1201.57,1070.01 M1223.24,1023.12 L1199.22,1068.79 M1222.47,1022.71 L1198.21,1068.25 M1221.47,1022.17 L1196.9,1067.55 M1219.95,1021.34 L1194.92,1066.46 M1218.57,1020.57 L1193.12,1065.46 M1217.88,1020.17 L1192.23,1064.95 M1216.59,1019.43 L1190.55,1063.97 M1214.77,1018.35 L1188.17,1062.56 M1213.92,1017.83 L1187.06,1061.89 M1212.95,1017.24 L1185.8,1061.12 M1207.36,1013.63 L1178.52,1056.41 M1205.78,1012.55 L1176.46,1055 M1203.29,1010.8 L1173.22,1052.73 M1200.82,1008.99 L1170,1050.37 M1198.14,1006.95 L1166.51,1047.72 M1196.57,1005.72 L1164.45,1046.11 M1194.41,1003.97 L1161.63,1043.82 M1192.51,1002.38 L1159.16,1041.76 M1189.44,999.72 L1155.16,1038.29 M1183.67,994.35 L1147.64,1031.29 M1180.43,991.11 L1143.42,1027.06 M1178.45,989.04 L1140.85,1024.37 M1177.71,988.24 L1139.87,1023.32 M1175.44,985.74 L1136.92,1020.08 M1172.82,982.73 L1133.5,1016.15 M1171.6,981.28 L1131.92,1014.26 M1169.85,979.13 L1129.63,1011.46 M1166.84,975.29 L1125.72,1006.45 M1165.58,973.6 L1124.07,1004.25 M1160.02,965.6 L1116.83,993.83 M1156.57,960.1 L1112.33,986.66 M1146.76,941.15 L1099.54,961.96 M1145.79,938.91 L1098.28,959.04 M1144.1,934.77 L1096.08,953.65 M1141.97,929.04 L1093.3,946.18 M1140.44,924.49 L1091.3,940.25 M1138.98,919.71 L1089.4,934.03 M1137.46,914.08 L1087.42,926.68 M1136.39,909.59 L1086.03,920.84 M1135.18,903.69 L1084.46,913.14 M1134.93,902.3 L1084.13,911.34 M1133.98,896.38 L1082.89,903.61 M1133.4,891.83 L1082.14,897.69 M1132.64,883.33 L1081.15,886.61 M1132.6,882.65 L1081.09,885.73 M1132.53,881.39 L1081,884.08 M1132.46,879.78 L1080.9,881.99 M1132.41,878.48 L1080.84,880.3 M1132.37,877.31 L1080.79,878.77 M1132.34,876.01 L1080.75,877.07 M1132.31,873.97 L1080.71,874.41 M1132.3,873.15 L1080.7,873.34 M1132.3,871.37 L1080.7,871.03 M1132.31,870.37 L1080.72,869.73 M1132.33,869.58 L1080.73,868.69 M1132.38,867.24 L1080.81,865.65 M1132.42,866.09 L1080.86,864.14 M1132.48,864.62 L1080.94,862.23 M1132.55,863.33 L1081.02,860.56 M1132.62,862.09 L1081.12,858.93 M1132.66,861.49 L1081.16,858.15 M1132.77,859.82 L1081.32,855.98 M1133.33,853.78 L1082.05,848.1 M1133.82,849.82 L1082.68,842.94 M1134.17,847.33 L1083.14,839.7 M1135.55,839.4 L1084.93,829.37 M1136.02,837.12 L1085.54,826.4 M1136.16,836.47 L1085.73,825.55 M1136.64,834.31 L1086.36,822.73 M1136.9,833.18 L1086.7,821.26 M1137.26,831.7 L1087.17,819.33 M1137.81,829.53 L1087.89,816.5 M1138.23,827.97 L1088.43,814.47 M1138.5,826.99 L1088.78,813.19 M1138.98,825.28 L1089.41,810.97 M1139.22,824.46 L1089.72,809.89 M1139.72,822.78 L1090.37,807.71 M1140.44,820.48 L1091.31,804.71 M1140.78,819.46 L1091.75,803.38 M1141.26,818.01 L1092.37,801.5 M1141.85,816.29 L1093.15,799.25 M1142.08,815.63 L1093.45,798.38 M1142.84,813.53 L1094.44,795.65 M1145.26,807.36 L1097.59,787.61 M1149.18,798.6 L1102.7,776.2 M1149.72,797.49 L1103.4,774.75 M1151.79,793.41 L1106.1,769.43 M1152.18,792.68 L1106.6,768.49 M1153.62,790.03 L1108.48,765.03 M1155.44,786.82 L1110.86,760.84 M1156.96,784.27 L1112.83,757.52 M1157.9,782.73 L1114.06,755.51 M1161.06,777.83 L1118.17,749.13 M1165.19,771.93 L1123.56,741.45 M1166.47,770.2 L1125.24,739.19 M1169.97,765.71 L1129.8,733.33 M1181.06,753.26 L1144.24,717.1 M1182.46,751.84 L1146.07,715.26 M1184.38,749.96 L1148.57,712.81 M1186.02,748.4 L1150.71,710.78 M1188.35,746.26 L1153.74,707.99 M1189.08,745.6 L1154.69,707.13 M1191.6,743.39 L1157.98,704.25 M1192.72,742.44 L1159.43,703.01 M1194.78,740.73 L1162.12,700.78 M1197.04,738.91 L1165.06,698.41 M1200.88,735.97 L1170.07,694.57 M1203.31,734.19 L1173.24,692.26 M1206.59,731.9 L1177.51,689.27 M1207.71,731.14 L1178.98,688.28 M1213.08,727.68 L1185.97,683.78 M1215.46,726.24 L1189.07,681.9 M1217.13,725.26 L1191.25,680.62 M1217.57,725.01 L1191.82,680.29 M1219.45,723.94 L1194.27,678.9 M1221.22,722.96 L1196.58,677.63 M1223.85,721.56 L1200,675.8 M1225.5,720.71 L1202.16,674.69 M1227.24,719.84 L1204.42,673.56 M1228.27,719.34 L1205.77,672.9 M1229.73,718.64 L1207.66,672 M1232.44,717.39 L1211.2,670.36 M1234.03,716.68 L1213.28,669.44 M1236.71,715.53 L1216.77,667.94 M1238.3,714.87 L1218.84,667.08 M1239.2,714.51 L1220.01,666.61 M1239.79,714.27 L1220.78,666.3 M1241.82,713.48 L1223.42,665.28 M1242.54,713.21 L1224.36,664.92 M1244.14,712.62 L1226.45,664.15 M1245.66,712.07 L1228.42,663.44 M1246.1,711.92 L1229,663.23 M1247.33,711.49 L1230.6,662.68 M1248.57,711.07 L1232.22,662.13 M1250.27,710.51 L1234.44,661.4 M1251.25,710.2 L1235.71,661 M1252.84,709.7 L1237.79,660.35 M1254.22,709.29 L1239.59,659.81 M1254.97,709.07 L1240.56,659.52 M1256.68,708.58 L1242.78,658.89 M1257.57,708.34 L1243.95,658.57 M1262.03,707.18 L1249.76,657.06 M1263.96,706.72 L1252.27,656.46 M1265.34,706.41 L1254.07,656.05 M1265.91,706.28 L1254.82,655.88 M1267.75,705.88 L1257.22,655.37 M1269.04,705.62 L1258.89,655.03 M1270.17,705.4 L1260.37,654.74 M1272.53,704.96 L1263.45,654.17 M1273.84,704.73 L1265.15,653.87 M1274.86,704.56 L1266.48,653.64 M1276.89,704.24 L1269.13,653.22 M1278.14,704.05 L1270.75,652.98 M1279.46,703.87 L1272.48,652.74 M1283.47,703.37 L1277.7,652.09 M1285.8,703.12 L1280.74,651.77 M1289.46,702.8 L1285.5,651.35 M1291.72,702.64 L1288.45,651.15 M1293.3,702.55 L1290.51,651.02 M1296.04,702.42 L1294.09,650.86 M1302.32,702.3 L1302.27,650.7 M1303.83,702.31 L1304.23,650.71 M1306.1,702.34 L1307.19,650.75 M1308.75,702.41 L1310.64,650.85 M1312.14,702.57 L1315.07,651.06 M1314.26,702.71 L1317.83,651.23 M1316.68,702.89 L1320.98,651.47 M1319.05,703.11 L1324.07,651.75 M1320.09,703.21 L1325.42,651.89 M1329.56,704.47 L1337.77,653.52 M1330.86,704.68 L1339.46,653.8 M1333.11,705.08 L1342.39,654.32 M1334.69,705.37 L1344.46,654.7 M1335.6,705.55 L1345.63,654.93 M1337.3,705.9 L1347.85,655.39 M1338.21,706.09 L1349.04,655.64 M1340.56,706.61 L1352.1,656.32 M1341.93,706.93 L1353.89,656.73 M1354.42,710.41 L1370.16,661.27 M1359.31,712.06 L1376.53,663.42 M1365.18,714.26 L1384.19,666.29 M1366.92,714.96 L1386.45,667.2 M1375.45,718.73 L1397.56,672.11 M1376.45,719.2 L1398.86,672.73 M1378.61,720.27 L1401.69,674.12 M1379.92,720.93 L1403.4,674.98 M1381.45,721.72 L1405.38,676 M1382.83,722.45 L1407.18,676.96 M1383.64,722.89 L1408.24,677.53 M1385.67,724 L1410.88,678.98 M1386.32,724.37 L1411.73,679.46 M1388.6,725.68 L1414.7,681.17 M1389.99,726.51 L1416.51,682.25 M1390.68,726.92 L1417.41,682.79 M1392.73,728.18 L1420.08,684.43 M1393.72,728.81 L1421.37,685.24 M1394.92,729.58 L1422.94,686.25 M1396.82,730.83 L1425.42,687.88 M1397.56,731.32 L1426.38,688.52 M1398.7,732.09 L1427.86,689.52 M1400.22,733.15 L1429.85,690.9 M1401.7,734.2 L1431.77,692.27 M1406.8,738 L1438.42,697.22 M1410.74,741.15 L1443.56,701.33 M1411.32,741.63 L1444.31,701.96 M1412.97,743.02 L1446.46,703.77 M1413.99,743.9 L1447.79,704.91 M1415.83,745.52 L1450.19,707.02 M1416.63,746.24 L1451.23,707.96 M1418.26,747.73 L1453.35,709.9 M1418.68,748.12 L1453.9,710.41 M1420.72,750.05 L1456.56,712.93 M1421.16,750.48 L1457.13,713.49 M1423.09,752.39 L1459.65,715.98 M1423.61,752.92 L1460.33,716.66 M1424.63,753.96 L1461.66,718.02 M1426.09,755.48 L1463.56,720 M1427.5,756.99 L1465.4,721.97 M1428.25,757.81 L1466.38,723.04 M1434.54,765.11 L1474.57,732.55 M1437.1,768.33 L1477.91,736.75 M1442.39,775.56 L1484.8,746.16 M1443.71,777.48 L1486.52,748.68 M1444.54,778.74 L1487.61,750.31 M1446.05,781.05 L1489.56,753.33 M1446.52,781.8 L1490.18,754.3 M1448.36,784.8 L1492.58,758.21 M1449.08,786 L1493.52,759.77 M1450.24,788 L1495.03,762.38 M1451.26,789.8 L1496.35,764.72 M1452.17,791.47 L1497.55,766.91 M1452.9,792.82 L1498.49,768.66 M1453.61,794.19 L1499.43,770.45 M1454.97,796.86 L1501.19,773.92 M1455.62,798.19 L1502.04,775.66 M1456.48,799.99 L1503.17,778.01 M1457.69,802.62 L1504.74,781.43 M1458.43,804.28 L1505.7,783.6 M1458.96,805.51 L1506.4,785.21 M1459.76,807.39 L1507.43,787.66 M1460.58,809.42 L1508.5,790.29 M1461.31,811.3 L1509.46,792.74 M1461.97,813.03 L1510.32,795 M1464.52,820.36 L1513.64,804.55 M1465.39,823.16 L1514.78,808.2 M1466.34,826.39 L1516.01,812.41 M1466.83,828.2 L1516.66,814.77 M1467.54,830.92 L1517.58,818.31 M1467.98,832.69 L1518.15,820.62 M1468.39,834.42 L1518.68,822.88 M1469,837.2 L1519.48,826.5 M1469.27,838.51 L1519.83,828.21 M1469.83,841.38 L1520.56,831.94 M1471.73,854.38 L1523.04,848.88 M1472.31,861.01 L1523.79,857.52" stroke="#2b3087" stroke-width="1.45" fill="none"/>
<path d="M1383.37,939.47 L1419.82,968.99 M1382.86,940.09 L1418.67,969.65 M1382.48,940.53 L1419.43,971.47 M1382.22,940.83 L1419.68,972.49 M1381.81,941.31 L1418.7,972.95 M1381.38,941.81 L1416.48,972.37 M1380.83,942.42 L1418.94,976.26 M1380.51,942.79 L1415.73,974.41 M1379.9,943.45 L1418,978.38 M1379.48,943.9 L1414.91,976.85 M1378.91,944.52 L1412.48,976.37 M1378.51,944.94 L1412.92,978.02 M1378.32,945.14 L1411.89,977.62 M1377.81,945.66 L1414.11,981.35 M1377.41,946.08 L1412.47,981.01 M1376.79,946.7 L1410.61,981.1 M1376.37,947.12 L1408.65,980.42 M1376.09,947.39 L1408.82,981.46 M1375.41,948.06 L1408.67,983.45 M1375.08,948.38 L1408.81,984.63 M1374.56,948.87 L1406.83,984.14 M1373.97,949.43 L1407.52,986.76 M1373.7,949.67 L1406.6,986.59 M1373.12,950.2 L1406.89,988.76 M1372.57,950.7 L1403.67,986.91 M1371.99,951.21 L1402.1,986.93 M1371.73,951.45 L1404.2,990.19 M1371.35,951.78 L1402.55,989.49 M1370.91,952.16 L1402.55,990.9 M1370.13,952.82 L1400.96,991.48 M1290.49,976.81 L1285.08,1023.85 M1289.39,976.68 L1283.21,1025.75 M1288.22,976.52 L1281.64,1024.5 M1286.67,976.3 L1278.82,1027.79 M1285.76,976.16 L1277.79,1025.5 M1284.9,976.02 L1276.48,1025.57 M1283.03,975.68 L1273.3,1027.22 M1281.58,975.39 L1272.18,1021.58 M1280.75,975.22 L1270.39,1024.15 M1279.85,975.03 L1269.39,1022.35 M1278.44,974.71 L1267.92,1019.36 M1277.28,974.43 L1265.09,1023.7 M1275.95,974.09 L1264.11,1019.42 M1274.44,973.68 L1260.67,1023.34 M1273.5,973.42 L1260.14,1019.9 M1271.79,972.91 L1256.69,1022.28 M1270.28,972.44 L1254.49,1021.43 M1269.58,972.21 L1254.5,1017.9 M1268.27,971.77 L1251.44,1020.58 M1266.46,971.12 L1250.63,1014.45 M1266.01,970.95 L1249.76,1014.78 M1264.74,970.47 L1247.25,1015.86 M1263.19,969.86 L1245.6,1013.42 M1262.55,969.6 L1244.23,1014.12 M1197.85,863.92 L1147.18,859.83 M1197.96,862.66 L1146.71,858.14 M1198.02,862.1 L1147.14,857.45 M1198.12,861.14 L1150.07,856.48 M1198.23,860.13 L1146.6,854.78 M1198.33,859.29 L1146.64,853.67 M1198.4,858.76 L1148.71,853.23 M1198.49,858.1 L1147.65,852.23 M1198.61,857.28 L1150.6,851.54 M1198.75,856.33 L1150.31,850.25 M1198.9,855.39 L1151.03,849.13 M1199.01,854.77 L1150.67,848.26 M1199.17,853.85 L1149.81,846.91 M1199.32,853.05 L1147.47,845.44 M1199.56,851.81 L1151.34,844.46 M1199.68,851.21 L1150.5,843.5 M1199.88,850.29 L1151.84,842.53 M1200.14,849.12 L1147.88,840.14 M1200.27,848.54 L1150.54,839.9 M1200.41,847.95 L1152.57,839.55 M1200.66,846.94 L1152.06,838.08 M1200.96,845.78 L1152.92,836.7 M1201.03,845.49 L1149.17,835.38 M1201.35,844.32 L1153.45,834.83 M1201.59,843.48 L1154.31,833.89 M1201.83,842.66 L1149.99,831.61 M1202.15,841.61 L1151.73,830.6 M1202.28,841.19 L1153.48,830.49 M1202.52,840.43 L1151.81,828.93 M1202.86,839.37 L1152.19,827.53 M1203.1,838.68 L1155.12,827.43 M1203.49,837.55 L1151.95,824.82 M1203.79,836.71 L1153.15,823.98 M1204.08,835.93 L1153.81,823.04 M1205.69,831.84 L1164.83,810.39 M1231.15,795.47 L1195.78,766.81 M1231.65,795.01 L1195.33,764.77 M1232.45,794.28 L1194.61,761.43 M1233.52,793.34 L1197.54,761 M1234.2,792.75 L1196.08,757.18 M1234.91,792.15 L1200.19,759.34 M1235.2,791.9 L1201.31,759.63 M1235.89,791.33 L1202.53,758.76 M1236.85,790.56 L1200.91,753.72 M1237.69,789.89 L1204.21,754.79 M1238.31,789.41 L1203.8,752.22 M1238.7,789.1 L1205.07,752.43 M1239.92,788.19 L1206.57,750.15 M1240.56,787.72 L1208.94,751 M1240.96,787.42 L1208.29,748.76 M1241.8,786.82 L1209.65,747.63 M1242.93,786.03 L1213.22,748.54 M1243.35,785.75 L1211.66,744.91 M1244.3,785.1 L1216.38,748.23 M1244.7,784.84 L1217.11,747.89 M1245.95,784.03 L1216.62,742.69 M1246.25,783.84 L1217.06,742.23 M1247.55,783.03 L1219.89,741.82 M1247.94,782.79 L1220.95,742.05 M1248.58,782.4 L1223.99,744.57 M1249.9,781.62 L1223.9,739.43 M1254.05,779.35 L1235.98,735.98 M1287.39,768.59 L1281.54,719.05 M1367.06,789.7 L1393.57,751.46 M1367.52,790.05 L1394.6,751.52 M1368.35,790.71 L1397.11,750.86 M1369.19,791.4 L1397.67,752.79 M1369.93,792.01 L1400.96,751.02 M1370.89,792.82 L1400.43,754.67 M1371.84,793.65 L1403.9,753.52 M1372.54,794.27 L1405.04,754.38 M1373.38,795.04 L1404.56,757.55 M1374.18,795.77 L1403.37,761.3 M1374.91,796.46 L1405.23,761.45 M1375.41,796.94 L1408.94,759.01 M1376.28,797.79 L1408.7,761.92 M1377.37,798.88 L1410.76,763.13 M1377.87,799.4 L1411.35,764.09 M1378.75,800.31 L1414.02,764.15 M1379.22,800.81 L1413.62,765.99 M1380.03,801.69 L1413.4,768.64 M1381.04,802.81 L1416.13,769.22 M1381.63,803.48 L1418.34,769.03 M1382.52,804.52 L1418.04,772.05 M1383.05,805.14 L1419.17,772.69 M1383.67,805.9 L1421.13,772.98 M1384.31,806.69 L1421.26,774.87 M1384.99,807.54 L1424.52,774.36 M1385.77,808.53 L1425.36,776.15 M1386.54,809.55 L1423.13,780.32 M1386.98,810.15 L1427.62,778.32 M1387.75,811.2 L1424.26,783.26 M1388.02,811.57 L1426.39,782.55" stroke="#27aae1" stroke-width="1.5" fill="none"/>
<path d="M1527.48,875.25 A225,225 0 0 1 1299.75,1097.48 L1300.46,1039.49 A167,167 0 0 0 1469.49,874.54 Z" fill="none" stroke="#231f20" stroke-width="1.25" stroke-linejoin="miter"/>
<path d="M1463.49,874.47 A161,161 0 0 1 1300.53,1033.49 L1301.24,975.49 A103,103 0 0 0 1405.49,873.76 Z" fill="none" stroke="#231f20" stroke-width="1.25" stroke-linejoin="miter"/>
<path d="M1296.22,1097.41 A225,225 0 0 1 1106.86,983.64 L1157.29,954.99 A167,167 0 0 0 1297.84,1039.43 Z" fill="none" stroke="#231f20" stroke-width="1.25" stroke-linejoin="miter"/>
<path d="M1298,1033.44 A161,161 0 0 1 1162.51,952.02 L1212.94,923.38 A103,103 0 0 0 1299.62,975.46 Z" fill="none" stroke="#231f20" stroke-width="1.25" stroke-linejoin="miter"/>
<path d="M1104.95,980.21 A225,225 0 0 1 1134.25,723.12 L1177.62,761.62 A167,167 0 0 0 1155.88,952.44 Z" fill="none" stroke="#231f20" stroke-width="1.25" stroke-linejoin="miter"/>
<path d="M1161.14,949.57 A161,161 0 0 1 1182.1,765.61 L1225.48,804.12 A103,103 0 0 0 1212.07,921.81 Z" fill="none" stroke="#231f20" stroke-width="1.25" stroke-linejoin="miter"/>
<path d="M1136.88,720.2 A225,225 0 0 1 1330.7,649.27 L1323.43,706.82 A167,167 0 0 0 1179.57,759.46 Z" fill="none" stroke="#231f20" stroke-width="1.25" stroke-linejoin="miter"/>
<path d="M1183.99,763.52 A161,161 0 0 1 1322.68,712.77 L1315.41,770.31 A103,103 0 0 0 1226.68,802.78 Z" fill="none" stroke="#231f20" stroke-width="1.25" stroke-linejoin="miter"/>
<path d="M1334.59,649.8 A225,225 0 0 1 1527.49,870.93 L1469.5,871.33 A167,167 0 0 0 1326.32,707.21 Z" fill="none" stroke="#231f20" stroke-width="1.25" stroke-linejoin="miter"/>
<path d="M1325.46,713.15 A161,161 0 0 1 1463.5,871.38 L1405.5,871.78 A103,103 0 0 0 1317.19,770.55 Z" fill="none" stroke="#231f20" stroke-width="1.25" stroke-linejoin="miter"/>
<path d="M1385.83,933.04 A103,103 0 0 1 1362.31,956.35" stroke="#ed1c24" stroke-width="4.3" fill="none" stroke-linecap="round"/>
<path d="M1295.32,975.25 A103,103 0 0 1 1257.35,965.08" stroke="#ed1c24" stroke-width="4.3" fill="none" stroke-linecap="round"/>
<path d="M1199.78,864.96 A103,103 0 0 1 1206.6,834.92" stroke="#ed1c24" stroke-width="4.3" fill="none" stroke-linecap="round"/>
<path d="M1230.82,798.53 A103,103 0 0 1 1251.94,782.76" stroke="#ed1c24" stroke-width="4.3" fill="none" stroke-linecap="round"/>
<path d="M1362.46,788.75 A103,103 0 0 1 1388.19,815.35" stroke="#ed1c24" stroke-width="4.3" fill="none" stroke-linecap="round"/>
<text transform="translate(1201.43 658.68) rotate(-25.3)" font-size="27" text-anchor="middle" textLength="62" lengthAdjust="spacingAndGlyphs">Chr4</text>
<text transform="translate(1384.07 648.38) rotate(14)" font-size="26" text-anchor="middle" fill="#262a7a" textLength="101" lengthAdjust="spacingAndGlyphs">Group 1</text>
<text transform="translate(1481.64 717.33) rotate(49.1)" font-size="26.5" text-anchor="middle" textLength="58" lengthAdjust="spacingAndGlyphs">Chr5</text>
<text transform="translate(1082.06 794) rotate(-70.4)" font-size="26.5" text-anchor="middle" textLength="58" lengthAdjust="spacingAndGlyphs">Chr3</text>
<text transform="translate(1138.93 1046.07) rotate(223.3)" font-size="26.5" text-anchor="middle" textLength="58" lengthAdjust="spacingAndGlyphs">Chr2</text>
<text transform="translate(1472.71 1032.34) rotate(133.2)" font-size="26.5" text-anchor="middle" textLength="58" lengthAdjust="spacingAndGlyphs">Chr1</text>
<text transform="translate(1309.5 857) rotate(19)" font-size="26.5" text-anchor="middle" fill="#27aae1" textLength="101" lengthAdjust="spacingAndGlyphs">Group 2</text>
<text x="410.4" y="1270.3" font-size="22.5" text-anchor="middle">CLSY3</text>
<line x1="92.2" y1="1283.9" x2="745.3" y2="1283.9" stroke="#231f20" stroke-width="1.2" />
<text x="256.8" y="1320.6" font-size="22.5" text-anchor="middle">WT</text>
<text x="604.3" y="1320.6" font-size="22.5" text-anchor="middle" font-style="italic">gde1-1</text>
<clipPath id="cp1"><rect x="92.1" y="1333" width="318" height="312.2"/></clipPath>
<g clip-path="url(#cp1)">
<path d="M92.1,1614.76L93.97,1616L95.84,1615.47L97.71,1614.45L99.58,1613.66L101.45,1614.51L103.32,1614.06L105.19,1613.47L107.06,1614.91L108.94,1615.74L110.81,1616.68L112.68,1615.68L114.55,1615.94L116.42,1615.85L118.29,1614.07L120.16,1614.86L122.03,1614.82L123.9,1616.64L125.77,1615.14L127.64,1613.58L129.51,1613.77L131.38,1612.53L133.25,1612.28L135.12,1610.6L136.99,1610.03L138.86,1610.43L140.74,1610.22L142.61,1609.4L144.48,1607.56L146.35,1607.97L148.22,1607.78L150.09,1608.29L151.96,1608.05L153.83,1608.8L155.7,1608.06L157.57,1607.9L159.44,1608.31L161.31,1606.78L163.18,1606.62L165.05,1606.49L166.92,1609.06L168.79,1608.52L170.66,1609.05L172.54,1609.41L174.41,1608.77L176.28,1607.15L178.15,1608.87L180.02,1608.54L181.89,1609.59L183.76,1608.17L185.63,1608.27L187.5,1610.13L189.37,1611.47L191.24,1609.49L193.11,1608.32L194.98,1609.02L196.85,1610.29L198.72,1610.51L200.59,1610.83L202.46,1609.73L204.34,1610.73L206.21,1611.91L208.08,1611.03L209.95,1609.47L211.82,1609.23L213.69,1610.66L215.56,1608.9L217.43,1609.51L219.3,1608.9L221.17,1609.38L223.04,1609.5L224.91,1609.78L226.78,1611.43L228.65,1611.23L230.52,1611.99L232.39,1610.84L234.26,1609.72L236.14,1609.88L238.01,1606.55L239.88,1607.4L241.75,1608.05L243.62,1606.92L245.49,1607.95L247.36,1607.45L249.23,1605.13L251.1,1606.03L252.97,1605.75L254.84,1606.03L256.71,1606.56L258.58,1608.34L260.45,1608.23L262.32,1608.06L264.19,1608.46L266.06,1606.47L267.94,1608.53L269.81,1607.43L271.68,1608.43L273.55,1607.48L275.42,1607.15L277.29,1607.63L279.16,1610.36L281.03,1610.82L282.9,1609.78L284.77,1609.51L286.64,1608.46L288.51,1608.98L290.38,1608.69L292.25,1609.8L294.12,1608.24L295.99,1608.3L297.86,1607.73L299.74,1607.45L301.61,1608.7L303.48,1608.8L305.35,1609.29L307.22,1610.2L309.09,1610.72L310.96,1608.44L312.83,1609.13L314.7,1607.26L316.57,1608.08L318.44,1610.88L320.31,1610.63L322.18,1610.6L324.05,1611.43L325.92,1612.06L327.79,1612.71L329.66,1612.54L331.54,1614.54L333.41,1615.7L335.28,1615.33L337.15,1615.68L339.02,1616.17L340.89,1616.66L342.76,1615.97L344.63,1615.48L346.5,1613.78L348.37,1611.48L350.24,1610.27L352.11,1610.72L353.98,1610.59L355.85,1609.36L357.72,1607.69L359.59,1607.51L361.46,1608.77L363.34,1609.08L365.21,1607.05L367.08,1606.4L368.95,1604.46L370.82,1603.56L372.69,1604.33L374.56,1604.58L376.43,1605.67L378.3,1606.62L380.17,1606.73L382.04,1607.31L383.91,1605.74L385.78,1604.23L387.65,1605.07L389.52,1607.9L391.39,1607.28L393.26,1605.51L395.14,1606.17L397.01,1608.11L398.88,1607.04L400.75,1608.66L402.62,1608.51L404.49,1610.72L406.36,1611.85L408.23,1612.32L410.1,1614.6" fill="none" stroke="#f0683a" stroke-width="4.3" stroke-linejoin="round"/>
<path d="M92.1,1605.4L93.97,1604.12L95.84,1604.22L97.71,1604.1L99.58,1604.59L101.45,1603.12L103.32,1603.05L105.19,1602.76L107.06,1602.34L108.94,1602.29L110.81,1602.54L112.68,1602.87L114.55,1602.58L116.42,1603.47L118.29,1603.22L120.16,1600.93L122.03,1603.05L123.9,1603.01L125.77,1602.67L127.64,1603.22L129.51,1603.46L131.38,1603.33L133.25,1602.34L135.12,1602.38L136.99,1600.79L138.86,1602L140.74,1600.34L142.61,1600L144.48,1599.79L146.35,1599.7L148.22,1599.17L150.09,1599.4L151.96,1596.17L153.83,1596.9L155.7,1597.23L157.57,1597.16L159.44,1598.65L161.31,1597.49L163.18,1597.46L165.05,1595.85L166.92,1596.69L168.79,1595.63L170.66,1594.99L172.54,1597.72L174.41,1597.98L176.28,1597.51L178.15,1597.32L180.02,1595.83L181.89,1595.18L183.76,1595.9L185.63,1594.18L187.5,1594.98L189.37,1593.72L191.24,1594.35L193.11,1593.6L194.98,1595.33L196.85,1595.64L198.72,1594.44L200.59,1592.46L202.46,1592.01L204.34,1592.19L206.21,1591.39L208.08,1591.8L209.95,1592.47L211.82,1591.88L213.69,1591.08L215.56,1591.46L217.43,1590.68L219.3,1591.02L221.17,1590.15L223.04,1591.06L224.91,1589.94L226.78,1588.5L228.65,1588.45L230.52,1587.69L232.39,1586.87L234.26,1586.91L236.14,1587.53L238.01,1585.42L239.88,1585.77L241.75,1585.79L243.62,1585.7L245.49,1586.33L247.36,1584.86L249.23,1585.44L251.1,1584.93L252.97,1584.8L254.84,1584.38L256.71,1584L258.58,1583.62L260.45,1584.21L262.32,1586.06L264.19,1586.56L266.06,1587.19L267.94,1587.89L269.81,1587.99L271.68,1589.37L273.55,1591.71L275.42,1590.52L277.29,1591.48L279.16,1592.26L281.03,1592.21L282.9,1592.64L284.77,1593.43L286.64,1594.59L288.51,1594.57L290.38,1594.85L292.25,1593.95L294.12,1593.8L295.99,1593.18L297.86,1592.89L299.74,1592.1L301.61,1592.54L303.48,1593.41L305.35,1592.59L307.22,1592.38L309.09,1592.49L310.96,1592.01L312.83,1592.4L314.7,1592.01L316.57,1590.55L318.44,1589.72L320.31,1590.58L322.18,1590.95L324.05,1591.5L325.92,1591.1L327.79,1590.77L329.66,1589.11L331.54,1590.5L333.41,1589.46L335.28,1590.44L337.15,1589.29L339.02,1589.04L340.89,1589.64L342.76,1589.67L344.63,1589.65L346.5,1591.12L348.37,1592.05L350.24,1592.61L352.11,1592.59L353.98,1592.44L355.85,1592.88L357.72,1593.35L359.59,1594.28L361.46,1595.75L363.34,1596.24L365.21,1596.4L367.08,1597L368.95,1599.24L370.82,1600.02L372.69,1600.82L374.56,1601.58L376.43,1602.45L378.3,1602.74L380.17,1603.9L382.04,1604.45L383.91,1601.99L385.78,1602.82L387.65,1605.93L389.52,1604.51L391.39,1604.92L393.26,1606.04L395.14,1605.96L397.01,1607.1L398.88,1605.81L400.75,1605.16L402.62,1605.74L404.49,1605.77L406.36,1605.65L408.23,1607.03L410.1,1607.75" fill="none" stroke="#53c6ef" stroke-width="4.3" stroke-linejoin="round"/>
<path d="M92.1,1610.17L93.97,1610.09L95.84,1608.55L97.71,1608.43L99.58,1607.39L101.45,1606.49L103.32,1606.87L105.19,1605.82L107.06,1604.76L108.94,1604.21L110.81,1603.73L112.68,1602.39L114.55,1601.49L116.42,1599.57L118.29,1598.14L120.16,1596.6L122.03,1594.5L123.9,1592.47L125.77,1590.52L127.64,1589.48L129.51,1588.29L131.38,1587.01L133.25,1586.05L135.12,1584.17L136.99,1583.06L138.86,1581.65L140.74,1579.88L142.61,1576.52L144.48,1573.45L146.35,1569.34L148.22,1566.3L150.09,1562.06L151.96,1558.43L153.83,1556.1L155.7,1551.26L157.57,1548.41L159.44,1544.79L161.31,1540.61L163.18,1536.87L165.05,1532.97L166.92,1529.21L168.79,1524.51L170.66,1519.73L172.54,1515.09L174.41,1510.29L176.28,1506.12L178.15,1501.36L180.02,1497.68L181.89,1491.95L183.76,1487.03L185.63,1482.2L187.5,1476.62L189.37,1473.42L191.24,1466.94L193.11,1462.05L194.98,1456.75L196.85,1452.51L198.72,1445.62L200.59,1440.85L202.46,1434.5L204.34,1428.11L206.21,1421.02L208.08,1414.64L209.95,1407.17L211.82,1400.92L213.69,1395.39L215.56,1390.52L217.43,1382.81L219.3,1378.15L221.17,1373.03L223.04,1367.47L224.91,1363.27L226.78,1359.46L228.65,1357.87L230.52,1355.6L232.39,1353.63L234.26,1352.17L236.14,1351.13L238.01,1350.38L239.88,1349.44L241.75,1350.42L243.62,1348.66L245.49,1346.48L247.36,1346.88L249.23,1346.84L251.1,1346.95L252.97,1346.58L254.84,1346.32L256.71,1346.42L258.58,1346.9L260.45,1346.51L262.32,1346.53L264.19,1348.12L266.06,1348.6L267.94,1348.34L269.81,1350.57L271.68,1351.9L273.55,1353.21L275.42,1355.45L277.29,1360.06L279.16,1365.31L281.03,1371.61L282.9,1378.5L284.77,1386.09L286.64,1394.18L288.51,1400.32L290.38,1405.81L292.25,1412.69L294.12,1418.81L295.99,1425.18L297.86,1431.35L299.74,1436.34L301.61,1441.24L303.48,1446.08L305.35,1450.19L307.22,1455.51L309.09,1461L310.96,1465.61L312.83,1470.27L314.7,1475.33L316.57,1480.52L318.44,1486.07L320.31,1492.06L322.18,1497.76L324.05,1503.64L325.92,1508.6L327.79,1514.51L329.66,1519.6L331.54,1523.69L333.41,1527.13L335.28,1532.04L337.15,1537.11L339.02,1540.56L340.89,1544.14L342.76,1547.56L344.63,1551.61L346.5,1554.45L348.37,1558.48L350.24,1561.39L352.11,1565.02L353.98,1567.84L355.85,1570.51L357.72,1572.5L359.59,1575.18L361.46,1578.04L363.34,1581.25L365.21,1583.78L367.08,1585.54L368.95,1587.91L370.82,1590.3L372.69,1591.7L374.56,1592.93L376.43,1594.23L378.3,1596.13L380.17,1597.41L382.04,1597.62L383.91,1598.71L385.78,1599.16L387.65,1599.57L389.52,1601.31L391.39,1602.58L393.26,1602.97L395.14,1604.12L397.01,1605.51L398.88,1606.19L400.75,1607.36L402.62,1608.98L404.49,1609.06L406.36,1610.76L408.23,1612.48L410.1,1613.83" fill="none" stroke="#242a6a" stroke-width="4.3" stroke-linejoin="round"/>
</g>
<rect x="92.1" y="1333" width="318" height="312.2" fill="none" stroke="#231f20" stroke-width="1.3" />
<line x1="76.6" y1="1636.5" x2="92.1" y2="1636.5" stroke="#231f20" stroke-width="1.3" />
<text x="62.5" y="1644.5" font-size="22.3" text-anchor="end" textLength="14.39" lengthAdjust="spacingAndGlyphs">0</text>
<line x1="76.6" y1="1504.6" x2="92.1" y2="1504.6" stroke="#231f20" stroke-width="1.3" />
<text x="62.5" y="1512.6" font-size="22.3" text-anchor="end" textLength="43.16" lengthAdjust="spacingAndGlyphs">400</text>
<line x1="76.6" y1="1372.7" x2="92.1" y2="1372.7" stroke="#231f20" stroke-width="1.3" />
<text x="62.5" y="1380.7" font-size="22.3" text-anchor="end" textLength="43.16" lengthAdjust="spacingAndGlyphs">800</text>
<line x1="92.1" y1="1645.2" x2="92.1" y2="1656.7" stroke="#231f20" stroke-width="1.3" />
<line x1="251.1" y1="1645.2" x2="251.1" y2="1656.7" stroke="#231f20" stroke-width="1.3" />
<line x1="410.1" y1="1645.2" x2="410.1" y2="1656.7" stroke="#231f20" stroke-width="1.3" />
<text x="92.1" y="1686.9" font-size="22.5" text-anchor="middle" textLength="47.08" lengthAdjust="spacingAndGlyphs">−2.0</text>
<text x="251.1" y="1686.9" font-size="22.5" text-anchor="middle" textLength="71.58" lengthAdjust="spacingAndGlyphs">Centre</text>
<text x="410.1" y="1686.9" font-size="22.5" text-anchor="middle" textLength="64.97" lengthAdjust="spacingAndGlyphs">2.0 kb</text>
<clipPath id="cp2"><rect x="432" y="1333" width="318.4" height="312.2"/></clipPath>
<g clip-path="url(#cp2)">
<path d="M432,1636.52L433.87,1636.64L435.75,1636.23L437.62,1636.33L439.49,1636.63L441.36,1636.53L443.24,1636.97L445.11,1636.03L446.98,1635.88L448.86,1635.38L450.73,1635L452.6,1635.02L454.48,1635.19L456.35,1635.35L458.22,1635.44L460.09,1636.29L461.97,1636.1L463.84,1634.77L465.71,1634.79L467.59,1634.37L469.46,1634.13L471.33,1634.82L473.2,1634.46L475.08,1633.38L476.95,1633.78L478.82,1633.69L480.7,1633.18L482.57,1632.95L484.44,1632.92L486.32,1633.16L488.19,1633.07L490.06,1633.22L491.93,1634.12L493.81,1633.36L495.68,1632.87L497.55,1632.81L499.43,1633.38L501.3,1632.83L503.17,1633.49L505.04,1632.54L506.92,1632.07L508.79,1632.23L510.66,1631.9L512.54,1631.79L514.41,1632.2L516.28,1632.54L518.16,1632.42L520.03,1632.13L521.9,1632.7L523.77,1632.56L525.65,1632.14L527.52,1632.55L529.39,1631.75L531.27,1631.75L533.14,1631.96L535.01,1631.73L536.88,1631.3L538.76,1631.46L540.63,1631.1L542.5,1630.83L544.38,1630.44L546.25,1631.29L548.12,1630.9L550,1631.45L551.87,1631.39L553.74,1631.03L555.61,1631.24L557.49,1631.16L559.36,1631.03L561.23,1630.21L563.11,1630.4L564.98,1630.9L566.85,1630.99L568.72,1631.28L570.6,1631.69L572.47,1631.42L574.34,1632.02L576.22,1630.72L578.09,1630.57L579.96,1629.4L581.84,1630.32L583.71,1630.56L585.58,1631.49L587.45,1631.09L589.33,1630.09L591.2,1631.1L593.07,1630.49L594.95,1630.19L596.82,1630.57L598.69,1631.22L600.56,1631.1L602.44,1631.39L604.31,1630.61L606.18,1631.92L608.06,1631.88L609.93,1631.99L611.8,1632.33L613.68,1632.38L615.55,1632.47L617.42,1632.03L619.29,1632.21L621.17,1632.64L623.04,1633.23L624.91,1633.08L626.79,1633.14L628.66,1633.35L630.53,1633.64L632.4,1633.68L634.28,1633.54L636.15,1633.37L638.02,1634.11L639.9,1634.19L641.77,1634.15L643.64,1635.83L645.52,1635.63L647.39,1635.53L649.26,1635.16L651.13,1634.41L653.01,1635.02L654.88,1634.82L656.75,1634.79L658.63,1635.26L660.5,1635.56L662.37,1635.39L664.24,1635.2L666.12,1636.11L667.99,1635.94L669.86,1635.09L671.74,1635.45L673.61,1635.4L675.48,1635.33L677.36,1635.61L679.23,1635.59L681.1,1636.44L682.97,1636.1L684.85,1635.94L686.72,1636.29L688.59,1635.69L690.47,1636.1L692.34,1635.84L694.21,1636.3L696.08,1635.61L697.96,1635.82L699.83,1634.99L701.7,1635.06L703.58,1635.34L705.45,1635.75L707.32,1636.71L709.2,1637.24L711.07,1636.04L712.94,1635.62L714.81,1636.34L716.69,1636.39L718.56,1635.57L720.43,1635.98L722.31,1635.46L724.18,1635.3L726.05,1635.01L727.92,1635.34L729.8,1636.75L731.67,1636.71L733.54,1636.47L735.42,1637.59L737.29,1636.85L739.16,1636.57L741.04,1636.37L742.91,1636.58L744.78,1636.38L746.65,1637.12L748.53,1636.74L750.4,1636.93" fill="none" stroke="#242a6a" stroke-width="4.3" stroke-linejoin="round"/>
<path d="M432,1614.26L433.87,1612.91L435.75,1613.54L437.62,1610.75L439.49,1610.83L441.36,1608.52L443.24,1610.03L445.11,1609.75L446.98,1610.36L448.86,1608.63L450.73,1608.14L452.6,1606.88L454.48,1605.4L456.35,1605.07L458.22,1603.25L460.09,1602.76L461.97,1603.24L463.84,1602.68L465.71,1601.69L467.59,1603.41L469.46,1602.24L471.33,1600.77L473.2,1600.5L475.08,1599.63L476.95,1599.24L478.82,1599.08L480.7,1601.33L482.57,1600.85L484.44,1600.82L486.32,1601.41L488.19,1603.19L490.06,1602.25L491.93,1601.43L493.81,1604.06L495.68,1601.98L497.55,1601.88L499.43,1602.91L501.3,1605.14L503.17,1603.4L505.04,1600.96L506.92,1602.51L508.79,1602.35L510.66,1602.43L512.54,1603.35L514.41,1603.71L516.28,1604.04L518.16,1603.6L520.03,1605.02L521.9,1606.13L523.77,1605.43L525.65,1604.58L527.52,1605.25L529.39,1605.44L531.27,1604.14L533.14,1603.95L535.01,1605.31L536.88,1605.06L538.76,1604.71L540.63,1605.04L542.5,1605.03L544.38,1605.06L546.25,1603.25L548.12,1605.7L550,1605.69L551.87,1604.65L553.74,1605.8L555.61,1605.84L557.49,1605.56L559.36,1606.36L561.23,1607.97L563.11,1607.26L564.98,1607.78L566.85,1608.6L568.72,1606L570.6,1604.86L572.47,1605.38L574.34,1603.25L576.22,1603.31L578.09,1604.78L579.96,1605.38L581.84,1605.24L583.71,1602.73L585.58,1605.26L587.45,1605L589.33,1605.01L591.2,1604.72L593.07,1602.39L594.95,1601.24L596.82,1600.73L598.69,1603.42L600.56,1602.39L602.44,1602.34L604.31,1602.3L606.18,1603.09L608.06,1603.52L609.93,1603.59L611.8,1602.2L613.68,1599.61L615.55,1601.28L617.42,1602.43L619.29,1604.1L621.17,1603.88L623.04,1603.32L624.91,1604.02L626.79,1602.62L628.66,1602.32L630.53,1602.24L632.4,1603.49L634.28,1606.01L636.15,1606.3L638.02,1606.88L639.9,1606.4L641.77,1606.18L643.64,1605.37L645.52,1605.06L647.39,1602.82L649.26,1602.64L651.13,1602.45L653.01,1604.34L654.88,1605.28L656.75,1606.22L658.63,1607.09L660.5,1605.71L662.37,1606.05L664.24,1606.98L666.12,1605.51L667.99,1605.51L669.86,1604.16L671.74,1601.79L673.61,1601.88L675.48,1600.87L677.36,1601.01L679.23,1600.41L681.1,1600.68L682.97,1598.37L684.85,1600.94L686.72,1601.69L688.59,1600.38L690.47,1598.95L692.34,1598.85L694.21,1599.33L696.08,1599.27L697.96,1599.1L699.83,1596.63L701.7,1595.86L703.58,1597.69L705.45,1597.65L707.32,1595.87L709.2,1595.38L711.07,1594.48L712.94,1594.31L714.81,1596.31L716.69,1596.16L718.56,1597.39L720.43,1597.26L722.31,1595.59L724.18,1595.49L726.05,1598.37L727.92,1597.23L729.8,1596.38L731.67,1598.23L733.54,1598.37L735.42,1598.52L737.29,1600.28L739.16,1598.47L741.04,1599.83L742.91,1599.53L744.78,1599.33L746.65,1600.09L748.53,1602.76L750.4,1603.34" fill="none" stroke="#f0683a" stroke-width="4.3" stroke-linejoin="round"/>
<path d="M432,1560.07L433.87,1558.74L435.75,1558.9L437.62,1559.82L439.49,1561.64L441.36,1561.69L443.24,1560.51L445.11,1561.47L446.98,1560.9L448.86,1562.52L450.73,1562.29L452.6,1563.72L454.48,1562.95L456.35,1561.68L458.22,1560.45L460.09,1560.47L461.97,1560.99L463.84,1561.74L465.71,1561.28L467.59,1560.03L469.46,1560.07L471.33,1558.35L473.2,1558.66L475.08,1557.62L476.95,1558.58L478.82,1558.52L480.7,1557.71L482.57,1555.83L484.44,1555.65L486.32,1555.08L488.19,1553.68L490.06,1552.45L491.93,1552.9L493.81,1551.5L495.68,1551.03L497.55,1551.19L499.43,1548.69L501.3,1549.54L503.17,1549.17L505.04,1547.38L506.92,1545.85L508.79,1544.51L510.66,1545.22L512.54,1542.64L514.41,1543.68L516.28,1543.49L518.16,1542.48L520.03,1541.78L521.9,1541.23L523.77,1540.75L525.65,1541.08L527.52,1539.58L529.39,1539.9L531.27,1539.65L533.14,1538.15L535.01,1537.56L536.88,1535.9L538.76,1535L540.63,1534.41L542.5,1534.81L544.38,1533.06L546.25,1531.53L548.12,1530.36L550,1529.1L551.87,1527.25L553.74,1528.13L555.61,1526.25L557.49,1524.69L559.36,1523.19L561.23,1522.99L563.11,1524.31L564.98,1524.83L566.85,1523.25L568.72,1521.64L570.6,1520.29L572.47,1518.6L574.34,1518.94L576.22,1518.43L578.09,1519.83L579.96,1518.76L581.84,1517.49L583.71,1516.02L585.58,1515.11L587.45,1516.4L589.33,1516.83L591.2,1515.62L593.07,1514.24L594.95,1514.55L596.82,1513.97L598.69,1513.95L600.56,1513.77L602.44,1513.27L604.31,1512.67L606.18,1515.04L608.06,1518.1L609.93,1521.48L611.8,1525.16L613.68,1527.7L615.55,1527.79L617.42,1528.92L619.29,1527.62L621.17,1529.38L623.04,1530.07L624.91,1531.53L626.79,1532.56L628.66,1531.79L630.53,1532.13L632.4,1533.46L634.28,1533.04L636.15,1533.39L638.02,1533.14L639.9,1534.03L641.77,1534.39L643.64,1533.76L645.52,1532.94L647.39,1531.84L649.26,1533.69L651.13,1533.71L653.01,1533.33L654.88,1532.99L656.75,1532.19L658.63,1532.71L660.5,1532.69L662.37,1530.08L664.24,1530.06L666.12,1529.95L667.99,1529.41L669.86,1529.37L671.74,1530.65L673.61,1530.46L675.48,1531.33L677.36,1531.96L679.23,1530.57L681.1,1532.72L682.97,1533.08L684.85,1533.27L686.72,1534.7L688.59,1537.1L690.47,1536.54L692.34,1536.74L694.21,1538.17L696.08,1537.77L697.96,1538.55L699.83,1540.45L701.7,1542.64L703.58,1544.27L705.45,1545.97L707.32,1547.74L709.2,1548.2L711.07,1549.21L712.94,1550.51L714.81,1551.96L716.69,1554.68L718.56,1556.78L720.43,1556.32L722.31,1558.73L724.18,1559.51L726.05,1560.48L727.92,1563.51L729.8,1565.79L731.67,1567.39L733.54,1568.24L735.42,1569.94L737.29,1568.8L739.16,1569.93L741.04,1569.59L742.91,1569.65L744.78,1569.07L746.65,1571.53L748.53,1573.48L750.4,1574.23" fill="none" stroke="#53c6ef" stroke-width="4.3" stroke-linejoin="round"/>
</g>
<rect x="432" y="1333" width="318.4" height="312.2" fill="none" stroke="#231f20" stroke-width="1.3" />
<line x1="420.5" y1="1636.5" x2="432" y2="1636.5" stroke="#231f20" stroke-width="1.3" />
<line x1="420.5" y1="1504.6" x2="432" y2="1504.6" stroke="#231f20" stroke-width="1.3" />
<line x1="420.5" y1="1372.7" x2="432" y2="1372.7" stroke="#231f20" stroke-width="1.3" />
<line x1="432" y1="1645.2" x2="432" y2="1656.7" stroke="#231f20" stroke-width="1.3" />
<line x1="591.2" y1="1645.2" x2="591.2" y2="1656.7" stroke="#231f20" stroke-width="1.3" />
<line x1="750.4" y1="1645.2" x2="750.4" y2="1656.7" stroke="#231f20" stroke-width="1.3" />
<text x="1192.5" y="1270.3" font-size="22.5" text-anchor="middle">CLSY4</text>
<line x1="866.6" y1="1283.8" x2="1524.5" y2="1283.8" stroke="#231f20" stroke-width="1.2" />
<text x="1032" y="1320.6" font-size="22.5" text-anchor="middle">WT</text>
<text x="1379.6" y="1320.6" font-size="22.5" text-anchor="middle" font-style="italic">gde1-1</text>
<clipPath id="cp3"><rect x="867.1" y="1338" width="318.4" height="306.5"/></clipPath>
<g clip-path="url(#cp3)">
<path d="M867.1,1586.89L868.97,1587.25L870.85,1587.9L872.72,1586.69L874.59,1585.02L876.46,1585.06L878.34,1585.44L880.21,1586.08L882.08,1584.05L883.96,1582.54L885.83,1583.33L887.7,1583.32L889.58,1584.06L891.45,1583.66L893.32,1582.04L895.19,1580.53L897.07,1581.98L898.94,1579.71L900.81,1577.47L902.69,1575.38L904.56,1574.89L906.43,1574.23L908.3,1572.96L910.18,1572.06L912.05,1571.37L913.92,1570.69L915.8,1570.02L917.67,1568.15L919.54,1564.61L921.42,1564.5L923.29,1562.23L925.16,1562.11L927.03,1561.08L928.91,1562.23L930.78,1562.59L932.65,1564.22L934.53,1568.66L936.4,1568.61L938.27,1569.92L940.14,1569.07L942.02,1569.93L943.89,1571.66L945.76,1572.14L947.64,1573.01L949.51,1573.47L951.38,1572.86L953.26,1574.16L955.13,1573.78L957,1576.27L958.87,1575.62L960.75,1576.49L962.62,1576.46L964.49,1577.46L966.37,1576.65L968.24,1577.78L970.11,1577.45L971.98,1578.65L973.86,1578.79L975.73,1578.43L977.6,1577.34L979.48,1578.17L981.35,1578.37L983.22,1579.6L985.1,1578.38L986.97,1578.51L988.84,1578.51L990.71,1578.26L992.59,1578L994.46,1577.78L996.33,1576.86L998.21,1575.86L1000.08,1575.78L1001.95,1576.59L1003.82,1577.87L1005.7,1578.04L1007.57,1578.12L1009.44,1577.81L1011.32,1577.46L1013.19,1576.67L1015.06,1576.68L1016.94,1577.59L1018.81,1576.06L1020.68,1574.75L1022.55,1576.49L1024.43,1575.88L1026.3,1576.23L1028.17,1576.38L1030.05,1574.59L1031.92,1576.98L1033.79,1577.85L1035.66,1576.9L1037.54,1576.96L1039.41,1576.47L1041.28,1575.28L1043.16,1575.39L1045.03,1576L1046.9,1577.16L1048.78,1577.54L1050.65,1577.21L1052.52,1578.32L1054.39,1577.01L1056.27,1577.76L1058.14,1578.56L1060.01,1577.71L1061.89,1575.77L1063.76,1575.48L1065.63,1576.42L1067.5,1577.28L1069.38,1578.8L1071.25,1577.28L1073.12,1577.36L1075,1578.04L1076.87,1577.69L1078.74,1575.37L1080.62,1577.04L1082.49,1579.49L1084.36,1579.72L1086.23,1578.02L1088.11,1577.48L1089.98,1577.76L1091.85,1580.11L1093.73,1579.71L1095.6,1578.98L1097.47,1579.91L1099.34,1578.88L1101.22,1580.1L1103.09,1578.36L1104.96,1577.49L1106.84,1578.07L1108.71,1579.06L1110.58,1578.87L1112.46,1578.36L1114.33,1575.94L1116.2,1575.45L1118.07,1575.14L1119.95,1574.9L1121.82,1575.7L1123.69,1575.15L1125.57,1575.75L1127.44,1575.29L1129.31,1574.45L1131.18,1574.23L1133.06,1574.25L1134.93,1574.52L1136.8,1573.26L1138.68,1572.6L1140.55,1571L1142.42,1572.77L1144.3,1573.51L1146.17,1572.17L1148.04,1570.85L1149.91,1569.1L1151.79,1569.18L1153.66,1569.06L1155.53,1570.72L1157.41,1569.73L1159.28,1568.06L1161.15,1565.44L1163.02,1567.6L1164.9,1567.83L1166.77,1566.44L1168.64,1567.66L1170.52,1567.19L1172.39,1572.41L1174.26,1573.95L1176.14,1575.04L1178.01,1575.69L1179.88,1574.87L1181.75,1576.97L1183.63,1577.43L1185.5,1580.26" fill="none" stroke="#f0683a" stroke-width="4.3" stroke-linejoin="round"/>
<path d="M867.1,1545.69L868.97,1545.73L870.85,1545.1L872.72,1544.31L874.59,1544.74L876.46,1544.03L878.34,1543.09L880.21,1543.94L882.08,1542.37L883.96,1540.58L885.83,1539.19L887.7,1538.81L889.58,1539.32L891.45,1539.58L893.32,1539.8L895.19,1540.34L897.07,1540.42L898.94,1539.46L900.81,1539.28L902.69,1538.47L904.56,1536.82L906.43,1536.74L908.3,1535.85L910.18,1534.84L912.05,1535.73L913.92,1535.01L915.8,1533.29L917.67,1532.31L919.54,1533.39L921.42,1531.65L923.29,1531.1L925.16,1530.36L927.03,1529.5L928.91,1528.71L930.78,1527.02L932.65,1525.66L934.53,1524.71L936.4,1523.59L938.27,1523.34L940.14,1523.22L942.02,1520.59L943.89,1519.61L945.76,1517.25L947.64,1515.59L949.51,1514.56L951.38,1513.93L953.26,1512.79L955.13,1510L957,1511.24L958.87,1510.32L960.75,1509.16L962.62,1509.23L964.49,1507.94L966.37,1506.22L968.24,1506.48L970.11,1506.32L971.98,1504.98L973.86,1505.29L975.73,1504.89L977.6,1503.22L979.48,1504.36L981.35,1503.66L983.22,1501.94L985.1,1502.03L986.97,1501.68L988.84,1502.01L990.71,1500.21L992.59,1500.95L994.46,1501.21L996.33,1501.07L998.21,1500.84L1000.08,1501.2L1001.95,1500.88L1003.82,1500.2L1005.7,1499.04L1007.57,1499.96L1009.44,1500.47L1011.32,1500.27L1013.19,1500.09L1015.06,1500.48L1016.94,1498.12L1018.81,1499.01L1020.68,1497.24L1022.55,1498.35L1024.43,1499.58L1026.3,1500.86L1028.17,1499.29L1030.05,1498.43L1031.92,1496.9L1033.79,1493.78L1035.66,1494.08L1037.54,1493.74L1039.41,1494.13L1041.28,1495.33L1043.16,1498.74L1045.03,1502.14L1046.9,1505.25L1048.78,1506.27L1050.65,1509.74L1052.52,1508.88L1054.39,1508.65L1056.27,1508.8L1058.14,1508.35L1060.01,1510L1061.89,1510.31L1063.76,1508.89L1065.63,1509.08L1067.5,1509.94L1069.38,1508.25L1071.25,1508.36L1073.12,1507.97L1075,1509.68L1076.87,1509L1078.74,1507.8L1080.62,1506.84L1082.49,1508.16L1084.36,1506.88L1086.23,1508.14L1088.11,1505.58L1089.98,1504.94L1091.85,1504.32L1093.73,1503.38L1095.6,1503.06L1097.47,1503.47L1099.34,1502.52L1101.22,1501.28L1103.09,1502.79L1104.96,1503.87L1106.84,1502.9L1108.71,1503.44L1110.58,1502.01L1112.46,1504.73L1114.33,1505.1L1116.2,1506.6L1118.07,1510.29L1119.95,1510.21L1121.82,1511.54L1123.69,1511.73L1125.57,1511.51L1127.44,1512.24L1129.31,1514.13L1131.18,1514.3L1133.06,1515.3L1134.93,1517.33L1136.8,1518.23L1138.68,1518.27L1140.55,1521.08L1142.42,1522.22L1144.3,1524.59L1146.17,1524.73L1148.04,1527.76L1149.91,1527.86L1151.79,1528.34L1153.66,1530.43L1155.53,1532.44L1157.41,1534.84L1159.28,1536.23L1161.15,1538.6L1163.02,1541.09L1164.9,1541.47L1166.77,1541.61L1168.64,1542.95L1170.52,1545.22L1172.39,1547.04L1174.26,1547.64L1176.14,1547.94L1178.01,1549.35L1179.88,1551.46L1181.75,1551.84L1183.63,1554.18L1185.5,1555.2" fill="none" stroke="#53c6ef" stroke-width="4.3" stroke-linejoin="round"/>
<path d="M867.1,1609.59L868.97,1609.92L870.85,1608.69L872.72,1607.25L874.59,1607.41L876.46,1607.57L878.34,1607.36L880.21,1607.11L882.08,1606.37L883.96,1605.37L885.83,1604.33L887.7,1603.6L889.58,1602.58L891.45,1602.14L893.32,1601.08L895.19,1598.72L897.07,1597.68L898.94,1595.87L900.81,1594.61L902.69,1593.2L904.56,1590.91L906.43,1587.27L908.3,1585.46L910.18,1582.1L912.05,1580.79L913.92,1577.71L915.8,1575.06L917.67,1573.5L919.54,1569.42L921.42,1566.82L923.29,1563.44L925.16,1560.48L927.03,1557.26L928.91,1554.83L930.78,1551.42L932.65,1548.29L934.53,1545.08L936.4,1540.24L938.27,1537.47L940.14,1533.19L942.02,1528.08L943.89,1523.81L945.76,1520.29L947.64,1516.4L949.51,1511.22L951.38,1506.64L953.26,1502.04L955.13,1497.76L957,1492.55L958.87,1488.06L960.75,1482.31L962.62,1476.87L964.49,1472.18L966.37,1467.13L968.24,1461.37L970.11,1455.96L971.98,1450.16L973.86,1444.69L975.73,1439.33L977.6,1433.49L979.48,1427.93L981.35,1421.75L983.22,1415.64L985.1,1408.43L986.97,1403.15L988.84,1397.29L990.71,1391.68L992.59,1384.68L994.46,1379.19L996.33,1374L998.21,1368.57L1000.08,1365.56L1001.95,1362.99L1003.82,1359.31L1005.7,1357.53L1007.57,1356.79L1009.44,1354.41L1011.32,1354.07L1013.19,1354.12L1015.06,1354.27L1016.94,1352.49L1018.81,1351.56L1020.68,1351.67L1022.55,1352.21L1024.43,1351.22L1026.3,1351.08L1028.17,1351.02L1030.05,1352.54L1031.92,1352.84L1033.79,1354.06L1035.66,1355.27L1037.54,1356.77L1039.41,1357.76L1041.28,1358.87L1043.16,1360.56L1045.03,1361.79L1046.9,1362.23L1048.78,1363.75L1050.65,1366.48L1052.52,1368.88L1054.39,1371.44L1056.27,1374.99L1058.14,1380.79L1060.01,1384.36L1061.89,1388.91L1063.76,1393.83L1065.63,1398.62L1067.5,1404.6L1069.38,1410.29L1071.25,1415.69L1073.12,1420.14L1075,1426.43L1076.87,1431.96L1078.74,1436.83L1080.62,1440.4L1082.49,1446.21L1084.36,1451.19L1086.23,1456.89L1088.11,1462.29L1089.98,1467.48L1091.85,1473.76L1093.73,1479.1L1095.6,1485L1097.47,1489.29L1099.34,1494.29L1101.22,1500.12L1103.09,1504.91L1104.96,1509.12L1106.84,1513.48L1108.71,1518.17L1110.58,1523.16L1112.46,1528.45L1114.33,1533.12L1116.2,1538.06L1118.07,1542.8L1119.95,1546.92L1121.82,1551.69L1123.69,1555.8L1125.57,1559.24L1127.44,1562.75L1129.31,1566.3L1131.18,1569.3L1133.06,1571.97L1134.93,1575.51L1136.8,1578.39L1138.68,1581.76L1140.55,1584.03L1142.42,1586.67L1144.3,1589.1L1146.17,1590.9L1148.04,1593L1149.91,1594.21L1151.79,1595.47L1153.66,1597.24L1155.53,1598.33L1157.41,1598.99L1159.28,1599.15L1161.15,1600.33L1163.02,1602.03L1164.9,1600.95L1166.77,1602.51L1168.64,1603.35L1170.52,1604.67L1172.39,1605.8L1174.26,1605.51L1176.14,1607.2L1178.01,1607.16L1179.88,1607.62L1181.75,1608.7L1183.63,1609.23L1185.5,1610.06" fill="none" stroke="#242a6a" stroke-width="4.3" stroke-linejoin="round"/>
</g>
<rect x="867.1" y="1338" width="318.4" height="306.5" fill="none" stroke="#231f20" stroke-width="1.3" />
<line x1="851.6" y1="1636.4" x2="867.1" y2="1636.4" stroke="#231f20" stroke-width="1.3" />
<text x="839.5" y="1644.4" font-size="22.3" text-anchor="end" textLength="14.39" lengthAdjust="spacingAndGlyphs">0</text>
<line x1="851.6" y1="1528.5" x2="867.1" y2="1528.5" stroke="#231f20" stroke-width="1.3" />
<text x="839.5" y="1536.5" font-size="22.3" text-anchor="end" textLength="43.16" lengthAdjust="spacingAndGlyphs">500</text>
<line x1="851.6" y1="1420.6" x2="867.1" y2="1420.6" stroke="#231f20" stroke-width="1.3" />
<text x="839.5" y="1428.6" font-size="22.3" text-anchor="end" textLength="64.73" lengthAdjust="spacingAndGlyphs">1,000</text>
<line x1="867.1" y1="1644.5" x2="867.1" y2="1656" stroke="#231f20" stroke-width="1.3" />
<line x1="1026.3" y1="1644.5" x2="1026.3" y2="1656" stroke="#231f20" stroke-width="1.3" />
<line x1="1185.5" y1="1644.5" x2="1185.5" y2="1656" stroke="#231f20" stroke-width="1.3" />
<text x="867.1" y="1686.9" font-size="22.5" text-anchor="middle" textLength="47.08" lengthAdjust="spacingAndGlyphs">−2.0</text>
<text x="1026.3" y="1686.9" font-size="22.5" text-anchor="middle" textLength="71.58" lengthAdjust="spacingAndGlyphs">Centre</text>
<text x="1185.5" y="1686.9" font-size="22.5" text-anchor="middle" textLength="64.97" lengthAdjust="spacingAndGlyphs">2.0 kb</text>
<clipPath id="cp4"><rect x="1208.1" y="1338" width="318.4" height="306.5"/></clipPath>
<g clip-path="url(#cp4)">
<path d="M1208.1,1635.47L1209.97,1635.65L1211.85,1634.62L1213.72,1633.71L1215.59,1634.02L1217.46,1634.61L1219.34,1634.5L1221.21,1633.79L1223.08,1633.81L1224.96,1634.73L1226.83,1633.91L1228.7,1634.56L1230.58,1634.69L1232.45,1634.72L1234.32,1634.86L1236.19,1634.29L1238.07,1634.14L1239.94,1634.95L1241.81,1634.36L1243.69,1633.98L1245.56,1633.25L1247.43,1633.24L1249.3,1633.79L1251.18,1634.35L1253.05,1634.37L1254.92,1634.35L1256.8,1634.29L1258.67,1634.11L1260.54,1634.29L1262.42,1633.83L1264.29,1634.1L1266.16,1633.69L1268.03,1632.68L1269.91,1632.2L1271.78,1632.39L1273.65,1632.35L1275.53,1631.93L1277.4,1631.85L1279.27,1632.22L1281.14,1632.51L1283.02,1632.86L1284.89,1632.22L1286.76,1632.39L1288.64,1632.76L1290.51,1632.62L1292.38,1633.17L1294.26,1632.4L1296.13,1632.12L1298,1632L1299.87,1631.61L1301.75,1631.51L1303.62,1631.54L1305.49,1631.4L1307.37,1631.05L1309.24,1630.83L1311.11,1630.84L1312.98,1630.12L1314.86,1630.47L1316.73,1630.04L1318.6,1630.15L1320.48,1629.78L1322.35,1630.09L1324.22,1630.03L1326.1,1630.01L1327.97,1629.75L1329.84,1629.97L1331.71,1630.77L1333.59,1629.63L1335.46,1630.01L1337.33,1630.09L1339.21,1629.83L1341.08,1629.23L1342.95,1630.21L1344.82,1630.12L1346.7,1630.44L1348.57,1629.98L1350.44,1629.51L1352.32,1630.09L1354.19,1630.28L1356.06,1629.91L1357.94,1629.73L1359.81,1630.04L1361.68,1629.58L1363.55,1629.3L1365.43,1629.54L1367.3,1630.2L1369.17,1630.57L1371.05,1630.5L1372.92,1631.04L1374.79,1630.71L1376.66,1630.39L1378.54,1631.57L1380.41,1630.99L1382.28,1631.2L1384.16,1631.35L1386.03,1631.28L1387.9,1631.34L1389.78,1631.64L1391.65,1631.79L1393.52,1631.4L1395.39,1631.48L1397.27,1632.22L1399.14,1632.4L1401.01,1632L1402.89,1632.03L1404.76,1631.59L1406.63,1631.22L1408.5,1631.38L1410.38,1632.5L1412.25,1632.16L1414.12,1631.33L1416,1631.73L1417.87,1631.72L1419.74,1632.41L1421.62,1633.07L1423.49,1632.76L1425.36,1632.8L1427.23,1632.37L1429.11,1633.11L1430.98,1632.67L1432.85,1632.78L1434.73,1633.97L1436.6,1633.15L1438.47,1633.19L1440.34,1633.13L1442.22,1633.36L1444.09,1633.51L1445.96,1634.1L1447.84,1634L1449.71,1634.01L1451.58,1633.18L1453.46,1633.46L1455.33,1632.83L1457.2,1633.66L1459.07,1633.58L1460.95,1634.03L1462.82,1633.63L1464.69,1633.75L1466.57,1633.77L1468.44,1634.01L1470.31,1633.87L1472.18,1633.57L1474.06,1633.51L1475.93,1633.36L1477.8,1633.16L1479.68,1632.92L1481.55,1632.67L1483.42,1634.1L1485.3,1633.75L1487.17,1633.38L1489.04,1634.16L1490.91,1634.31L1492.79,1634.22L1494.66,1634.77L1496.53,1635.46L1498.41,1634.62L1500.28,1635.19L1502.15,1635.16L1504.02,1635.43L1505.9,1634.81L1507.77,1635.49L1509.64,1635.68L1511.52,1634.05L1513.39,1634.89L1515.26,1635.45L1517.14,1634.53L1519.01,1634.79L1520.88,1634.73L1522.75,1634.9L1524.63,1634.51L1526.5,1635" fill="none" stroke="#242a6a" stroke-width="4.3" stroke-linejoin="round"/>
<path d="M1208.1,1599.86L1209.97,1598.82L1211.85,1597.81L1213.72,1596.32L1215.59,1595.8L1217.46,1594.93L1219.34,1595.11L1221.21,1592.79L1223.08,1594.51L1224.96,1589.57L1226.83,1589.39L1228.7,1589.7L1230.58,1588.42L1232.45,1586.7L1234.32,1585.95L1236.19,1585.83L1238.07,1585.86L1239.94,1582.59L1241.81,1581.77L1243.69,1579.81L1245.56,1579.7L1247.43,1577.47L1249.3,1576.19L1251.18,1575.79L1253.05,1573.63L1254.92,1572.41L1256.8,1570.25L1258.67,1569.12L1260.54,1566.56L1262.42,1565.98L1264.29,1565.97L1266.16,1566.06L1268.03,1569.51L1269.91,1567.84L1271.78,1567.63L1273.65,1570.71L1275.53,1573.66L1277.4,1575.6L1279.27,1578.27L1281.14,1581.14L1283.02,1580.42L1284.89,1579.2L1286.76,1579.78L1288.64,1581.6L1290.51,1582.04L1292.38,1581.77L1294.26,1582.2L1296.13,1582.51L1298,1580.76L1299.87,1581.94L1301.75,1581.46L1303.62,1581.85L1305.49,1581.91L1307.37,1582.68L1309.24,1584.15L1311.11,1584.07L1312.98,1584.61L1314.86,1586.02L1316.73,1586.92L1318.6,1586.84L1320.48,1588.72L1322.35,1589.03L1324.22,1589.64L1326.1,1590.61L1327.97,1592.43L1329.84,1591.01L1331.71,1590.59L1333.59,1590.82L1335.46,1589.88L1337.33,1590.19L1339.21,1591.4L1341.08,1588.97L1342.95,1589.21L1344.82,1588.47L1346.7,1590.66L1348.57,1590.4L1350.44,1590.12L1352.32,1589.11L1354.19,1587.49L1356.06,1587.52L1357.94,1587.73L1359.81,1587.47L1361.68,1589.02L1363.55,1588.91L1365.43,1587.15L1367.3,1586.57L1369.17,1586.87L1371.05,1585.52L1372.92,1585.69L1374.79,1585.34L1376.66,1585.9L1378.54,1586.17L1380.41,1585.55L1382.28,1587.05L1384.16,1586.09L1386.03,1586.75L1387.9,1585.42L1389.78,1584.7L1391.65,1584.59L1393.52,1584.73L1395.39,1586.02L1397.27,1584.5L1399.14,1586.72L1401.01,1585.2L1402.89,1586.97L1404.76,1586.74L1406.63,1585.93L1408.5,1586.77L1410.38,1585.97L1412.25,1585.97L1414.12,1586.05L1416,1588.94L1417.87,1586.88L1419.74,1588.61L1421.62,1587.53L1423.49,1586.54L1425.36,1586.24L1427.23,1587.89L1429.11,1587.52L1430.98,1586.8L1432.85,1587.84L1434.73,1588.2L1436.6,1589.26L1438.47,1587.76L1440.34,1589.51L1442.22,1590.31L1444.09,1588.88L1445.96,1588.38L1447.84,1588.84L1449.71,1588.34L1451.58,1588.99L1453.46,1589.05L1455.33,1588.31L1457.2,1586.47L1459.07,1584.15L1460.95,1584.66L1462.82,1583.03L1464.69,1584L1466.57,1584.78L1468.44,1583.19L1470.31,1582.57L1472.18,1582.18L1474.06,1581.18L1475.93,1578.35L1477.8,1576.52L1479.68,1575.73L1481.55,1575.6L1483.42,1574.32L1485.3,1574.33L1487.17,1575.19L1489.04,1573.8L1490.91,1573.22L1492.79,1571.77L1494.66,1571.7L1496.53,1572.73L1498.41,1573.88L1500.28,1573.67L1502.15,1572.85L1504.02,1575.49L1505.9,1573.53L1507.77,1574.47L1509.64,1575.27L1511.52,1577.11L1513.39,1579.39L1515.26,1580.37L1517.14,1585.57L1519.01,1587.8L1520.88,1588.53L1522.75,1588.19L1524.63,1587.47L1526.5,1590.22" fill="none" stroke="#f0683a" stroke-width="4.3" stroke-linejoin="round"/>
<path d="M1208.1,1528.56L1209.97,1529.88L1211.85,1529.48L1213.72,1530.67L1215.59,1530.15L1217.46,1531.56L1219.34,1531.71L1221.21,1532.86L1223.08,1532.8L1224.96,1531.75L1226.83,1530.47L1228.7,1529.87L1230.58,1528.65L1232.45,1526.79L1234.32,1526.38L1236.19,1523.27L1238.07,1522.88L1239.94,1524L1241.81,1523.07L1243.69,1520.72L1245.56,1521.03L1247.43,1520.24L1249.3,1518.88L1251.18,1517.81L1253.05,1517.5L1254.92,1517.63L1256.8,1516.67L1258.67,1517.29L1260.54,1515.46L1262.42,1515.19L1264.29,1512.79L1266.16,1510.74L1268.03,1510.65L1269.91,1510.58L1271.78,1511.46L1273.65,1509.88L1275.53,1509.03L1277.4,1506.91L1279.27,1506.14L1281.14,1505.58L1283.02,1503.91L1284.89,1503.26L1286.76,1502.25L1288.64,1500.06L1290.51,1497.32L1292.38,1494.72L1294.26,1493.08L1296.13,1490.23L1298,1489.73L1299.87,1487.92L1301.75,1487.17L1303.62,1485.3L1305.49,1484.01L1307.37,1483.06L1309.24,1483.28L1311.11,1482.78L1312.98,1482.27L1314.86,1482.45L1316.73,1480.83L1318.6,1481.04L1320.48,1479.75L1322.35,1478.48L1324.22,1477.74L1326.1,1478.29L1327.97,1478.84L1329.84,1477.16L1331.71,1475.48L1333.59,1473.82L1335.46,1473.86L1337.33,1473.96L1339.21,1473.78L1341.08,1473.35L1342.95,1473.79L1344.82,1472.82L1346.7,1472.36L1348.57,1471.41L1350.44,1470.18L1352.32,1468.34L1354.19,1468.97L1356.06,1468.93L1357.94,1469.13L1359.81,1469.37L1361.68,1470.23L1363.55,1470.99L1365.43,1469.74L1367.3,1470.6L1369.17,1471.82L1371.05,1472.45L1372.92,1472.27L1374.79,1471.77L1376.66,1468.07L1378.54,1466.8L1380.41,1467.18L1382.28,1469.24L1384.16,1472.25L1386.03,1474.94L1387.9,1476.73L1389.78,1478.09L1391.65,1480.77L1393.52,1482.97L1395.39,1484.51L1397.27,1486.24L1399.14,1486.91L1401.01,1487.31L1402.89,1485.92L1404.76,1487.08L1406.63,1487.23L1408.5,1488.75L1410.38,1488.5L1412.25,1487.02L1414.12,1486.68L1416,1486.66L1417.87,1485.1L1419.74,1483.26L1421.62,1483.44L1423.49,1482.41L1425.36,1481.68L1427.23,1481.11L1429.11,1480.13L1430.98,1480.1L1432.85,1479.42L1434.73,1478.81L1436.6,1478.77L1438.47,1477.98L1440.34,1476.59L1442.22,1476.9L1444.09,1476.25L1445.96,1477.36L1447.84,1477.25L1449.71,1478.47L1451.58,1480.62L1453.46,1481.9L1455.33,1481.98L1457.2,1482.1L1459.07,1483.56L1460.95,1486.28L1462.82,1488.25L1464.69,1488.53L1466.57,1491.4L1468.44,1493.5L1470.31,1496.01L1472.18,1499.01L1474.06,1500.07L1475.93,1502.85L1477.8,1505.25L1479.68,1508.44L1481.55,1510.26L1483.42,1511.43L1485.3,1514.28L1487.17,1517.47L1489.04,1519.16L1490.91,1520.89L1492.79,1523L1494.66,1524.76L1496.53,1526.29L1498.41,1527.86L1500.28,1530.93L1502.15,1531.83L1504.02,1533.41L1505.9,1535.61L1507.77,1537.31L1509.64,1536.52L1511.52,1536.98L1513.39,1537.02L1515.26,1538.02L1517.14,1537L1519.01,1537.13L1520.88,1538.28L1522.75,1539.45L1524.63,1539.1L1526.5,1540.22" fill="none" stroke="#53c6ef" stroke-width="4.3" stroke-linejoin="round"/>
</g>
<rect x="1208.1" y="1337" width="318.4" height="307.5" fill="none" stroke="#231f20" stroke-width="1.3" />
<line x1="1196.6" y1="1636.4" x2="1208.1" y2="1636.4" stroke="#231f20" stroke-width="1.3" />
<line x1="1196.6" y1="1528.5" x2="1208.1" y2="1528.5" stroke="#231f20" stroke-width="1.3" />
<line x1="1196.6" y1="1420.6" x2="1208.1" y2="1420.6" stroke="#231f20" stroke-width="1.3" />
<line x1="1208.1" y1="1644.5" x2="1208.1" y2="1656" stroke="#231f20" stroke-width="1.3" />
<line x1="1367.3" y1="1644.5" x2="1367.3" y2="1656" stroke="#231f20" stroke-width="1.3" />
<line x1="1526.5" y1="1644.5" x2="1526.5" y2="1656" stroke="#231f20" stroke-width="1.3" />
<text x="418" y="1760.3" font-size="22.5" text-anchor="middle">Pol IV</text>
<line x1="97.2" y1="1775.4" x2="755.4" y2="1775.4" stroke="#231f20" stroke-width="1.2" />
<text x="262.9" y="1814" font-size="22.5" text-anchor="middle">WT</text>
<text x="601.8" y="1814" font-size="22.5" text-anchor="middle" font-style="italic">gde1-1</text>
<clipPath id="cp5"><rect x="95.2" y="1827.3" width="318.8" height="308.2"/></clipPath>
<g clip-path="url(#cp5)">
<path d="M95.2,2092.41L97.08,2091.66L98.95,2088.57L100.83,2086.99L102.7,2087.7L104.58,2089.6L106.45,2089.69L108.33,2088.47L110.2,2088.33L112.08,2089.15L113.95,2090.79L115.83,2091.04L117.7,2091L119.58,2091.19L121.45,2091.71L123.33,2091.13L125.2,2091.36L127.08,2091.55L128.96,2092.73L130.83,2091.58L132.71,2091.55L134.58,2089.34L136.46,2089.45L138.33,2088.53L140.21,2086.97L142.08,2086.19L143.96,2086.27L145.83,2084.86L147.71,2085.02L149.58,2085.35L151.46,2085.44L153.33,2085.36L155.21,2082.5L157.08,2082.3L158.96,2081.29L160.84,2082.35L162.71,2082.33L164.59,2082.65L166.46,2083.26L168.34,2082.82L170.21,2083.39L172.09,2083.12L173.96,2085.71L175.84,2084.94L177.71,2084.92L179.59,2083.21L181.46,2082.46L183.34,2082.6L185.21,2084.21L187.09,2085.12L188.96,2085.17L190.84,2084.29L192.72,2086.04L194.59,2084.32L196.47,2083.37L198.34,2083.98L200.22,2082.85L202.09,2083.26L203.97,2084.03L205.84,2083.37L207.72,2083.27L209.59,2082.7L211.47,2081.52L213.34,2078.28L215.22,2078L217.09,2078.81L218.97,2077.59L220.84,2077.71L222.72,2078.36L224.6,2079.67L226.47,2077.78L228.35,2077.3L230.22,2077.55L232.1,2077.81L233.97,2076L235.85,2077.8L237.72,2076.18L239.6,2076.85L241.47,2075.88L243.35,2075.73L245.22,2076.71L247.1,2076.29L248.97,2075.39L250.85,2073.72L252.72,2073.01L254.6,2071.84L256.48,2074.42L258.35,2072.66L260.23,2070.75L262.1,2073.77L263.98,2075.41L265.85,2075.05L267.73,2076.17L269.6,2075.48L271.48,2075.52L273.35,2076.77L275.23,2077.62L277.1,2077.49L278.98,2079.54L280.85,2080.05L282.73,2079.87L284.6,2078.58L286.48,2079.13L288.36,2079.08L290.23,2079.34L292.11,2080.39L293.98,2079.77L295.86,2080.26L297.73,2081.14L299.61,2081.33L301.48,2083.4L303.36,2080.93L305.23,2081.19L307.11,2080.45L308.98,2081.28L310.86,2084.46L312.73,2082.66L314.61,2083.11L316.48,2084.55L318.36,2085.14L320.24,2086.54L322.11,2085.28L323.99,2087.18L325.86,2086.72L327.74,2086.41L329.61,2088.12L331.49,2089.23L333.36,2088.89L335.24,2088.72L337.11,2089.27L338.99,2089.82L340.86,2090.01L342.74,2089.31L344.61,2087.6L346.49,2089.99L348.36,2090.27L350.24,2089.01L352.12,2087.84L353.99,2087.88L355.87,2088.06L357.74,2086.42L359.62,2088.7L361.49,2089.03L363.37,2088.41L365.24,2088.51L367.12,2088.26L368.99,2088.68L370.87,2087.85L372.74,2088.17L374.62,2088.41L376.49,2086.57L378.37,2085.12L380.24,2083.66L382.12,2083.24L384,2082.39L385.87,2082.48L387.75,2082.77L389.62,2083.15L391.5,2081.81L393.37,2083.25L395.25,2083.01L397.12,2083.38L399,2083.58L400.87,2082.69L402.75,2084.74L404.62,2084.47L406.5,2087.49L408.37,2088.7L410.25,2091.27L412.12,2092.28L414,2093.24" fill="none" stroke="#f0683a" stroke-width="4.6" stroke-linejoin="round"/>
<path d="M95.2,2090.54L97.08,2090.04L98.95,2092.63L100.83,2091.66L102.7,2090.72L104.58,2090.27L106.45,2089.11L108.33,2088.16L110.2,2088.54L112.08,2087.86L113.95,2088.42L115.83,2087.8L117.7,2086.03L119.58,2085.27L121.45,2085.1L123.33,2083.97L125.2,2084.8L127.08,2085.03L128.96,2086.11L130.83,2085.16L132.71,2085.03L134.58,2085.55L136.46,2085.91L138.33,2084.56L140.21,2085.8L142.08,2084.66L143.96,2085.42L145.83,2084.54L147.71,2083.83L149.58,2082.63L151.46,2082.76L153.33,2084.88L155.21,2083.54L157.08,2084.5L158.96,2084.83L160.84,2083.52L162.71,2083.94L164.59,2084.36L166.46,2083.13L168.34,2082.14L170.21,2082.87L172.09,2082.61L173.96,2083.87L175.84,2083.15L177.71,2081.32L179.59,2081.08L181.46,2079.91L183.34,2080.77L185.21,2081.16L187.09,2080.39L188.96,2079.44L190.84,2080.28L192.72,2079.62L194.59,2080.48L196.47,2079.04L198.34,2078.66L200.22,2078.09L202.09,2077.22L203.97,2079.71L205.84,2080.19L207.72,2078.38L209.59,2078.33L211.47,2075.95L213.34,2076.92L215.22,2077.19L217.09,2075.97L218.97,2075.05L220.84,2074.82L222.72,2074.68L224.6,2073.73L226.47,2072.58L228.35,2072.21L230.22,2071.67L232.1,2072.21L233.97,2071.8L235.85,2071.52L237.72,2069.62L239.6,2069.43L241.47,2069.19L243.35,2068.81L245.22,2068.79L247.1,2068.48L248.97,2067.14L250.85,2068.28L252.72,2068.85L254.6,2067.9L256.48,2068.22L258.35,2067.06L260.23,2066.07L262.1,2066.39L263.98,2068.11L265.85,2067.84L267.73,2066.62L269.6,2067.67L271.48,2067.98L273.35,2068.44L275.23,2070.02L277.1,2069.6L278.98,2069.69L280.85,2070.34L282.73,2073.14L284.6,2074.17L286.48,2074.28L288.36,2074.28L290.23,2075.47L292.11,2076.73L293.98,2075.86L295.86,2076.21L297.73,2078.19L299.61,2077.92L301.48,2076.98L303.36,2076.97L305.23,2076.77L307.11,2077.12L308.98,2077.06L310.86,2076.31L312.73,2076.17L314.61,2076.51L316.48,2075.83L318.36,2076.08L320.24,2075.43L322.11,2076.89L323.99,2078.08L325.86,2076.82L327.74,2077.59L329.61,2077.56L331.49,2077.55L333.36,2077.34L335.24,2077.74L337.11,2078.68L338.99,2077.47L340.86,2078.72L342.74,2078.5L344.61,2077.77L346.49,2078.33L348.36,2079.36L350.24,2079.49L352.12,2080.02L353.99,2079.94L355.87,2079.86L357.74,2081.25L359.62,2080.61L361.49,2082L363.37,2082.45L365.24,2082.39L367.12,2082.61L368.99,2082.91L370.87,2083.53L372.74,2084.12L374.62,2084.64L376.49,2083.69L378.37,2083.21L380.24,2085.21L382.12,2085.82L384,2086.47L385.87,2087.41L387.75,2087.4L389.62,2089.79L391.5,2090.12L393.37,2090.33L395.25,2089.86L397.12,2091.32L399,2092.19L400.87,2093.45L402.75,2093.83L404.62,2092.73L406.5,2091.81L408.37,2093.56L410.25,2093.02L412.12,2093.29L414,2093.55" fill="none" stroke="#53c6ef" stroke-width="4.6" stroke-linejoin="round"/>
<path d="M95.2,2104.98L97.08,2103.07L98.95,2102.46L100.83,2101.51L102.7,2100.34L104.58,2099.56L106.45,2098.86L108.33,2098.41L110.2,2098.13L112.08,2098.01L113.95,2097.15L115.83,2096.77L117.7,2095.78L119.58,2094.55L121.45,2093.15L123.33,2091.36L125.2,2089.36L127.08,2088.36L128.96,2087.04L130.83,2085.81L132.71,2084.32L134.58,2081.76L136.46,2079.7L138.33,2077.37L140.21,2076.23L142.08,2073.99L143.96,2071.79L145.83,2068.88L147.71,2065.87L149.58,2063.35L151.46,2060.97L153.33,2058.71L155.21,2055.09L157.08,2052.73L158.96,2049.42L160.84,2046.33L162.71,2043.24L164.59,2039.95L166.46,2037.02L168.34,2034L170.21,2030.32L172.09,2025.99L173.96,2022.22L175.84,2018.16L177.71,2014.11L179.59,2009.39L181.46,2003.49L183.34,1998.32L185.21,1993.28L187.09,1988.81L188.96,1983.32L190.84,1978.37L192.72,1972.8L194.59,1966.37L196.47,1960.92L198.34,1955.68L200.22,1950.2L202.09,1943.63L203.97,1938.24L205.84,1931.85L207.72,1924.56L209.59,1918.42L211.47,1911.4L213.34,1905.06L215.22,1900.36L217.09,1895.82L218.97,1890.21L220.84,1884.57L222.72,1880.28L224.6,1875.29L226.47,1870.15L228.35,1864.97L230.22,1862.57L232.1,1858.36L233.97,1854.57L235.85,1852.71L237.72,1851.31L239.6,1849.57L241.47,1849.32L243.35,1848.38L245.22,1847.83L247.1,1847.5L248.97,1846.55L250.85,1846.17L252.72,1846.75L254.6,1844.86L256.48,1843.94L258.35,1843.27L260.23,1842.07L262.1,1841.59L263.98,1840.52L265.85,1840.99L267.73,1842.17L269.6,1844.13L271.48,1845.97L273.35,1847.13L275.23,1848.63L277.1,1852.45L278.98,1855.74L280.85,1857.9L282.73,1862.07L284.6,1866.49L286.48,1871.67L288.36,1876.61L290.23,1882.81L292.11,1889L293.98,1895.38L295.86,1902.37L297.73,1908.45L299.61,1913.51L301.48,1918.28L303.36,1923.74L305.23,1929.97L307.11,1935.61L308.98,1940.14L310.86,1945.81L312.73,1950.77L314.61,1955.09L316.48,1960.18L318.36,1964.84L320.24,1968.93L322.11,1973.6L323.99,1978.56L325.86,1983.98L327.74,1987.69L329.61,1992.4L331.49,1996.87L333.36,2001.27L335.24,2004.98L337.11,2010.29L338.99,2015.17L340.86,2019.9L342.74,2023.7L344.61,2028.1L346.49,2031.73L348.36,2035.62L350.24,2038.61L352.12,2042.07L353.99,2045.14L355.87,2047.87L357.74,2051.12L359.62,2053.89L361.49,2056.74L363.37,2059.99L365.24,2062.92L367.12,2067.22L368.99,2070.64L370.87,2073.26L372.74,2075.58L374.62,2076.9L376.49,2079.14L378.37,2080.27L380.24,2082.05L382.12,2083.77L384,2085.39L385.87,2087.54L387.75,2088.35L389.62,2091.06L391.5,2091.45L393.37,2092.86L395.25,2092.74L397.12,2094.49L399,2094.78L400.87,2096.22L402.75,2097.48L404.62,2099.16L406.5,2100.41L408.37,2101.4L410.25,2102.04L412.12,2104L414,2104.23" fill="none" stroke="#242a6a" stroke-width="5.2" stroke-linejoin="round"/>
</g>
<rect x="95.2" y="1827.3" width="318.8" height="308.2" fill="none" stroke="#231f20" stroke-width="1.3" />
<line x1="78" y1="2132" x2="95.2" y2="2132" stroke="#231f20" stroke-width="1.3" />
<text x="65.5" y="2140" font-size="22.3" text-anchor="end" textLength="14.39" lengthAdjust="spacingAndGlyphs">0</text>
<line x1="78" y1="2013.35" x2="95.2" y2="2013.35" stroke="#231f20" stroke-width="1.3" />
<text x="65.5" y="2021.35" font-size="22.3" text-anchor="end" textLength="64.73" lengthAdjust="spacingAndGlyphs">1,000</text>
<line x1="78" y1="1894.7" x2="95.2" y2="1894.7" stroke="#231f20" stroke-width="1.3" />
<text x="65.5" y="1902.7" font-size="22.3" text-anchor="end" textLength="64.73" lengthAdjust="spacingAndGlyphs">2,000</text>
<line x1="95.2" y1="2135.5" x2="95.2" y2="2147" stroke="#231f20" stroke-width="1.3" />
<line x1="254.6" y1="2135.5" x2="254.6" y2="2147" stroke="#231f20" stroke-width="1.3" />
<line x1="414" y1="2135.5" x2="414" y2="2147" stroke="#231f20" stroke-width="1.3" />
<text x="95.2" y="2175.8" font-size="22.5" text-anchor="middle" textLength="47.08" lengthAdjust="spacingAndGlyphs">−2.0</text>
<text x="264.1" y="2175.8" font-size="22.5" text-anchor="middle" textLength="71.58" lengthAdjust="spacingAndGlyphs">Centre</text>
<text x="411" y="2175.8" font-size="22.5" text-anchor="middle" textLength="64.97" lengthAdjust="spacingAndGlyphs">2.0 kb</text>
<clipPath id="cp6"><rect x="436.1" y="1827.3" width="319.3" height="308.2"/></clipPath>
<g clip-path="url(#cp6)">
<path d="M436.1,2130.24L437.98,2129.39L439.86,2130.46L441.73,2131.95L443.61,2131.51L445.49,2131.66L447.37,2131.73L449.25,2131.53L451.13,2131.39L453,2131.46L454.88,2130.75L456.76,2129.63L458.64,2128.86L460.52,2129.62L462.4,2129.96L464.27,2129.89L466.15,2128.65L468.03,2128.96L469.91,2129.23L471.79,2128.89L473.66,2128.79L475.54,2130.23L477.42,2130.66L479.3,2130.61L481.18,2130.31L483.06,2129.72L484.93,2129.39L486.81,2129.73L488.69,2129.1L490.57,2129.03L492.45,2129.95L494.33,2128.94L496.2,2128.58L498.08,2129.68L499.96,2129.58L501.84,2129.39L503.72,2128.72L505.59,2127.99L507.47,2128.89L509.35,2127.42L511.23,2128.1L513.11,2127.94L514.99,2128.05L516.86,2127.05L518.74,2127.96L520.62,2128.32L522.5,2128.34L524.38,2128.38L526.26,2127.44L528.13,2127.64L530.01,2127.88L531.89,2127.69L533.77,2125.93L535.65,2126.43L537.52,2126.8L539.4,2126.34L541.28,2126.65L543.16,2127.44L545.04,2127.15L546.92,2127.68L548.79,2126.98L550.67,2126.43L552.55,2126.58L554.43,2126.03L556.31,2125.25L558.19,2125.81L560.06,2125.94L561.94,2126.29L563.82,2125.71L565.7,2125.55L567.58,2125.92L569.45,2125.6L571.33,2125.52L573.21,2125.69L575.09,2125.25L576.97,2125.49L578.85,2124.71L580.72,2125.26L582.6,2126.73L584.48,2126.52L586.36,2125.84L588.24,2124.78L590.12,2124.38L591.99,2124.6L593.87,2124.47L595.75,2125.06L597.63,2125.24L599.51,2125.68L601.38,2125.43L603.26,2125.83L605.14,2126.38L607.02,2125.53L608.9,2125.46L610.78,2125.42L612.65,2125.43L614.53,2126.11L616.41,2125.76L618.29,2125.28L620.17,2124.79L622.05,2124.44L623.92,2124.98L625.8,2125.85L627.68,2125.95L629.56,2125.6L631.44,2125.75L633.31,2125.47L635.19,2126.34L637.07,2126.42L638.95,2127.2L640.83,2127.28L642.71,2127.34L644.58,2126.58L646.46,2126.9L648.34,2126.66L650.22,2126.45L652.1,2126.73L653.98,2127.68L655.85,2127.68L657.73,2128.5L659.61,2128.32L661.49,2127.17L663.37,2126.94L665.24,2128.09L667.12,2128.13L669,2127.91L670.88,2127.54L672.76,2127.66L674.64,2127.89L676.51,2127.62L678.39,2127.67L680.27,2127.9L682.15,2127.36L684.03,2127.5L685.91,2127.36L687.78,2127.35L689.66,2127.24L691.54,2127.34L693.42,2127.33L695.3,2128.67L697.17,2128.51L699.05,2128.73L700.93,2128.28L702.81,2128.52L704.69,2128.86L706.57,2129.67L708.44,2130.27L710.32,2129.53L712.2,2130.26L714.08,2129.85L715.96,2130.22L717.84,2129.81L719.71,2130L721.59,2129.72L723.47,2128.94L725.35,2129.48L727.23,2129.39L729.1,2129.45L730.98,2129.71L732.86,2130.03L734.74,2131.26L736.62,2130.2L738.5,2129.89L740.37,2129.5L742.25,2130.42L744.13,2130.21L746.01,2129.96L747.89,2130.37L749.77,2130.45L751.64,2130.76L753.52,2129.94L755.4,2130.24" fill="none" stroke="#242a6a" stroke-width="4.6" stroke-linejoin="round"/>
<path d="M436.1,2107.17L437.98,2108.53L439.86,2107.83L441.73,2106.13L443.61,2106.25L445.49,2104.03L447.37,2105.61L449.25,2104.54L451.13,2102.9L453,2102.43L454.88,2099.86L456.76,2099.73L458.64,2099.81L460.52,2099.58L462.4,2098.72L464.27,2096.41L466.15,2096.19L468.03,2094.23L469.91,2094.47L471.79,2093.66L473.66,2092.91L475.54,2093.87L477.42,2095.57L479.3,2096.04L481.18,2094.41L483.06,2093.34L484.93,2092.14L486.81,2091.77L488.69,2092.25L490.57,2092.86L492.45,2092.37L494.33,2092.55L496.2,2091.54L498.08,2091.61L499.96,2093.54L501.84,2094.84L503.72,2094.93L505.59,2094.71L507.47,2094.88L509.35,2094.26L511.23,2093.6L513.11,2095.05L514.99,2094.52L516.86,2095.87L518.74,2095.32L520.62,2096.24L522.5,2098.66L524.38,2099.24L526.26,2099.05L528.13,2099.41L530.01,2097.99L531.89,2099.75L533.77,2099.28L535.65,2099.14L537.52,2099.32L539.4,2100.35L541.28,2100.36L543.16,2100.55L545.04,2101.83L546.92,2102.4L548.79,2103.8L550.67,2104.23L552.55,2104.84L554.43,2102.85L556.31,2102.77L558.19,2103.08L560.06,2103.53L561.94,2102.53L563.82,2102.74L565.7,2103.21L567.58,2101.42L569.45,2100.28L571.33,2099.5L573.21,2099.93L575.09,2098.74L576.97,2098.99L578.85,2098.53L580.72,2097.6L582.6,2096.14L584.48,2099.07L586.36,2099.71L588.24,2099.76L590.12,2097.13L591.99,2097.81L593.87,2096.92L595.75,2095.41L597.63,2095.07L599.51,2094.88L601.38,2096.71L603.26,2096.33L605.14,2095.86L607.02,2096.04L608.9,2096.14L610.78,2094.53L612.65,2095.89L614.53,2095.82L616.41,2096.56L618.29,2097.69L620.17,2096.47L622.05,2098.34L623.92,2096.97L625.8,2096.25L627.68,2094.04L629.56,2096.25L631.44,2096.13L633.31,2095.78L635.19,2095.67L637.07,2096.78L638.95,2098.04L640.83,2098.53L642.71,2097.97L644.58,2097.32L646.46,2095.85L648.34,2096.25L650.22,2097.65L652.1,2097.74L653.98,2100.13L655.85,2100.72L657.73,2099.97L659.61,2100.44L661.49,2100.58L663.37,2099.87L665.24,2100.03L667.12,2099.13L669,2099.91L670.88,2101.84L672.76,2101.68L674.64,2103.83L676.51,2103.39L678.39,2104.14L680.27,2104.41L682.15,2103.55L684.03,2102.62L685.91,2103.58L687.78,2104.48L689.66,2104.2L691.54,2103.8L693.42,2100.77L695.3,2100.82L697.17,2102.11L699.05,2102.72L700.93,2102.15L702.81,2100.4L704.69,2100.66L706.57,2099.42L708.44,2099.47L710.32,2099.92L712.2,2097.73L714.08,2096.93L715.96,2096.88L717.84,2096.88L719.71,2096.49L721.59,2096.88L723.47,2097.09L725.35,2095.7L727.23,2095.26L729.1,2096.05L730.98,2094.49L732.86,2094.05L734.74,2092.36L736.62,2092.59L738.5,2095.54L740.37,2097.63L742.25,2096.78L744.13,2098.82L746.01,2099.26L747.89,2099.96L749.77,2100.38L751.64,2102.32L753.52,2101.41L755.4,2104" fill="none" stroke="#f0683a" stroke-width="4.6" stroke-linejoin="round"/>
<path d="M436.1,2075.04L437.98,2074.33L439.86,2074.67L441.73,2075.54L443.61,2076.26L445.49,2075.8L447.37,2075L449.25,2074.19L451.13,2073.49L453,2072.52L454.88,2071.42L456.76,2070.51L458.64,2072.2L460.52,2072.26L462.4,2073.08L464.27,2071.54L466.15,2071.9L468.03,2071.82L469.91,2072.26L471.79,2071.7L473.66,2072.25L475.54,2072.53L477.42,2072.9L479.3,2070.28L481.18,2069.35L483.06,2070.84L484.93,2072.6L486.81,2071.94L488.69,2070.8L490.57,2071.29L492.45,2070.72L494.33,2070.32L496.2,2070.92L498.08,2070.19L499.96,2068.27L501.84,2067.85L503.72,2068.58L505.59,2067.76L507.47,2068.17L509.35,2067.58L511.23,2068.02L513.11,2067.33L514.99,2067.95L516.86,2067.18L518.74,2066.03L520.62,2066.5L522.5,2066.51L524.38,2066.2L526.26,2064.52L528.13,2064.21L530.01,2064.96L531.89,2064.58L533.77,2062.87L535.65,2063.48L537.52,2062.83L539.4,2061.71L541.28,2060.33L543.16,2059.41L545.04,2059L546.92,2056.13L548.79,2055.67L550.67,2054.36L552.55,2054.66L554.43,2054.35L556.31,2053.81L558.19,2053.51L560.06,2054.06L561.94,2054.25L563.82,2051.56L565.7,2052.09L567.58,2050.8L569.45,2048.27L571.33,2048.92L573.21,2047.36L575.09,2046.29L576.97,2046.68L578.85,2045.8L580.72,2045.35L582.6,2045.77L584.48,2045.14L586.36,2042.21L588.24,2042.15L590.12,2041.26L591.99,2040.73L593.87,2040.37L595.75,2041.36L597.63,2041.93L599.51,2042.07L601.38,2043.29L603.26,2043.41L605.14,2043.31L607.02,2044.47L608.9,2045L610.78,2045.29L612.65,2046.45L614.53,2047.38L616.41,2048.03L618.29,2048.87L620.17,2049.56L622.05,2050.11L623.92,2053.55L625.8,2054.39L627.68,2053L629.56,2054.26L631.44,2054.37L633.31,2054.32L635.19,2054.88L637.07,2055.79L638.95,2056.97L640.83,2056.67L642.71,2056.52L644.58,2056.99L646.46,2054.95L648.34,2054.29L650.22,2053.98L652.1,2055.79L653.98,2055.72L655.85,2055.03L657.73,2054.61L659.61,2053.82L661.49,2054.41L663.37,2054.24L665.24,2054.43L667.12,2054.51L669,2054.63L670.88,2054.38L672.76,2053.57L674.64,2054.06L676.51,2054.34L678.39,2054.9L680.27,2056.65L682.15,2056.31L684.03,2057.57L685.91,2058.61L687.78,2059.32L689.66,2059.69L691.54,2060.74L693.42,2061.59L695.3,2061.84L697.17,2062.41L699.05,2062.59L700.93,2064.05L702.81,2067.78L704.69,2067.28L706.57,2068.99L708.44,2069.77L710.32,2071.22L712.2,2072.29L714.08,2072.49L715.96,2073.24L717.84,2073.65L719.71,2074.09L721.59,2074.55L723.47,2075.64L725.35,2074.56L727.23,2075.4L729.1,2076.22L730.98,2076.35L732.86,2077.27L734.74,2079.44L736.62,2079.31L738.5,2080.63L740.37,2081.35L742.25,2080.58L744.13,2080.07L746.01,2080.06L747.89,2079.87L749.77,2081.86L751.64,2081.38L753.52,2080.98L755.4,2080.17" fill="none" stroke="#53c6ef" stroke-width="4.6" stroke-linejoin="round"/>
</g>
<rect x="436.1" y="1827.3" width="319.3" height="308.2" fill="none" stroke="#231f20" stroke-width="1.3" />
<line x1="424.6" y1="2132" x2="436.1" y2="2132" stroke="#231f20" stroke-width="1.3" />
<line x1="424.6" y1="2013.35" x2="436.1" y2="2013.35" stroke="#231f20" stroke-width="1.3" />
<line x1="424.6" y1="1894.7" x2="436.1" y2="1894.7" stroke="#231f20" stroke-width="1.3" />
<line x1="436.1" y1="2135.5" x2="436.1" y2="2147" stroke="#231f20" stroke-width="1.3" />
<line x1="595.75" y1="2135.5" x2="595.75" y2="2147" stroke="#231f20" stroke-width="1.3" />
<line x1="755.4" y1="2135.5" x2="755.4" y2="2147" stroke="#231f20" stroke-width="1.3" />
<text x="1288" y="1789" font-size="22.5" text-anchor="middle">GDE1</text>
<clipPath id="cp7"><rect x="1109.5" y="1800.5" width="343.5" height="332.9"/></clipPath>
<g clip-path="url(#cp7)">
<path d="M1109.5,2122.65L1111.52,2122.51L1113.54,2121.63L1115.56,2122.46L1117.58,2122.53L1119.6,2122.6L1121.62,2122.52L1123.64,2123.4L1125.66,2123.48L1127.69,2123.72L1129.71,2122.83L1131.73,2122.17L1133.75,2121.37L1135.77,2121.41L1137.79,2119.74L1139.81,2121.67L1141.83,2121.8L1143.85,2121.83L1145.87,2122.36L1147.89,2121.82L1149.91,2121.9L1151.93,2122.29L1153.95,2120.91L1155.97,2122.31L1157.99,2122.04L1160.01,2122.18L1162.04,2121.11L1164.06,2120.72L1166.08,2122.03L1168.1,2121.25L1170.12,2120.81L1172.14,2121.11L1174.16,2121.89L1176.18,2119.67L1178.2,2120.96L1180.22,2120.86L1182.24,2121.19L1184.26,2120.03L1186.28,2120.21L1188.3,2121.19L1190.32,2120.57L1192.34,2119.83L1194.36,2119.5L1196.39,2119.25L1198.41,2120.02L1200.43,2120.08L1202.45,2119.65L1204.47,2120.28L1206.49,2119.39L1208.51,2118.63L1210.53,2120.87L1212.55,2120.11L1214.57,2121.23L1216.59,2120.75L1218.61,2120.39L1220.63,2120.71L1222.65,2119.99L1224.67,2119.59L1226.69,2119.81L1228.71,2119.85L1230.74,2120.65L1232.76,2122.01L1234.78,2120.71L1236.8,2120.16L1238.82,2120.97L1240.84,2121.32L1242.86,2121.97L1244.88,2121.11L1246.9,2121.53L1248.92,2121.35L1250.94,2120.19L1252.96,2120.93L1254.98,2120L1257,2120.9L1259.02,2120.77L1261.04,2120.88L1263.06,2122.55L1265.09,2123.13L1267.11,2122.73L1269.13,2122.47L1271.15,2121.51L1273.17,2122.33L1275.19,2122.39L1277.21,2121.41L1279.23,2120.27L1281.25,2120.73L1283.27,2120.88L1285.29,2121.68L1287.31,2120.86L1289.33,2120.47L1291.35,2121.12L1293.37,2121.28L1295.39,2121.96L1297.41,2122.48L1299.44,2121.4L1301.46,2119.74L1303.48,2120.4L1305.5,2120.24L1307.52,2120.81L1309.54,2119.12L1311.56,2119.88L1313.58,2120.46L1315.6,2120.36L1317.62,2121.02L1319.64,2121.12L1321.66,2121.26L1323.68,2122.06L1325.7,2122.53L1327.72,2122.73L1329.74,2122.27L1331.76,2121.82L1333.79,2121.83L1335.81,2121.65L1337.83,2120.8L1339.85,2121.04L1341.87,2121.5L1343.89,2120.81L1345.91,2119.87L1347.93,2120.39L1349.95,2119.72L1351.97,2118.76L1353.99,2118.97L1356.01,2118.2L1358.03,2118.92L1360.05,2118.73L1362.07,2118.98L1364.09,2119.84L1366.11,2120.33L1368.14,2119.79L1370.16,2118.01L1372.18,2118.2L1374.2,2117.93L1376.22,2119.7L1378.24,2121.82L1380.26,2122.96L1382.28,2123.75L1384.3,2123.94L1386.32,2124.02L1388.34,2123.29L1390.36,2123.65L1392.38,2122.96L1394.4,2121.88L1396.42,2121.96L1398.44,2122.97L1400.46,2122.26L1402.49,2120.66L1404.51,2121.69L1406.53,2121.55L1408.55,2121.64L1410.57,2120.96L1412.59,2121.21L1414.61,2122.15L1416.63,2121.18L1418.65,2121.54L1420.67,2121.54L1422.69,2120.74L1424.71,2121.01L1426.73,2121.49L1428.75,2120.83L1430.77,2121.85L1432.79,2120.95L1434.81,2122.01L1436.84,2122.32L1438.86,2122.31L1440.88,2121.63L1442.9,2121.27L1444.92,2120.11L1446.94,2120.96L1448.96,2121.43L1450.98,2122.22L1453,2123.04" fill="none" stroke="#53c6ef" stroke-width="4.3" stroke-linejoin="round"/>
<path d="M1109.5,2115.43L1111.52,2115.66L1113.54,2115L1115.56,2117.11L1117.58,2115.3L1119.6,2115.77L1121.62,2116.97L1123.64,2117.55L1125.66,2117.97L1127.69,2116.81L1129.71,2118.78L1131.73,2117.67L1133.75,2117.61L1135.77,2117.62L1137.79,2117.57L1139.81,2116.99L1141.83,2118.42L1143.85,2117.76L1145.87,2117.95L1147.89,2115.46L1149.91,2115.61L1151.93,2114.64L1153.95,2114.27L1155.97,2113.54L1157.99,2112.98L1160.01,2111.85L1162.04,2111.04L1164.06,2110.36L1166.08,2109.84L1168.1,2109.22L1170.12,2108.36L1172.14,2108.57L1174.16,2107.57L1176.18,2109.62L1178.2,2109.81L1180.22,2110.6L1182.24,2109.68L1184.26,2108.17L1186.28,2107.18L1188.3,2107.35L1190.32,2107.73L1192.34,2108.3L1194.36,2108.78L1196.39,2110.09L1198.41,2108.31L1200.43,2110.97L1202.45,2110.85L1204.47,2111.31L1206.49,2109.9L1208.51,2110.93L1210.53,2110.03L1212.55,2111.24L1214.57,2111.75L1216.59,2111.94L1218.61,2111.71L1220.63,2111.45L1222.65,2111.21L1224.67,2112.12L1226.69,2111.88L1228.71,2111.83L1230.74,2113.67L1232.76,2112.65L1234.78,2111.08L1236.8,2108.88L1238.82,2107.32L1240.84,2108.62L1242.86,2110.03L1244.88,2109.1L1246.9,2108.38L1248.92,2108.78L1250.94,2109.27L1252.96,2110.25L1254.98,2109.86L1257,2109.14L1259.02,2109.88L1261.04,2108.86L1263.06,2107.81L1265.09,2107.5L1267.11,2108.03L1269.13,2108.29L1271.15,2108.86L1273.17,2109.28L1275.19,2111.66L1277.21,2111.37L1279.23,2108.94L1281.25,2108.19L1283.27,2109.21L1285.29,2108.98L1287.31,2111.59L1289.33,2110.86L1291.35,2110.52L1293.37,2110.83L1295.39,2110.74L1297.41,2111.44L1299.44,2111.18L1301.46,2111.58L1303.48,2111.02L1305.5,2108.9L1307.52,2110.41L1309.54,2112.46L1311.56,2111.35L1313.58,2111.05L1315.6,2112.12L1317.62,2111.59L1319.64,2111.85L1321.66,2111.72L1323.68,2112.4L1325.7,2112.16L1327.72,2113.96L1329.74,2113.27L1331.76,2112.59L1333.79,2111.12L1335.81,2111.63L1337.83,2111L1339.85,2112.05L1341.87,2112.6L1343.89,2114.8L1345.91,2113.02L1347.93,2112.77L1349.95,2113.44L1351.97,2111.07L1353.99,2112.02L1356.01,2113.64L1358.03,2113L1360.05,2112.51L1362.07,2113.32L1364.09,2112.91L1366.11,2112.64L1368.14,2112.94L1370.16,2111.59L1372.18,2113.15L1374.2,2111.98L1376.22,2111.53L1378.24,2110.84L1380.26,2108.38L1382.28,2107.7L1384.3,2108.35L1386.32,2108.99L1388.34,2110.35L1390.36,2112.45L1392.38,2111.89L1394.4,2110.74L1396.42,2109.5L1398.44,2110.54L1400.46,2109.28L1402.49,2109.01L1404.51,2110.04L1406.53,2109.28L1408.55,2108.78L1410.57,2108.72L1412.59,2107.05L1414.61,2107.41L1416.63,2107.87L1418.65,2108.33L1420.67,2107.97L1422.69,2106.17L1424.71,2106.39L1426.73,2107.99L1428.75,2107.64L1430.77,2107.41L1432.79,2108.66L1434.81,2109.52L1436.84,2109.79L1438.86,2110.46L1440.88,2111.14L1442.9,2111.37L1444.92,2111.46L1446.94,2112.96L1448.96,2111.28L1450.98,2113.37L1453,2112.91" fill="none" stroke="#f0683a" stroke-width="4.3" stroke-linejoin="round"/>
<path d="M1109.5,2096.44L1111.52,2096.24L1113.54,2096.62L1115.56,2096.21L1117.58,2095.66L1119.6,2095.01L1121.62,2095.84L1123.64,2095.77L1125.66,2095.39L1127.69,2094.88L1129.71,2093.62L1131.73,2094.13L1133.75,2093.69L1135.77,2093.75L1137.79,2094.46L1139.81,2093.65L1141.83,2093.05L1143.85,2093.05L1145.87,2092.11L1147.89,2091.42L1149.91,2089.93L1151.93,2088.78L1153.95,2087.3L1155.97,2087.52L1157.99,2087.43L1160.01,2086.01L1162.04,2084.87L1164.06,2083.52L1166.08,2083.8L1168.1,2082.33L1170.12,2080.01L1172.14,2078.14L1174.16,2076.38L1176.18,2073.03L1178.2,2070.88L1180.22,2068.44L1182.24,2065.41L1184.26,2062.7L1186.28,2059.86L1188.3,2055.95L1190.32,2051.7L1192.34,2048.04L1194.36,2043.47L1196.39,2038.78L1198.41,2034.65L1200.43,2029.01L1202.45,2023L1204.47,2016.25L1206.49,2010.61L1208.51,2004.64L1210.53,1998.54L1212.55,1992.16L1214.57,1985.54L1216.59,1978.21L1218.61,1970.61L1220.63,1963.08L1222.65,1954.66L1224.67,1946.25L1226.69,1938.07L1228.71,1930.72L1230.74,1922.33L1232.76,1915.23L1234.78,1908.47L1236.8,1902.06L1238.82,1894.88L1240.84,1888.59L1242.86,1882.22L1244.88,1875.47L1246.9,1869.1L1248.92,1862.32L1250.94,1854.45L1252.96,1847.13L1254.98,1840.02L1257,1835.75L1259.02,1831.32L1261.04,1827.42L1263.06,1823.71L1265.09,1821.54L1267.11,1819.89L1269.13,1818.35L1271.15,1816.46L1273.17,1815.5L1275.19,1815.11L1277.21,1816L1279.23,1816.55L1281.25,1818.05L1283.27,1820.88L1285.29,1821.58L1287.31,1824.03L1289.33,1826.98L1291.35,1829.73L1293.37,1834.73L1295.39,1838.97L1297.41,1843.78L1299.44,1848.57L1301.46,1853.49L1303.48,1856.58L1305.5,1859.03L1307.52,1860.66L1309.54,1862.68L1311.56,1867.46L1313.58,1872.09L1315.6,1877.46L1317.62,1885.3L1319.64,1893.95L1321.66,1900.95L1323.68,1908.91L1325.7,1915.98L1327.72,1922.66L1329.74,1930.25L1331.76,1937.01L1333.79,1943.8L1335.81,1951.21L1337.83,1958.47L1339.85,1965.01L1341.87,1972.2L1343.89,1977.79L1345.91,1983.75L1347.93,1990.48L1349.95,1997.69L1351.97,2004.26L1353.99,2009.87L1356.01,2014.93L1358.03,2019.17L1360.05,2025.15L1362.07,2029.56L1364.09,2035.05L1366.11,2038.42L1368.14,2040.55L1370.16,2044.67L1372.18,2047.67L1374.2,2050.08L1376.22,2052.89L1378.24,2055.43L1380.26,2058.08L1382.28,2059.47L1384.3,2062.33L1386.32,2065.18L1388.34,2066.79L1390.36,2069.97L1392.38,2071.84L1394.4,2072.64L1396.42,2075.87L1398.44,2077.39L1400.46,2079.2L1402.49,2080.79L1404.51,2083.58L1406.53,2084.76L1408.55,2085.59L1410.57,2086.63L1412.59,2088.43L1414.61,2089.98L1416.63,2090.65L1418.65,2092.38L1420.67,2092.91L1422.69,2094.11L1424.71,2095.42L1426.73,2096.41L1428.75,2097.3L1430.77,2098.11L1432.79,2098.37L1434.81,2099.1L1436.84,2099.71L1438.86,2099.24L1440.88,2098.79L1442.9,2099.33L1444.92,2099.28L1446.94,2099.16L1448.96,2099.25L1450.98,2098.96L1453,2098.21" fill="none" stroke="#242a6a" stroke-width="4.3" stroke-linejoin="round"/>
</g>
<rect x="1109.5" y="1800.5" width="343.5" height="332.9" fill="none" stroke="#231f20" stroke-width="1.3" />
<line x1="1093" y1="2120.8" x2="1109.5" y2="2120.8" stroke="#231f20" stroke-width="1.3" />
<text x="1079.4" y="2128.8" font-size="22.3" text-anchor="end" textLength="14.39" lengthAdjust="spacingAndGlyphs">0</text>
<line x1="1093" y1="1992.3" x2="1109.5" y2="1992.3" stroke="#231f20" stroke-width="1.3" />
<text x="1079.4" y="2000.3" font-size="22.3" text-anchor="end" textLength="43.16" lengthAdjust="spacingAndGlyphs">500</text>
<line x1="1093" y1="1863.8" x2="1109.5" y2="1863.8" stroke="#231f20" stroke-width="1.3" />
<text x="1079.4" y="1871.8" font-size="22.3" text-anchor="end" textLength="64.73" lengthAdjust="spacingAndGlyphs">1,000</text>
<line x1="1109.5" y1="2133.4" x2="1109.5" y2="2144.9" stroke="#231f20" stroke-width="1.3" />
<line x1="1281.25" y1="2133.4" x2="1281.25" y2="2144.9" stroke="#231f20" stroke-width="1.3" />
<line x1="1453" y1="2133.4" x2="1453" y2="2144.9" stroke="#231f20" stroke-width="1.3" />
<text x="1109.5" y="2175.2" font-size="22.5" text-anchor="middle" textLength="47.08" lengthAdjust="spacingAndGlyphs">−2.0</text>
<text x="1281.25" y="2175.2" font-size="22.5" text-anchor="middle" textLength="71.58" lengthAdjust="spacingAndGlyphs">Centre</text>
<text x="1453" y="2175.2" font-size="22.5" text-anchor="middle" textLength="64.97" lengthAdjust="spacingAndGlyphs">2.0 kb</text>
<line x1="790.4" y1="1928.5" x2="818.6" y2="1928.5" stroke="#242a6a" stroke-width="4.1" />
<text x="832.2" y="1938.8" font-size="26.2">Group 1</text>
<line x1="790.4" y1="1962.5" x2="818.6" y2="1962.5" stroke="#53c6ef" stroke-width="4.1" />
<text x="832.2" y="1972.8" font-size="26.2">Group 2</text>
<line x1="790.4" y1="1997.1" x2="818.6" y2="1997.1" stroke="#f0683a" stroke-width="4.1" />
<text x="832.2" y="2007.4" font-size="26.2">Group 3</text>
</svg>
</body></html>
